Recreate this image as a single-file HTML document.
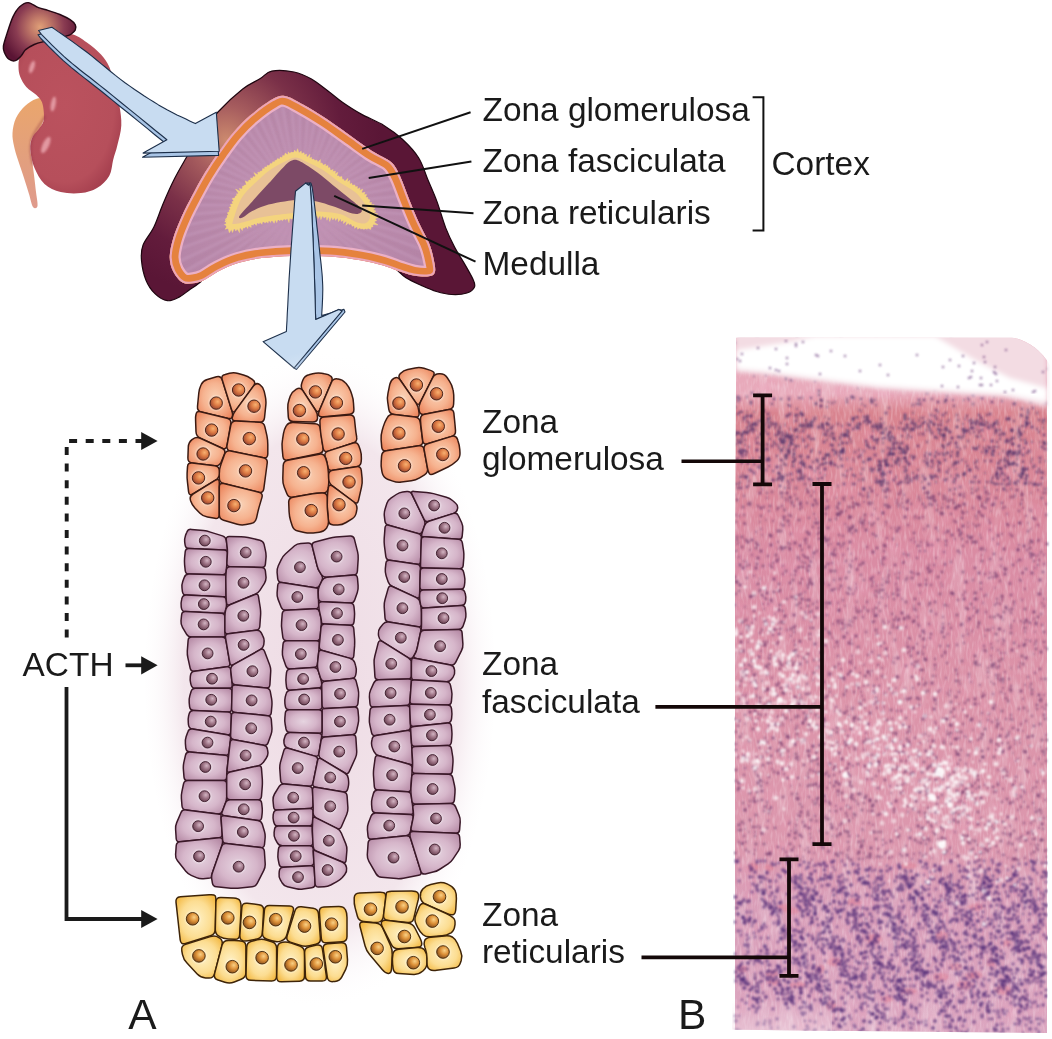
<!DOCTYPE html>
<html><head><meta charset="utf-8"><style>
html,body{margin:0;padding:0;background:#fff;width:1052px;height:1039px;overflow:hidden;}
svg{display:block;}
text{font-family:"Liberation Sans",sans-serif;fill:#1a1a1a;}
</style></head><body>
<svg width="1052" height="1039" viewBox="0 0 1052 1039">
<defs>
<radialGradient id="kid" cx="0.45" cy="0.45" r="0.6"><stop offset="0" stop-color="#bb525e"/><stop offset="0.8" stop-color="#b64f5b"/><stop offset="1" stop-color="#a6404f"/></radialGradient>
<radialGradient id="adr" gradientUnits="userSpaceOnUse" cx="40" cy="27" r="40"><stop offset="0" stop-color="#e0a078"/><stop offset="0.25" stop-color="#c07868"/><stop offset="0.6" stop-color="#8a3c52"/><stop offset="1" stop-color="#5a1434"/></radialGradient>
<linearGradient id="ure" x1="0" y1="0" x2="0" y2="1"><stop offset="0" stop-color="#eaa66c"/><stop offset="0.5" stop-color="#e3a07c"/><stop offset="1" stop-color="#df9a8c"/></linearGradient>
<radialGradient id="cap" gradientUnits="userSpaceOnUse" cx="226" cy="140" r="155"><stop offset="0" stop-color="#cc8a6e"/><stop offset="0.22" stop-color="#a65c5e"/><stop offset="0.5" stop-color="#7a3048"/><stop offset="0.75" stop-color="#631c3c"/><stop offset="1" stop-color="#5a1636"/></radialGradient>
<linearGradient id="arr" x1="0" y1="0" x2="1" y2="1"><stop offset="0" stop-color="#c9dcf1"/><stop offset="1" stop-color="#c3d8ef"/></linearGradient>
<filter id="kb" x="-50%" y="-50%" width="200%" height="200%"><feGaussianBlur stdDeviation="0.9"/></filter><filter id="sblur" x="-10%" y="-10%" width="120%" height="120%"><feGaussianBlur stdDeviation="1.2"/></filter><clipPath id="bandclip"><path d="M285,96 C290.2,96.8 296.2,100.8 303,104.6 C309.8,108.3 318.3,113.5 326,118.5 C333.7,123.5 341.3,129.3 349,134.7 C356.7,140.1 365,146.4 372,151 C379,155.6 386.3,157.8 391,162 C395.7,166.2 397,169.8 400,176 C403,182.2 405.9,191.3 409,199 C412.1,206.7 415.3,214.7 418.6,222 C421.9,229.3 426.4,236.8 428.9,242.8 C431.4,248.8 432.4,253.2 433.4,258 C434.4,262.8 435.8,268.6 435,271.7 C434.2,274.8 432.5,275.7 428.9,276.3 C425.3,276.9 418.7,276.4 413.6,275.5 C408.5,274.6 403.5,272.6 398.4,271 C393.3,269.4 389.5,267.4 383.2,265.6 C376.9,263.8 369.3,261.8 360.4,260.3 C351.5,258.8 341.4,257.2 330,256.5 C318.6,255.8 303.4,255.6 292,255.9 C280.6,256.2 270.6,257 261.7,258.1 C252.8,259.2 246,260.6 238.9,262.7 C231.8,264.8 224.8,268.1 219,271 C213.2,273.9 208.2,278.2 203.9,280.2 C199.6,282.2 196.8,282.8 193.2,283.2 C189.6,283.6 185.9,284.4 182.6,282.5 C179.3,280.6 175.5,275.9 173.3,271.7 C171.2,267.5 169.7,262.9 169.7,257.3 C169.7,251.7 171.3,244.8 173.3,238 C175.3,231.2 178.5,223.6 181.7,216.4 C184.9,209.2 188.8,201.9 192.6,194.7 C196.4,187.5 200.2,180.3 204.6,173.1 C209,165.9 214.2,158.2 219,151.4 C223.8,144.6 228.3,138.2 233.5,132.2 C238.7,126.2 243.9,120.8 250.3,115.3 C256.7,109.8 266.2,102.7 272,99.5 C277.8,96.3 279.8,95.2 285,96 Z"/></clipPath><radialGradient id="fas" gradientUnits="userSpaceOnUse" cx="300" cy="200" r="130"><stop offset="0" stop-color="#c090b0"/><stop offset="1" stop-color="#b686a8"/></radialGradient>
<radialGradient id="go" cx="0.5" cy="0.5" r="0.62"><stop offset="0" stop-color="#fad2b6"/><stop offset="0.55" stop-color="#f6b390"/><stop offset="1" stop-color="#ec875f"/></radialGradient>
<radialGradient id="gp" cx="0.5" cy="0.5" r="0.62"><stop offset="0" stop-color="#e6d4e0"/><stop offset="0.55" stop-color="#d6b6ca"/><stop offset="1" stop-color="#b78ca7"/></radialGradient>
<radialGradient id="gy" cx="0.5" cy="0.5" r="0.62"><stop offset="0" stop-color="#fff2c8"/><stop offset="0.6" stop-color="#fcdd92"/><stop offset="1" stop-color="#f3b944"/></radialGradient>
<radialGradient id="no" cx="0.62" cy="0.38" r="0.72"><stop offset="0" stop-color="#f8b070"/><stop offset="0.45" stop-color="#dc7a44"/><stop offset="1" stop-color="#8a3a2c"/></radialGradient>
<radialGradient id="np" cx="0.62" cy="0.38" r="0.72"><stop offset="0" stop-color="#d2b4c2"/><stop offset="0.45" stop-color="#9e7486"/><stop offset="1" stop-color="#5c3646"/></radialGradient>
<radialGradient id="ny" cx="0.62" cy="0.38" r="0.72"><stop offset="0" stop-color="#fad084"/><stop offset="0.45" stop-color="#dc9038"/><stop offset="1" stop-color="#7a4418"/></radialGradient>
<radialGradient id="glow" gradientUnits="userSpaceOnUse" cx="320" cy="680" r="330" gradientTransform="translate(320 680) scale(0.55 1) translate(-320 -680)"><stop offset="0" stop-color="#eedbe4"/><stop offset="0.75" stop-color="#f3e6ec"/><stop offset="1" stop-color="#ffffff" stop-opacity="0"/></radialGradient>
<clipPath id="hclip"><path d="M736.3,337.2 L1012,337.4 C1025,340 1040,348 1050.5,366 L1047.4,1033 L732.2,1029.6 Z"/></clipPath><linearGradient id="hbase" gradientUnits="userSpaceOnUse" x1="0" y1="338" x2="0" y2="1033">
<stop offset="0.08" stop-color="#e8aabb"/><stop offset="0.107" stop-color="#d9848f"/><stop offset="0.205" stop-color="#da8899"/>
<stop offset="0.32" stop-color="#da8ca4"/><stop offset="0.52" stop-color="#dc94a9"/><stop offset="0.737" stop-color="#dc98ae"/><stop offset="0.81" stop-color="#d99eb8"/><stop offset="1" stop-color="#dca6c0"/></linearGradient><filter id="mott" x="0" y="0" width="100%" height="100%">
<feTurbulence type="fractalNoise" baseFrequency="0.09 0.02" numOctaves="2" seed="4" result="n"/>
<feColorMatrix in="n" type="matrix" values="0 0 0 0 1  0 0 0 0 1  0 0 0 0 1  1.6 0 0 0 -0.8" result="w"/>
<feComposite in="w" in2="SourceGraphic" operator="in"/>
</filter><filter id="mott2" x="0" y="0" width="100%" height="100%">
<feTurbulence type="fractalNoise" baseFrequency="0.05" numOctaves="2" seed="9" result="n"/>
<feColorMatrix in="n" type="matrix" values="0 0 0 0 0.86  0 0 0 0 0.35  0 0 0 0 0.5  0 1.6 0 0 -0.85" result="w"/>
<feComposite in="w" in2="SourceGraphic" operator="in"/>
</filter><filter id="grain" x="0" y="0" width="100%" height="100%">
<feTurbulence type="fractalNoise" baseFrequency="0.45 0.12" numOctaves="1" seed="21" result="n"/>
<feColorMatrix in="n" type="matrix" values="0 0 0 0 1  0 0 0 0 0.9  0 0 0 0 0.95  2.2 0 0 0 -1.0" result="w"/>
<feComposite in="w" in2="SourceGraphic" operator="in"/>
</filter><filter id="soft" x="-2%" y="-2%" width="104%" height="104%"><feGaussianBlur stdDeviation="0.85"/></filter><filter id="soft2" x="-2%" y="-2%" width="104%" height="104%"><feGaussianBlur stdDeviation="1.3"/></filter><filter id="blur2" x="-5%" y="-20%" width="110%" height="140%"><feGaussianBlur stdDeviation="2.5"/></filter><linearGradient id="hbot" x1="0" y1="0" x2="0" y2="1"><stop offset="0" stop-color="#f4dce6" stop-opacity="0"/><stop offset="1" stop-color="#f4dce6" stop-opacity="0.55"/></linearGradient></defs>
<path d="M44,100 C42.5,97.3 39.2,98 36,99 C32.8,100 28.3,102.8 25,106 C21.7,109.2 18.1,113.5 16,118 C13.9,122.5 12.8,128.3 12.5,133 C12.2,137.7 13.1,141.5 14,146 C14.9,150.5 16.3,154.7 18,160 C19.7,165.3 22.2,172.3 24,178 C25.8,183.7 27.5,189.2 29,194 C30.5,198.8 31.6,205 33,207 C34.4,209 37,208.5 37.5,206 C38,203.5 36.6,197.2 36,192 C35.4,186.8 34.7,180.3 34,175 C33.3,169.7 32.7,164.5 32,160 C31.3,155.5 30,151.7 30,148 C30,144.3 30.3,141.3 32,138 C33.7,134.7 37.8,131.8 40,128 C42.2,124.2 44.3,119.7 45,115 C45.7,110.3 45.5,102.7 44,100 Z" fill="url(#ure)"/>
<path d="M50.5,37 C56,36 64.7,33.1 70.8,34 C76.9,34.9 81.9,39.1 86.9,42.5 C91.9,45.9 97.3,50.6 101,54.6 C104.7,58.6 107.2,62.3 109.2,66.7 C111.2,71.1 111.5,74.5 113.2,80.9 C114.9,87.3 118,97.7 119.3,105.1 C120.6,112.5 121.6,118.7 121.3,125.4 C121,132.2 118.6,139.9 117.3,145.6 C116,151.3 114.5,154.6 113.2,159.7 C111.9,164.8 111.9,171.2 109.2,175.9 C106.5,180.6 101.7,185.1 97,188 C92.3,190.9 87,192.4 80.9,193.1 C74.9,193.8 66.8,193.6 60.7,192.1 C54.6,190.6 48.9,188.1 44.5,184 C40.1,179.9 36.8,173.5 34.4,167.8 C32,162.1 30.7,154.7 30.3,149.6 C29.9,144.5 30.9,140.9 32.3,137.5 C33.6,134.1 36.5,132.1 38.4,129.4 C40.3,126.7 42.6,124.7 43.5,121.3 C44.4,117.9 43.9,112.6 43.5,109.2 C43.1,105.8 42.6,103.5 41.4,101.1 C40.2,98.7 38.9,97.4 36.4,95 C33.9,92.6 29,89.9 26.3,86.9 C23.6,83.9 21.5,80.2 20.2,76.8 C18.9,73.4 18.5,70 18.5,66.7 C18.5,63.4 18.4,60.5 20,57 C21.6,53.5 25,48.8 28,46 C31,43.2 34.2,41.5 38,40 C41.8,38.5 45,38 50.5,37 Z" fill="url(#kid)"/>
<path d="M45,116 C41,124 34,131 31.5,140 C30,147 30.5,156 33,165" fill="none" stroke="#8e3040" stroke-width="2" opacity="0.45" filter="url(#kb)"/>
<ellipse cx="32" cy="67" rx="2.4" ry="6.5" transform="rotate(18 32 67)" fill="#eaa6ae" opacity="0.85" filter="url(#kb)"/>
<ellipse cx="53.3" cy="104" rx="2.4" ry="7.5" transform="rotate(10 53.3 104)" fill="#eaa6ae" opacity="0.85" filter="url(#kb)"/>
<ellipse cx="45.8" cy="145" rx="3.2" ry="9" transform="rotate(25 45.8 145)" fill="#eaa6ae" opacity="0.85" filter="url(#kb)"/>
<path d="M28.2,2.6 C31.3,2.8 35.2,6.4 38.5,7.7 C41.8,9 44.3,9.2 47.9,10.3 C51.5,11.4 56.2,12.9 59.9,14.5 C63.6,16.1 67.5,18 70.1,19.7 C72.7,21.4 74.4,23.1 75.3,24.8 C76.2,26.5 76,28.3 75.3,29.9 C74.6,31.5 72.4,33.2 71,34.2 C69.6,35.2 69.4,35 66.7,35.9 C64,36.8 59,38.5 55,39.5 C51,40.5 46.3,41.1 42.8,41.9 C39.3,42.7 37.1,43.2 34.2,44.5 C31.4,45.8 27.8,47.8 25.7,49.6 C23.6,51.5 23.1,53.8 21.4,55.6 C19.7,57.5 17.5,60.1 15.4,60.7 C13.3,61.3 10.4,60.4 8.6,59 C6.7,57.6 5.2,54.3 4.3,52.2 C3.4,50.1 3,49.2 3.4,46.2 C3.8,43.2 5.2,39.1 6.8,34.2 C8.4,29.4 10.7,21.7 12.8,17.1 C15,12.5 17.1,9.2 19.7,6.8 C22.3,4.4 25.1,2.5 28.2,2.6 Z" fill="url(#adr)" stroke="#250814" stroke-width="1.4"/>
<path d="M271.8,71.1 C277.5,70 287.5,70.7 294,72 C300.5,73.3 305.3,75.6 311,78.8 C316.7,82 322.8,87.1 328,91 C333.2,94.9 336.9,98.5 342.4,102.3 C347.9,106.1 353.9,110.1 360.8,113.9 C367.7,117.8 377,121.2 383.9,125.4 C390.8,129.6 396.6,133.9 402.4,139.3 C408.2,144.7 414.3,151 418.6,157.8 C422.9,164.6 424.9,172.7 428,180 C431.1,187.3 434.1,193.7 437,201.6 C439.9,209.5 442.7,220 445.6,227.6 C448.6,235.2 451.7,241.6 454.7,247.4 C457.7,253.2 460.8,257.3 463.8,262.6 C466.9,267.9 471.2,275.2 473,279.3 C474.8,283.4 475.5,284.6 474.5,286.9 C473.5,289.2 470.7,291.7 466.9,293 C463.1,294.3 456.8,294.8 451.7,294.5 C446.6,294.2 441.6,293 436.5,291.5 C431.4,290 426.4,287.7 421.3,285.4 C416.2,283.1 410.3,280.6 406,277.8 C401.7,275 399.2,271.2 395.4,268.7 C391.6,266.2 388.9,264.9 383,263 C377.1,261.1 368.8,258.9 360,257.5 C351.2,256.1 341.3,255.2 330,254.5 C318.7,253.8 303.3,253.4 292,253.5 C280.7,253.6 270.8,254.1 262,255 C253.2,255.9 246.2,257.2 239,259 C231.8,260.8 224.7,263.2 219,266 C213.3,268.8 208,273.4 205,276 C202,278.6 203.3,279.5 200.8,281.7 C198.3,283.9 193.8,286.8 190.2,289.3 C186.6,291.8 183.3,295 179.5,296.9 C175.7,298.8 171.5,301.2 167.4,300.7 C163.3,300.2 158.8,297.3 155.2,293.9 C151.6,290.5 148.3,285.8 146,280.2 C143.7,274.6 142,266.2 141.5,260.4 C141,254.6 140.9,250.8 143,245.2 C145.1,239.6 150.6,233.9 153.9,227 C157.2,220.1 159.6,212.1 163,204 C166.4,195.9 170.7,186.2 174.6,178.5 C178.5,170.8 182,165.1 186.2,157.8 C190.4,150.6 194.7,142.6 200,135 C205.3,127.4 210.9,119.7 218,112 C225.1,104.3 235.7,94.5 242.7,89 C249.7,83.5 255,81.8 259.9,78.8 C264.8,75.8 266.1,72.2 271.8,71.1 Z" fill="url(#cap)" stroke="#1e0610" stroke-width="1.2"/>
<g clip-path="url(#bandclip)"><path d="M285,96 C290.2,96.8 296.2,100.8 303,104.6 C309.8,108.3 318.3,113.5 326,118.5 C333.7,123.5 341.3,129.3 349,134.7 C356.7,140.1 365,146.4 372,151 C379,155.6 386.3,157.8 391,162 C395.7,166.2 397,169.8 400,176 C403,182.2 405.9,191.3 409,199 C412.1,206.7 415.3,214.7 418.6,222 C421.9,229.3 426.4,236.8 428.9,242.8 C431.4,248.8 432.4,253.2 433.4,258 C434.4,262.8 435.8,268.6 435,271.7 C434.2,274.8 432.5,275.7 428.9,276.3 C425.3,276.9 418.7,276.4 413.6,275.5 C408.5,274.6 403.5,272.6 398.4,271 C393.3,269.4 389.5,267.4 383.2,265.6 C376.9,263.8 369.3,261.8 360.4,260.3 C351.5,258.8 341.4,257.2 330,256.5 C318.6,255.8 303.4,255.6 292,255.9 C280.6,256.2 270.6,257 261.7,258.1 C252.8,259.2 246,260.6 238.9,262.7 C231.8,264.8 224.8,268.1 219,271 C213.2,273.9 208.2,278.2 203.9,280.2 C199.6,282.2 196.8,282.8 193.2,283.2 C189.6,283.6 185.9,284.4 182.6,282.5 C179.3,280.6 175.5,275.9 173.3,271.7 C171.2,267.5 169.7,262.9 169.7,257.3 C169.7,251.7 171.3,244.8 173.3,238 C175.3,231.2 178.5,223.6 181.7,216.4 C184.9,209.2 188.8,201.9 192.6,194.7 C196.4,187.5 200.2,180.3 204.6,173.1 C209,165.9 214.2,158.2 219,151.4 C223.8,144.6 228.3,138.2 233.5,132.2 C238.7,126.2 243.9,120.8 250.3,115.3 C256.7,109.8 266.2,102.7 272,99.5 C277.8,96.3 279.8,95.2 285,96 Z" fill="url(#fas)"/><path d="M320.0,205.0L520.0,205.0M319.9,206.7L519.2,224.2M319.7,208.5L516.7,243.2M319.3,210.2L512.5,261.9M318.8,211.8L506.7,280.2M318.1,213.5L499.4,298.0M317.3,215.0L490.5,315.0M316.4,216.5L480.2,331.2M315.3,217.9L468.5,346.4M314.1,219.1L455.6,360.6M312.9,220.3L441.4,373.5M311.5,221.4L426.2,385.2M310.0,222.3L410.0,395.5M308.5,223.1L393.0,404.4M306.8,223.8L375.2,411.7M305.2,224.3L356.9,417.5M303.5,224.7L338.2,421.7M301.7,224.9L319.2,424.2M300.0,225.0L300.0,425.0M298.3,224.9L280.8,424.2M296.5,224.7L261.8,421.7M294.8,224.3L243.1,417.5M293.2,223.8L224.8,411.7M291.5,223.1L207.0,404.4M290.0,222.3L190.0,395.5M288.5,221.4L173.8,385.2M287.1,220.3L158.6,373.5M285.9,219.1L144.4,360.6M284.7,217.9L131.5,346.4M283.6,216.5L119.8,331.2M282.7,215.0L109.5,315.0M281.9,213.5L100.6,298.0M281.2,211.8L93.3,280.2M280.7,210.2L87.5,261.9M280.3,208.5L83.3,243.2M280.1,206.7L80.8,224.2M280.0,205.0L80.0,205.0M280.1,203.3L80.8,185.8M280.3,201.5L83.3,166.8M280.7,199.8L87.5,148.1M281.2,198.2L93.3,129.8M281.9,196.5L100.6,112.0M282.7,195.0L109.5,95.0M283.6,193.5L119.8,78.8M284.7,192.1L131.5,63.6M285.9,190.9L144.4,49.4M287.1,189.7L158.6,36.5M288.5,188.6L173.8,24.8M290.0,187.7L190.0,14.5M291.5,186.9L207.0,5.6M293.2,186.2L224.8,-1.7M294.8,185.7L243.1,-7.5M296.5,185.3L261.8,-11.7M298.3,185.1L280.8,-14.2M300.0,185.0L300.0,-15.0M301.7,185.1L319.2,-14.2M303.5,185.3L338.2,-11.7M305.2,185.7L356.9,-7.5M306.8,186.2L375.2,-1.7M308.5,186.9L393.0,5.6M310.0,187.7L410.0,14.5M311.5,188.6L426.2,24.8M312.9,189.7L441.4,36.5M314.1,190.9L455.6,49.4M315.3,192.1L468.5,63.6M316.4,193.5L480.2,78.8M317.3,195.0L490.5,95.0M318.1,196.5L499.4,112.0M318.8,198.2L506.7,129.8M319.3,199.8L512.5,148.1M319.7,201.5L516.7,166.8M319.9,203.3L519.2,185.8" stroke="#cca4c6" stroke-width="3" opacity="0.3" filter="url(#sblur)"/><path d="M320.0,205.9L519.8,214.6M319.5,209.3L514.8,252.6M318.5,212.7L503.3,289.2M316.9,215.7L485.5,323.2M314.7,218.5L462.2,353.6M312.2,220.9L433.9,379.5M309.2,222.7L401.6,400.1M306.0,224.1L366.2,414.8M302.6,224.8L328.7,423.1M299.1,225.0L290.4,424.8M295.7,224.5L252.4,419.8M292.3,223.5L215.8,408.3M289.3,221.9L181.8,390.5M286.5,219.7L151.4,367.2M284.1,217.2L125.5,338.9M282.3,214.2L104.9,306.6M280.9,211.0L90.2,271.2M280.2,207.6L81.9,233.7M280.0,204.1L80.2,195.4M280.5,200.7L85.2,157.4M281.5,197.3L96.7,120.8M283.1,194.3L114.5,86.8M285.3,191.5L137.8,56.4M287.8,189.1L166.1,30.5M290.8,187.3L198.4,9.9M294.0,185.9L233.8,-4.8M297.4,185.2L271.3,-13.1M300.9,185.0L309.6,-14.8M304.3,185.5L347.6,-9.8M307.7,186.5L384.2,1.7M310.7,188.1L418.2,19.5M313.5,190.3L448.6,42.8M315.9,192.8L474.5,71.1M317.7,195.8L495.1,103.4M319.1,199.0L509.8,138.8M319.8,202.4L518.1,176.3" stroke="#a87898" stroke-width="2" opacity="0.15" filter="url(#sblur)"/><path d="M285,96 C290.2,96.8 296.2,100.8 303,104.6 C309.8,108.3 318.3,113.5 326,118.5 C333.7,123.5 341.3,129.3 349,134.7 C356.7,140.1 365,146.4 372,151 C379,155.6 386.3,157.8 391,162 C395.7,166.2 397,169.8 400,176 C403,182.2 405.9,191.3 409,199 C412.1,206.7 415.3,214.7 418.6,222 C421.9,229.3 426.4,236.8 428.9,242.8 C431.4,248.8 432.4,253.2 433.4,258 C434.4,262.8 435.8,268.6 435,271.7 C434.2,274.8 432.5,275.7 428.9,276.3 C425.3,276.9 418.7,276.4 413.6,275.5 C408.5,274.6 403.5,272.6 398.4,271 C393.3,269.4 389.5,267.4 383.2,265.6 C376.9,263.8 369.3,261.8 360.4,260.3 C351.5,258.8 341.4,257.2 330,256.5 C318.6,255.8 303.4,255.6 292,255.9 C280.6,256.2 270.6,257 261.7,258.1 C252.8,259.2 246,260.6 238.9,262.7 C231.8,264.8 224.8,268.1 219,271 C213.2,273.9 208.2,278.2 203.9,280.2 C199.6,282.2 196.8,282.8 193.2,283.2 C189.6,283.6 185.9,284.4 182.6,282.5 C179.3,280.6 175.5,275.9 173.3,271.7 C171.2,267.5 169.7,262.9 169.7,257.3 C169.7,251.7 171.3,244.8 173.3,238 C175.3,231.2 178.5,223.6 181.7,216.4 C184.9,209.2 188.8,201.9 192.6,194.7 C196.4,187.5 200.2,180.3 204.6,173.1 C209,165.9 214.2,158.2 219,151.4 C223.8,144.6 228.3,138.2 233.5,132.2 C238.7,126.2 243.9,120.8 250.3,115.3 C256.7,109.8 266.2,102.7 272,99.5 C277.8,96.3 279.8,95.2 285,96 Z" fill="none" stroke="#ebb0c6" stroke-width="22"/><path d="M285,96 C290.2,96.8 296.2,100.8 303,104.6 C309.8,108.3 318.3,113.5 326,118.5 C333.7,123.5 341.3,129.3 349,134.7 C356.7,140.1 365,146.4 372,151 C379,155.6 386.3,157.8 391,162 C395.7,166.2 397,169.8 400,176 C403,182.2 405.9,191.3 409,199 C412.1,206.7 415.3,214.7 418.6,222 C421.9,229.3 426.4,236.8 428.9,242.8 C431.4,248.8 432.4,253.2 433.4,258 C434.4,262.8 435.8,268.6 435,271.7 C434.2,274.8 432.5,275.7 428.9,276.3 C425.3,276.9 418.7,276.4 413.6,275.5 C408.5,274.6 403.5,272.6 398.4,271 C393.3,269.4 389.5,267.4 383.2,265.6 C376.9,263.8 369.3,261.8 360.4,260.3 C351.5,258.8 341.4,257.2 330,256.5 C318.6,255.8 303.4,255.6 292,255.9 C280.6,256.2 270.6,257 261.7,258.1 C252.8,259.2 246,260.6 238.9,262.7 C231.8,264.8 224.8,268.1 219,271 C213.2,273.9 208.2,278.2 203.9,280.2 C199.6,282.2 196.8,282.8 193.2,283.2 C189.6,283.6 185.9,284.4 182.6,282.5 C179.3,280.6 175.5,275.9 173.3,271.7 C171.2,267.5 169.7,262.9 169.7,257.3 C169.7,251.7 171.3,244.8 173.3,238 C175.3,231.2 178.5,223.6 181.7,216.4 C184.9,209.2 188.8,201.9 192.6,194.7 C196.4,187.5 200.2,180.3 204.6,173.1 C209,165.9 214.2,158.2 219,151.4 C223.8,144.6 228.3,138.2 233.5,132.2 C238.7,126.2 243.9,120.8 250.3,115.3 C256.7,109.8 266.2,102.7 272,99.5 C277.8,96.3 279.8,95.2 285,96 Z" fill="none" stroke="#e5823e" stroke-width="17.5"/><path d="M285,96 C290.2,96.8 296.2,100.8 303,104.6 C309.8,108.3 318.3,113.5 326,118.5 C333.7,123.5 341.3,129.3 349,134.7 C356.7,140.1 365,146.4 372,151 C379,155.6 386.3,157.8 391,162 C395.7,166.2 397,169.8 400,176 C403,182.2 405.9,191.3 409,199 C412.1,206.7 415.3,214.7 418.6,222 C421.9,229.3 426.4,236.8 428.9,242.8 C431.4,248.8 432.4,253.2 433.4,258 C434.4,262.8 435.8,268.6 435,271.7 C434.2,274.8 432.5,275.7 428.9,276.3 C425.3,276.9 418.7,276.4 413.6,275.5 C408.5,274.6 403.5,272.6 398.4,271 C393.3,269.4 389.5,267.4 383.2,265.6 C376.9,263.8 369.3,261.8 360.4,260.3 C351.5,258.8 341.4,257.2 330,256.5 C318.6,255.8 303.4,255.6 292,255.9 C280.6,256.2 270.6,257 261.7,258.1 C252.8,259.2 246,260.6 238.9,262.7 C231.8,264.8 224.8,268.1 219,271 C213.2,273.9 208.2,278.2 203.9,280.2 C199.6,282.2 196.8,282.8 193.2,283.2 C189.6,283.6 185.9,284.4 182.6,282.5 C179.3,280.6 175.5,275.9 173.3,271.7 C171.2,267.5 169.7,262.9 169.7,257.3 C169.7,251.7 171.3,244.8 173.3,238 C175.3,231.2 178.5,223.6 181.7,216.4 C184.9,209.2 188.8,201.9 192.6,194.7 C196.4,187.5 200.2,180.3 204.6,173.1 C209,165.9 214.2,158.2 219,151.4 C223.8,144.6 228.3,138.2 233.5,132.2 C238.7,126.2 243.9,120.8 250.3,115.3 C256.7,109.8 266.2,102.7 272,99.5 C277.8,96.3 279.8,95.2 285,96 Z" fill="none" stroke="#eba5b8" stroke-width="4"/></g>
<path d="M226.5,222.4 C227.6,217 232.4,203.3 236.2,196.6 C239.9,189.9 243.6,187.1 249,182 C254.4,176.9 262.6,170.2 268.5,165.9 C274.4,161.6 280,158.5 284.6,156.2 C289.2,153.9 291.9,151.8 296,152.1 C300.1,152.4 304.1,155.5 308.9,157.8 C313.7,160.1 319.6,162.4 325,165.9 C330.4,169.4 335.8,175 341.2,178.8 C346.6,182.6 352.8,184.7 357.4,188.5 C362,192.3 365.8,196.6 368.7,201.4 C371.6,206.2 374.8,213.3 375.1,217.6 C375.4,221.9 373.2,225.7 370.3,227.3 C367.4,228.9 362.2,228.7 357.4,227.3 C352.5,226 347.9,221.1 341.2,219.2 C334.5,217.3 323.7,216.3 317,216 C310.3,215.7 306.2,217.1 300.8,217.6 C295.4,218.1 291.3,218.4 284.6,219.2 C277.9,220 267.1,221.1 260.4,222.4 C253.7,223.8 249.3,226.2 244.2,227.3 C239.1,228.4 232.6,229.7 229.7,228.9 C226.8,228.1 225.4,227.8 226.5,222.4 Z" fill="#f4d47e"/>
<path d="M224.8,222 L227.9,221.2 L225.2,219.2 L228.3,217.8 L226.9,215.9 L228.6,215.1 L227.4,213.2 L230,212.3 L229.5,210.9 L230.5,209.3 L229.1,207.2 L231.4,206.7 L230.3,204.3 L233.3,203.7 L232.2,202 L234,201.3 L232.4,198.8 L234.9,197.9 L235,196.5 L236.9,195.6 L236.5,193.7 L238.9,193.9 L235.5,189 L240.6,191.4 L239.3,188.4 L242.8,189.2 L242.2,186.5 L243.8,186.1 L244.5,184.9 L246.4,184.9 L245.2,180.9 L248.1,182.1 L248.9,180.1 L250.9,180.3 L250.6,177.9 L252.8,178.3 L253.1,176.5 L255.9,177.1 L253.9,172.6 L258.2,175.1 L257.7,172.2 L259.9,172.3 L260.2,171.2 L262.2,171 L262.6,168.6 L264.5,168.9 L264.7,166.9 L266.9,166.9 L267.3,165.3 L269.4,165.7 L270.2,163.5 L272.2,163.7 L272.7,161.7 L274.8,162 L274.9,160.4 L277,160 L277.4,158.6 L280,159.2 L280,157.1 L282.2,157.8 L282.7,155.4 L284.3,155.8 L285.2,153 L288.1,155.1 L288,151.8 L290.2,153.8 L291,152 L293.4,153.2 L294.6,150.1 L296.3,152.2 L297.6,148.7 L299,152.9 L301.2,151 L301.6,153.5 L304,152.7 L304.5,155.1 L306.5,154 L306.7,157.8 L310,154.2 L309.4,158.2 L311.6,157.2 L311.7,160 L313.8,159 L314.7,160.7 L316.9,160 L317.7,162.3 L320.4,159.6 L320.4,163.7 L322,162.8 L323.1,165.2 L325.6,164 L325.7,166.2 L328,165.5 L328.1,168 L329.9,167.6 L330.4,170.5 L333.2,169.4 L332.6,171.5 L335.5,171.1 L335,174 L337.8,172.3 L336.8,176.6 L338.8,175.7 L339.5,177.1 L341.9,176.5 L342.3,179.6 L344,179.6 L344.3,181.7 L348,178.3 L347.4,182.1 L349.8,180.3 L349.9,184.2 L351.8,183.1 L352.1,185.2 L354.9,184.9 L355.3,186.7 L357.5,186.4 L357.2,189.4 L359.8,187.7 L359.8,190.4 L362.8,189.1 L361.3,193 L364.9,192.2 L364.2,194.6 L366.7,194.6 L365.5,197.4 L367.7,197.3 L367.9,199.1 L370,199.9 L369.2,202.4 L371.7,202.4 L371.2,204.7 L374.2,204.6 L372.5,207.4 L375.1,208.1 L373.1,210 L376,211.1 L373.8,213 L377.7,213.8 L374.4,215.9 L378.6,217.1 L374.9,218.9 L376.8,220.6 L373.8,221.7 L378,224.9 L372.4,224.3 L373.1,227 L371.4,226.7 L370.7,229.6 L368.1,228.2 L367.1,229.3 L365.3,228.5 L363.9,229.5 L362.7,228.7 L360.8,229.1 L359.7,228 L357.6,229.2 L357,226.4 L354.7,228.5 L354,225.3 L352,226.4 L351.7,223.8 L349.1,224.6 L348.6,222.9 L345.8,225.3 L346.8,220.7 L343.3,223.6 L343.5,220.2 L341.1,221.4 L340.9,218.4 L338.4,221.8 L337.7,217.4 L335.6,220.4 L334.7,217.7 L332.8,220.1 L331.5,217.1 L329.7,221.4 L328.7,216.7 L326.9,220.2 L326.2,216.5 L324.1,218.1 L322.6,215.6 L320.9,219.7 L320.1,215.3 L318.2,218.5 L316.7,215.2 L315,217.8 L313.6,215.6 L312.3,218.6 L310.6,216 L310,218.5 L308.1,216.3 L306.5,218.6 L305,216.8 L303.8,221.1 L301.7,217.1 L300.7,219.4 L299.3,217.1 L297.3,219 L296.1,217.3 L294.8,220.4 L293.2,218.1 L291.9,219.3 L289.7,217.7 L289,222.7 L287.2,218.1 L285.7,220.2 L284.2,218.3 L282.5,220.7 L280.7,219.1 L279.9,221 L278.1,219.1 L276.7,222.7 L275.4,219.4 L274.2,223.3 L271.7,220 L270.5,222.5 L268.7,220.1 L268.1,223.1 L266.4,221.8 L265.2,223.1 L262.8,221.2 L261.9,224.3 L259.8,222.1 L259.1,223.9 L257.3,222.4 L256.3,225.4 L254.2,223.3 L253.2,225.3 L251.2,224.2 L251.2,227.6 L248.4,225.8 L247.7,228.6 L246.2,226.4 L244.3,228.3 L243.4,227.5 L242.3,230.6 L239.8,227.2 L239.6,232.7 L237.2,228.9 L235.8,231.1 L234.3,228.1 L232.5,232.6 L231.4,229.6 L229.3,232.8 L228.1,228.5 L225,229.2 L227.1,226.3 L224.3,224.5 L226.6,223.5 L225.7,221.6 L227,220.9 L226,218.5 L228.2,218.1 L227.2,215.4 L229.5,215.3 L227.6,212.4 L229.6,211.8 L229.1,210.1 L231.4,209 L230.3,207.1 L231.7,206.5 L231.8,205 L233.3,203.7 L231.8,201.8 L234.2,201 L232.5,198.3 L236.4,198.5 Z" fill="#f4d47e" stroke="#f4d47e" stroke-width="0.4"/>
<path d="M233,221 C234.2,216.8 237.7,205 241,199 C244.3,193 248.2,189.8 253,185 C257.8,180.2 264.5,174 270,170 C275.5,166 281.7,163.1 286,161 C290.3,158.9 292.5,157.3 296,157.5 C299.5,157.7 302.5,159.9 307,162 C311.5,164.1 317.7,166.7 323,170 C328.3,173.3 333.7,178.3 339,182 C344.3,185.7 350.7,188.3 355,192 C359.3,195.7 362.5,200 365,204 C367.5,208 369.8,212.8 370,216 C370.2,219.2 368.3,222 366,223 C363.7,224 360.3,223.5 356,222 C351.7,220.5 346.5,215.8 340,214 C333.5,212.2 323.5,211.8 317,211.5 C310.5,211.2 306.2,212.1 300.8,212.5 C295.4,212.9 291.3,213.2 284.6,214 C277.9,214.8 267.1,216.2 260.4,217.5 C253.7,218.8 248.6,220.9 244.2,222 C239.8,223.1 235.9,224.2 234,224 C232.1,223.8 231.8,225.2 233,221 Z" fill="#e8c196"/>
<path d="M239.4,216 C241,213.3 247.5,206.8 252.3,201.4 C257.2,196 263.1,189.5 268.5,183.6 C273.9,177.7 280.6,169.8 284.6,165.9 C288.6,162 290,160.9 292.7,160.2 C295.4,159.5 296.8,159.8 300.8,161.8 C304.9,163.8 311.6,168.4 317,172.3 C322.4,176.2 327.6,180.9 333,185.2 C338.4,189.5 344.7,194.4 349.3,198.2 C353.9,202 358.7,205.5 360.6,207.9 C362.5,210.3 362,211.8 360.6,212.7 C359.2,213.6 357.1,214.6 352.5,213.5 C347.9,212.4 338.9,208.3 333,206.3 C327.1,204.3 322.4,202.5 317,201.4 C311.6,200.3 306.2,199.8 300.8,199.8 C295.4,199.8 290,200.6 284.6,201.4 C279.2,202.2 273.9,203 268.5,204.6 C263.1,206.2 256.6,208.9 252.3,211.1 C248,213.3 244.8,216.8 242.6,217.6 C240.4,218.4 237.8,218.7 239.4,216 Z" fill="#7d4a66"/>
<path d="M38,34.7 L51.3,31.4 L54,33.3 L57.5,35.8 L61.8,38.7 L66.5,42.1 L71.5,45.6 L76.6,49.3 L81.6,52.9 L86.4,56.5 L91,60.1 L95.7,63.9 L100.4,67.8 L105.2,71.7 L110,75.7 L114.8,79.6 L119.6,83.3 L124.4,86.9 L129.2,90.3 L134,93.7 L138.9,97 L143.8,100.2 L148.6,103.3 L153.3,106.2 L157.9,109.1 L162.4,111.7 L166.9,114.2 L171.7,116.7 L176.4,119.1 L181,121.3 L185.3,123.3 L189.1,125.1 L192.3,126.6 L194.8,127.8 L215.7,116.4 L218.6,155.4 L142.5,157.3 L166.3,144 L161.4,140 L154.8,134.7 L146.9,128.2 L138.2,121.1 L129.2,113.8 L120.4,106.7 L112.3,100.1 L105.4,94.5 L99.5,89.8 L94,85.5 L89,81.5 L84.3,77.9 L79.8,74.4 L75.6,71 L71.4,67.6 L67.4,64.2 L63.3,60.6 L59.3,56.8 L55.4,53.1 L51.7,49.5 L48.3,46.1 L45.3,43 L42.8,40.5 L40.8,38.5 Z" fill="#a9c5e6" stroke="#1c2f4a" stroke-width="1.1" stroke-linejoin="round"/>
<path d="M38.6,30.5 L51.9,27.2 L54.6,29.1 L58.1,31.6 L62.4,34.5 L67.1,37.9 L72.1,41.4 L77.2,45.1 L82.2,48.7 L87,52.3 L91.6,55.9 L96.3,59.7 L101,63.6 L105.8,67.5 L110.6,71.5 L115.4,75.4 L120.2,79.1 L125,82.7 L129.8,86.1 L134.6,89.5 L139.5,92.8 L144.3,96 L149.2,99.1 L153.9,102 L158.5,104.9 L163,107.5 L167.5,110 L172.3,112.5 L177,114.9 L181.6,117.1 L185.9,119.1 L189.7,120.9 L192.9,122.4 L195.4,123.6 L216.3,112.2 L219.2,151.2 L143.1,153.1 L166.9,139.8 L162,135.8 L155.4,130.5 L147.5,124 L138.8,116.9 L129.8,109.6 L121,102.5 L112.9,95.9 L106,90.3 L100.1,85.6 L94.6,81.3 L89.6,77.3 L84.9,73.7 L80.4,70.2 L76.2,66.8 L72,63.4 L68,60 L63.9,56.4 L59.9,52.6 L56,48.9 L52.3,45.3 L48.9,41.9 L45.9,38.8 L43.4,36.3 L41.4,34.3 Z" fill="#c8dcf1" stroke="#1c2f4a" stroke-width="1.1" stroke-linejoin="round"/>
<line x1="362.2" y1="148.9" x2="470.6" y2="112.2" stroke="#111" stroke-width="2"/>
<line x1="368.7" y1="178" x2="471.4" y2="161.4" stroke="#111" stroke-width="2"/>
<line x1="362.2" y1="205.6" x2="473.5" y2="213.2" stroke="#111" stroke-width="2"/>
<line x1="334.2" y1="195.8" x2="475.5" y2="261.7" stroke="#111" stroke-width="2"/>
<path d="M305.6,183.1 L309,183 L309.3,183.2 L309.6,183.1 L309.9,182.9 L310.4,182.9 L310.9,183.3 L311.4,184.5 L312,186.7 L312.6,190.2 L313.3,195.3 L314.2,202 L315.1,209.9 L316.1,218.4 L317,227.1 L318,235.6 L318.8,243.4 L319.5,250 L320.1,255.6 L320.7,260.6 L321.2,265.1 L321.6,269.3 L322,273.3 L322.3,277.1 L322.5,281 L322.7,285 L322.8,289.2 L322.7,293.7 L322.6,298.1 L322.4,302.4 L322.2,306.5 L322,310.1 L321.8,313.2 L321.7,315.5 L344,309.4 L345,312 L296.5,369.5 L294,368 L342,311 L338.9,309.4 L315.7,319.5 L315.5,314.1 L315.3,307 L315.1,298.4 L314.8,288.9 L314.5,279 L314.2,269 L313.8,259.5 L313.5,250.8 L313.2,242.5 L312.8,233.8 L312.4,225 L312,216.5 L311.7,208.5 L311.3,201.3 L310.9,195.1 L310.6,190.2 L310.3,186.9 L310,184.9 L309.7,184 L309.4,183.9 L309.2,184.3 L308.9,184.8 L308.7,185.2 L308.6,185.2 Z" fill="#a9c5e6" stroke="#1c2f4a" stroke-width="1.1" stroke-linejoin="round"/>
<path d="M295.5,191.2 L305.6,183.1 L308.6,185.2 L308.7,185.2 L308.9,184.8 L309.2,184.3 L309.4,183.9 L309.7,184 L310,184.9 L310.3,186.9 L310.6,190.2 L310.9,195.1 L311.3,201.3 L311.7,208.5 L312,216.5 L312.4,225 L312.8,233.8 L313.2,242.5 L313.5,250.8 L313.8,259.5 L314.2,269 L314.5,279 L314.8,288.9 L315.1,298.4 L315.3,307 L315.5,314.1 L315.7,319.5 L338.9,309.4 L342,311 L294,368 L263.1,341.7 L286.4,331.6 L286.6,326.9 L287,320.6 L287.3,313.1 L287.8,304.8 L288.2,296.1 L288.7,287.2 L289.1,278.8 L289.6,271 L290.1,263.6 L290.6,255.9 L291.1,248.2 L291.7,240.7 L292.2,233.4 L292.7,226.6 L293.2,220.4 L293.6,215 L294,210.3 L294.3,206.2 L294.5,202.7 L294.8,199.6 L295,197 L295.2,194.7 L295.4,192.8 L295.5,191.2 Z" fill="#c8dcf1" stroke="#1c2f4a" stroke-width="1.1" stroke-linejoin="round"/>
<ellipse cx="320" cy="680" rx="175" ry="330" fill="url(#glow)"/>
<g stroke-linejoin="round"><path d="M201.3,384.3 Q203,380.8 207.3,379.5 L216.5,376.7 Q220.8,375.4 222.2,379.7 L231.6,409.7 Q233,414 232.4,416.4 L232.2,416.9 Q231.6,419.3 227.2,418.2 L201.4,411.9 Q197,410.8 197.5,406.3 L198.8,393 Q199.3,388.5 201,385 Z" fill="url(#go)" stroke="#3b1a12" stroke-width="1.5"/><path d="M222.2,379.7 Q220.8,375.4 225.2,374.4 L229.5,373.3 Q233.9,372.3 238.2,373.5 L243.5,375 Q247.8,376.2 251.5,378.8 L252.6,379.7 Q256.3,382.3 253.6,385.9 L235.7,410.4 Q233,414 231.6,409.7 Z" fill="url(#go)" stroke="#3b1a12" stroke-width="1.5"/><path d="M253.6,385.9 Q256.3,382.3 259.4,384.4 L260.1,384.9 Q263.2,387 264.2,391.4 L265.3,396.4 Q266.3,400.8 265.8,405.3 L264.5,417.9 Q264,422.4 259.5,422.2 L236.1,421 Q231.6,420.8 232.2,417.7 L232.4,417.1 Q233,414 235.7,410.4 Z" fill="url(#go)" stroke="#3b1a12" stroke-width="1.5"/><path d="M196.3,413.3 Q197,410.8 201.4,411.9 L227.2,418.2 Q231.6,419.3 230.8,423.7 L227,445.7 Q226.2,450.1 222.1,448.2 L200.3,438.2 Q196.2,436.3 196,431.8 L195.6,420.7 Q195.4,416.2 196.1,413.7 Z" fill="url(#go)" stroke="#3b1a12" stroke-width="1.5"/><path d="M230.8,425.2 Q231.6,420.8 236.1,421 L259.5,422.2 Q264,422.4 264.9,426.8 L266.9,435.6 Q267.8,440 267.8,444.5 L267.8,454.1 Q267.8,458.6 263.4,457.7 L230.6,451 Q226.2,450.1 227,445.7 Z" fill="url(#go)" stroke="#3b1a12" stroke-width="1.5"/><path d="M192.7,439.1 Q196.2,436.3 200.3,438.2 L222.1,448.2 Q226.2,450.1 224.4,454.2 L221.1,462.2 Q219.3,466.3 214.8,465.7 L192.2,463 Q187.7,462.4 187.9,457.9 L188.3,446.9 Q188.5,442.4 192,439.6 Z" fill="url(#go)" stroke="#3b1a12" stroke-width="1.5"/><path d="M224.6,454.3 Q226.2,450.1 230.6,451 L263.4,457.7 Q267.8,458.6 267.2,463.1 L266.9,465.5 Q266.3,470 265.7,474.5 L263.8,488.8 Q263.2,493.3 258.8,492.2 L223.7,483.6 Q219.3,482.5 219.3,478 L219.3,473.1 Q219.3,468.6 220.9,464.4 Z" fill="url(#go)" stroke="#3b1a12" stroke-width="1.5"/><path d="M187.5,466.9 Q187.7,462.4 192.2,463 L214.8,465.7 Q219.3,466.3 219.3,470.8 L219.3,473.4 Q219.3,477.9 215.5,480.2 L193,494 Q189.2,496.3 188.6,491.8 L187.5,482.4 Q186.9,477.9 187.1,473.4 Z" fill="url(#go)" stroke="#3b1a12" stroke-width="1.5"/><path d="M190.5,500.3 Q189.2,496.3 193,494 L215.5,480.2 Q219.3,477.9 219.3,482.4 L219.3,514.5 Q219.3,519 214.9,518.3 L207.5,517.1 Q203.1,516.4 200,513.2 L195.1,508.2 Q192,505 190.7,501 Z" fill="url(#go)" stroke="#3b1a12" stroke-width="1.5"/><path d="M219.3,487 Q219.3,482.5 223.7,483.6 L258.8,492.2 Q263.2,493.3 261.9,497.6 L259.9,504.4 Q258.6,508.7 257.6,513.1 L256.5,518.1 Q255.5,522.5 251.1,523.5 L246,524.6 Q241.6,525.6 237.3,524.3 L223.6,520.3 Q219.3,519 219.3,514.5 Z" fill="url(#go)" stroke="#3b1a12" stroke-width="1.5"/><path d="M302.8,390.7 Q300.3,386.9 301.9,382.7 L302.9,380.1 Q304.5,375.9 308.9,374.8 L312.7,373.7 Q317.1,372.6 321.6,373.2 L324.4,373.7 Q328.9,374.3 330.8,376.2 L331.2,376.6 Q333.1,378.5 331.3,382.6 L319.7,409.7 Q317.9,413.8 315.4,410 Z" fill="url(#go)" stroke="#3b1a12" stroke-width="1.5"/><path d="M296.4,389.2 Q300.3,386.9 302.8,390.7 L315.4,410 Q317.9,413.8 317.5,417.6 L317.5,418.4 Q317.1,422.2 312.6,422.1 L293,421.5 Q288.5,421.4 288.3,416.9 L287.8,408.2 Q287.6,403.7 289.1,399.5 L290.3,396.1 Q291.8,391.9 295.7,389.6 Z" fill="url(#go)" stroke="#3b1a12" stroke-width="1.5"/><path d="M331.3,382.6 Q333.1,378.5 337.3,378.9 L338.1,378.9 Q342.3,379.3 345.3,382.7 L346.1,383.5 Q349.1,386.9 350.6,391.1 L351.8,394.5 Q353.3,398.7 353.5,403.2 L353.9,409.3 Q354.1,413.8 349.6,414.2 L324.1,416.8 Q319.6,417.2 318.8,415.7 L318.7,415.3 Q317.9,413.8 319.7,409.7 Z" fill="url(#go)" stroke="#3b1a12" stroke-width="1.5"/><path d="M286.6,425.3 Q288.5,422.2 293,422.4 L315.1,423.7 Q319.6,423.9 320.3,428.4 L323.1,448 Q323.8,452.5 319.4,453.4 L287.8,460.1 Q283.4,461 282.9,456.5 L282.2,448.6 Q281.7,444.1 282.5,439.7 L283.5,433.4 Q284.3,429 286.2,425.9 Z" fill="url(#go)" stroke="#3b1a12" stroke-width="1.5"/><path d="M319.9,421.7 Q319.6,417.2 324.1,416.9 L349.6,415 Q354.1,414.7 354.5,419.2 L355.4,427.8 Q355.8,432.3 356.6,436.5 L356.7,437.4 Q357.5,441.6 353.2,443 L328.1,451.1 Q323.8,452.5 323.1,448.1 L321.2,436.7 Q320.5,432.3 320.2,427.8 Z" fill="url(#go)" stroke="#3b1a12" stroke-width="1.5"/><path d="M325.2,456.8 Q323.8,452.5 328.1,451.1 L353.2,443 Q357.5,441.6 358.9,445.9 L360.3,449.9 Q361.7,454.2 361.4,458.7 L361.2,461.5 Q360.9,466 356.5,466.7 L332.7,470.3 Q328.3,471 327.8,467.2 L327.7,466.4 Q327.2,462.6 325.8,458.3 Z" fill="url(#go)" stroke="#3b1a12" stroke-width="1.5"/><path d="M283.2,465.5 Q283.4,461 287.8,460.2 L319.4,454.2 Q323.8,453.4 325.3,457.6 L325.7,458.4 Q327.2,462.6 327.7,466.4 L327.8,467.2 Q328.3,471 328.6,475.5 L328.7,479 Q329,483.5 328.3,487.8 L328.2,488.7 Q327.5,493 323,493 L321.6,492.9 Q317.1,492.9 312.7,493.7 L292.9,497.2 Q288.5,498 286.9,493.8 L284.2,487 Q282.6,482.8 282.8,478.3 Z" fill="url(#go)" stroke="#3b1a12" stroke-width="1.5"/><path d="M328.6,475.5 Q328.3,471 332.7,470.3 L356.5,466.7 Q360.9,466 361.3,470.5 L362.1,478.3 Q362.5,482.8 361.5,487.2 L358.5,500.3 Q357.5,504.7 353.9,502 L332.6,486.2 Q329,483.5 328.7,479 Z" fill="url(#go)" stroke="#3b1a12" stroke-width="1.5"/><path d="M328.3,487.8 Q329,483.5 332.6,486.2 L353.9,502 Q357.5,504.7 356.9,509.2 L356.4,512 Q355.8,516.5 352,518.9 L346.1,522.5 Q342.3,524.9 337.8,524.9 L333.4,524.9 Q328.9,524.9 328.4,520.4 L327.7,512.6 Q327.2,508.1 327.3,503.6 L327.4,497.5 Q327.5,493 328.2,488.7 Z" fill="url(#go)" stroke="#3b1a12" stroke-width="1.5"/><path d="M288.7,502.5 Q288.5,498 292.9,497.2 L312.7,493.7 Q317.1,492.9 321.6,492.9 L322.7,493 Q327.2,493 327.2,497.5 L327.2,503.6 Q327.2,508.1 327.7,512.6 L328.4,520.4 Q328.9,524.9 326.6,528 L326.1,528.6 Q323.8,531.7 319.3,532.2 L313.2,532.9 Q308.7,533.4 304.3,532.4 L297.9,531 Q293.5,530 292.2,525.7 L290.6,520.8 Q289.3,516.5 289.1,512 Z" fill="url(#go)" stroke="#3b1a12" stroke-width="1.5"/><path d="M400.2,380 Q397.7,376.3 400.2,373.7 L400.8,373.2 Q403.3,370.6 407.7,369.6 L415.2,367.9 Q419.6,366.9 423.9,368.3 L429,369.9 Q433.3,371.3 433.9,372.4 L434,372.7 Q434.6,373.8 432.6,377.8 L420.3,402.3 Q418.3,406.3 415.8,402.6 Z" fill="url(#go)" stroke="#3b1a12" stroke-width="1.5"/><path d="M394.6,378 Q397.7,376.3 400.2,380 L415.8,402.6 Q418.3,406.3 418.8,410.8 L419.1,413.1 Q419.6,417.6 415.1,417 L394,414.4 Q389.5,413.8 388.8,409.4 L387.7,401.9 Q387,397.5 388,393.1 L389.8,384.4 Q390.8,380 393.9,378.3 Z" fill="url(#go)" stroke="#3b1a12" stroke-width="1.5"/><path d="M432.6,377.8 Q434.6,373.8 439.1,373.8 L440.1,373.8 Q444.6,373.8 447.1,377.5 L449.6,381.3 Q452.1,385 452.9,389.4 L453.2,390.6 Q454,395 453.8,399.5 L453.6,404.3 Q453.4,408.8 449,409.6 L424.6,414.3 Q420.2,415.1 419.3,411.1 L419.2,410.3 Q418.3,406.3 420.3,402.3 Z" fill="url(#go)" stroke="#3b1a12" stroke-width="1.5"/><path d="M387.3,417.7 Q389.5,413.8 394,414.4 L415.1,417 Q419.6,417.6 420.2,422.1 L422.7,440.6 Q423.3,445.1 418.9,445.8 L386.4,450.7 Q382,451.4 381.7,446.9 L381.1,439.6 Q380.8,435.1 382.1,430.8 L383.2,426.9 Q384.5,422.6 386.7,418.7 Z" fill="url(#go)" stroke="#3b1a12" stroke-width="1.5"/><path d="M420.5,419.6 Q420.2,415.1 424.6,414.3 L449,409.6 Q453.4,408.8 453.9,413.3 L454.1,415.6 Q454.6,420.1 455,424.6 L455.5,430.6 Q455.9,435.1 451.6,436.4 L427.6,443.8 Q423.3,445.1 422.7,440.6 L421.4,429.6 Q420.8,425.1 420.5,420.6 Z" fill="url(#go)" stroke="#3b1a12" stroke-width="1.5"/><path d="M381.6,455.9 Q382,451.4 386.4,450.7 L418.9,445.8 Q423.3,445.1 424.1,449.5 L427.5,468.2 Q428.3,472.6 424.5,474.9 L419.6,477.9 Q415.8,480.2 411.3,480.8 L401.5,482.1 Q397,482.7 392.8,481.1 L387.5,479.2 Q383.3,477.6 382.3,473.2 L381.8,470.8 Q380.8,466.4 381.2,461.9 Z" fill="url(#go)" stroke="#3b1a12" stroke-width="1.5"/><path d="M424.1,449.5 Q423.3,445.1 427.6,443.8 L451.6,436.4 Q455.9,435.1 457.5,439.3 L458,440.9 Q459.6,445.1 459.8,449.6 L460,453.1 Q460.2,457.6 456.9,460.7 L455.4,462 Q452.1,465.1 448,467 L434.9,473.2 Q430.8,475.1 429.7,474 L429.4,473.7 Q428.3,472.6 427.5,468.2 Z" fill="url(#go)" stroke="#3b1a12" stroke-width="1.5"/><path d="M186.8,532.3 Q188,529 191.5,529.4 L203.5,530.6 Q206.9,531 210.3,532.1 L222.5,535.9 Q225.9,537 226.3,540.5 L227.1,546.5 Q227.6,550 227.6,550.1 L227.6,550.1 Q227.6,550.2 224.1,550.1 L189,548.5 Q185.5,548.4 185.1,544.9 L184.7,542.2 Q184.3,538.7 185.5,535.4 Z" fill="url(#gp)" stroke="#3a1828" stroke-width="1.5"/><path d="M185.2,551.9 Q185.5,548.4 189,548.5 L224.1,550.1 Q227.6,550.2 227.4,553.7 L226.9,563.1 Q226.7,566.6 226.3,570.1 L226.2,571.4 Q225.8,574.9 222.3,574.8 L189,574.1 Q185.5,574 185.2,570.5 L184.6,564.7 Q184.3,561.2 184.6,557.7 Z" fill="url(#gp)" stroke="#3a1828" stroke-width="1.5"/><path d="M184.3,577.3 Q185.5,574 189,574.1 L222.3,574.8 Q225.8,574.9 225.8,574.9 L225.8,575 Q225.8,575 225.8,578.5 L226,592.5 Q226,596 226,596.4 L226,596.4 Q226.1,596.8 222.6,596.7 L186.3,595.1 Q182.8,595 182.4,591.5 L182,588 Q181.6,584.5 182.8,581.2 Z" fill="url(#gp)" stroke="#3a1828" stroke-width="1.5"/><path d="M181.9,598.4 Q182.8,595 186.3,595.1 L222.6,596.7 Q226.1,596.8 226.3,600.3 L226.5,602.5 Q226.7,606 225.9,609.2 L225.7,609.8 Q224.9,613 224.9,613.1 L224.9,613.2 Q224.9,613.3 221.4,613.2 L185.4,611.6 Q181.9,611.5 181.4,608 L181.2,606.7 Q180.7,603.2 181.6,599.9 Z" fill="url(#gp)" stroke="#3a1828" stroke-width="1.5"/><path d="M181.6,615 Q181.9,611.5 185.4,611.6 L221.4,613.2 Q224.9,613.3 224.9,616.8 L224.9,630.8 Q224.9,634.3 225.1,635.6 L225.2,635.8 Q225.4,637.1 221.9,637.1 L191.8,637.1 Q188.3,637.1 186.5,634.1 L182.5,627.3 Q180.7,624.3 181,620.8 Z" fill="url(#gp)" stroke="#3a1828" stroke-width="1.5"/><path d="M188.1,640.6 Q188.3,637.1 191.8,637.1 L221.9,637.1 Q225.4,637.1 226,640.5 L229.8,662.9 Q230.4,666.3 226.9,666.8 L194.5,671.3 Q191,671.8 190.2,668.4 L187.9,657.9 Q187.1,654.5 187.3,651 Z" fill="url(#gp)" stroke="#3a1828" stroke-width="1.5"/><path d="M190.5,675.3 Q191,671.8 194.5,671.3 L226.9,666.8 Q230.4,666.3 230.7,669.8 L231.9,681.1 Q232.2,684.6 232.2,686.3 L232.1,686.6 Q232.1,688.3 228.6,688.3 L195.5,688.3 Q192,688.3 191.1,684.9 L190.7,683.4 Q189.8,680 190.3,676.6 Z" fill="url(#gp)" stroke="#3a1828" stroke-width="1.5"/><path d="M191,691.7 Q192,688.3 195.5,688.3 L228.6,688.3 Q232.1,688.3 232,691.8 L231.6,708.7 Q231.5,712.2 228,712 L193.5,710.4 Q190,710.2 189.6,706.7 L189.2,702.7 Q188.8,699.2 189.8,695.9 Z" fill="url(#gp)" stroke="#3a1828" stroke-width="1.5"/><path d="M189.2,713.6 Q190,710.2 193.5,710.4 L228,712 Q231.5,712.2 231.4,715.7 L230.8,731.8 Q230.6,735.3 227.2,734.7 L192.5,729.1 Q189,728.5 188.5,725 L188.3,722.8 Q187.8,719.4 188.6,715.9 Z" fill="url(#gp)" stroke="#3a1828" stroke-width="1.5"/><path d="M187.9,731.8 Q189,728.5 192.5,729.1 L227.2,734.7 Q230.6,735.3 230.6,737 L230.6,737.4 Q230.5,739.1 230.1,742.6 L229,752 Q228.7,755.5 225.2,755.2 L189.7,752 Q186.2,751.7 185.8,748.2 L185.4,743.6 Q185,740.1 186.1,736.8 Z" fill="url(#gp)" stroke="#3a1828" stroke-width="1.5"/><path d="M185.5,755.1 Q186.2,751.7 189.7,752 L225.2,755.2 Q228.7,755.5 228.3,759 L227.1,769.4 Q226.7,772.9 226.7,776.4 L226.7,777.1 Q226.7,780.6 223.2,780.6 L187.8,780.6 Q184.3,780.6 184,777.1 L183.4,769.6 Q183.1,766.2 183.8,762.7 Z" fill="url(#gp)" stroke="#3a1828" stroke-width="1.5"/><path d="M183.5,784 Q184.3,780.6 187.8,780.6 L223.2,780.6 Q226.7,780.6 226.7,784.1 L226.7,796.3 Q226.7,799.8 225.5,803.1 L222.5,811 Q221.2,814.3 217.8,813.9 L185.8,809.9 Q182.3,809.5 182,806 L181.4,798.5 Q181.1,795 181.9,791.6 Z" fill="url(#gp)" stroke="#3a1828" stroke-width="1.5"/><path d="M180.9,812.7 Q182.3,809.5 185.8,809.9 L217.8,813.9 Q221.2,814.3 221.1,814.7 L221.1,814.8 Q220.9,815.2 221.1,818.7 L222.2,833.9 Q222.4,837.4 218.9,837.8 L180,841.8 Q176.5,842.2 176.2,838.7 L175.6,829.3 Q175.3,825.9 176.7,822.6 Z" fill="url(#gp)" stroke="#3a1828" stroke-width="1.5"/><path d="M176.2,845.7 Q176.5,842.2 180,841.8 L218.9,837.8 Q222.4,837.4 222.6,840 L222.6,840.6 Q222.8,843.2 221.6,846.5 L212.4,872.7 Q211.2,876 211.4,876.9 L211.4,877.1 Q211.5,878 208.1,878.3 L203.3,878.7 Q199.8,879 196.5,877.6 L191.2,875.4 Q188,874 185.8,871.3 L177.5,860.8 Q175.3,858.1 175.6,854.6 Z" fill="url(#gp)" stroke="#3a1828" stroke-width="1.5"/><path d="M259.9,540.2 Q263.3,541 264.1,544.4 L265.5,550.9 Q266.3,554.3 266,557.8 L265.4,564.1 Q265.1,567.6 261.6,567.5 L230.2,566.7 Q226.7,566.6 226.9,563.1 L227.4,553.5 Q227.6,550 227.1,546.5 L226.3,540 Q225.8,536.5 229.3,536.5 L241.1,536.7 Q244.6,536.8 248,537.5 Z" fill="url(#gp)" stroke="#3a1828" stroke-width="1.5"/><path d="M261.6,567.5 Q265.1,567.6 265.4,571.1 L266,576.9 Q266.3,580.4 264.4,583.3 L259.9,590.3 Q258,593.2 254.8,594.5 L229.9,604.7 Q226.7,606 226.5,602.5 L226.2,599.5 Q226,596 226,592.5 L225.8,578.5 Q225.8,575 226.2,571.5 L226.3,570.1 Q226.7,566.6 230.2,566.7 Z" fill="url(#gp)" stroke="#3a1828" stroke-width="1.5"/><path d="M254.8,594.5 Q258,593.2 258.5,596.7 L260.3,608 Q260.8,611.5 260.6,614.9 L259.8,626.2 Q259.6,629.7 256.1,630.2 L228.4,633.8 Q224.9,634.3 224.9,630.8 L224.9,616.5 Q224.9,613 225.7,609.8 L225.9,609.2 Q226.7,606 229.9,604.7 Z" fill="url(#gp)" stroke="#3a1828" stroke-width="1.5"/><path d="M256.1,630.2 Q259.6,629.7 261.3,632.8 L262.8,635.8 Q264.5,638.9 264,642.3 L263.8,644.5 Q263.3,648 260.2,649.7 L233.5,664.6 Q230.4,666.3 229.8,662.9 L225.5,637.7 Q224.9,634.3 228.4,633.8 Z" fill="url(#gp)" stroke="#3a1828" stroke-width="1.5"/><path d="M260.2,649.7 Q263.3,648 264.5,651.3 L269.7,664.9 Q270.9,668.1 270.7,671.6 L269.9,684.8 Q269.7,688.3 266.2,688 L235.7,684.9 Q232.2,684.6 231.9,681.1 L230.7,669.8 Q230.4,666.3 233.5,664.6 Z" fill="url(#gp)" stroke="#3a1828" stroke-width="1.5"/><path d="M266.2,688 Q269.7,688.3 270.3,691.7 L271.6,698.7 Q272.2,702.1 271.9,705.6 L271.3,712.5 Q271,716 267.5,715.7 L235,712.5 Q231.5,712.2 231.6,708.7 L232.1,688.1 Q232.2,684.6 235.7,684.9 Z" fill="url(#gp)" stroke="#3a1828" stroke-width="1.5"/><path d="M267.5,715.7 Q271,716 271.3,719.5 L271.9,727.5 Q272.2,731 271.1,734.3 L268.2,742.6 Q267.1,745.9 263.7,745.3 L233.9,739.7 Q230.5,739.1 230.6,735.6 L231.4,715.7 Q231.5,712.2 235,712.5 Z" fill="url(#gp)" stroke="#3a1828" stroke-width="1.5"/><path d="M263.7,745.3 Q267.1,745.9 267.5,749.4 L267.9,752 Q268.3,755.5 266.2,758.3 L263.4,762.3 Q261.3,765.1 257.9,765.9 L230.1,772.1 Q226.7,772.9 227.1,769.4 L230.1,742.6 Q230.5,739.1 233.9,739.7 Z" fill="url(#gp)" stroke="#3a1828" stroke-width="1.5"/><path d="M257.9,765.9 Q261.3,765.1 261.5,768.6 L262.3,779 Q262.5,782.5 262.3,785.9 L261.5,796.3 Q261.3,799.8 257.8,799.8 L230.2,799.8 Q226.7,799.8 226.7,796.3 L226.7,776.4 Q226.7,772.9 230.1,772.1 Z" fill="url(#gp)" stroke="#3a1828" stroke-width="1.5"/><path d="M257.8,799.8 Q261.3,799.8 261.7,803.3 L262.1,806.9 Q262.5,810.4 262.1,813.9 L261.7,817.5 Q261.3,821 257.8,820.5 L224.4,815.7 Q220.9,815.2 222.1,811.9 L225.5,803.1 Q226.7,799.8 230.2,799.8 Z" fill="url(#gp)" stroke="#3a1828" stroke-width="1.5"/><path d="M257.8,820.5 Q261.3,821 262.3,824.3 L264.4,831.2 Q265.4,834.5 265.1,838 L264.5,844.5 Q264.2,848 260.7,847.6 L226.3,843.6 Q222.8,843.2 222.6,839.7 L221.1,818.7 Q220.9,815.2 224.4,815.7 Z" fill="url(#gp)" stroke="#3a1828" stroke-width="1.5"/><path d="M260.7,847.6 Q264.2,848 264.4,851.5 L265.2,863.8 Q265.4,867.2 263.8,870.4 L257.2,883.4 Q255.6,886.5 252.1,886.8 L237.8,888.2 Q234.3,888.5 230.8,888.2 L216.5,886.8 Q213,886.5 212.4,883.1 L211.8,879.4 Q211.2,876 212.4,872.7 L221.6,846.5 Q222.8,843.2 226.3,843.6 Z" fill="url(#gp)" stroke="#3a1828" stroke-width="1.5"/><path d="M281.5,559.2 Q283,556 285.6,553.7 L294.6,545.8 Q297.2,543.5 300.7,543.4 L308,543.1 Q311.5,543 312.3,546.4 L317.2,566.1 Q318,569.5 320,572.4 L321.4,574.6 Q323.4,577.5 321.9,580.7 L319.9,585 Q318.4,588.2 314.9,587.7 L281.5,582.5 Q278,582 277.7,578.5 L277.1,572.5 Q276.8,569 278.3,565.8 Z" fill="url(#gp)" stroke="#3a1828" stroke-width="1.5"/><path d="M277.7,585.5 Q278,582 281.5,582.5 L314.9,587.7 Q318.4,588.2 318.2,588.6 L318.2,588.6 Q318,589 318.2,592.5 L318.7,605.1 Q318.9,608.6 315.4,608.8 L286,610.2 Q282.5,610.4 281.2,607.2 L278.1,599.4 Q276.8,596.2 277.1,592.7 Z" fill="url(#gp)" stroke="#3a1828" stroke-width="1.5"/><path d="M282.2,613.9 Q282.5,610.4 286,610.2 L315.4,608.8 Q318.9,608.6 319.6,612 L320.9,617.7 Q321.6,621.1 321.3,624.6 L320.1,637.2 Q319.8,640.7 316.3,640.7 L286.8,640.7 Q283.3,640.7 282.8,637.2 L281.8,629 Q281.3,625.5 281.6,622.1 Z" fill="url(#gp)" stroke="#3a1828" stroke-width="1.5"/><path d="M283,644.2 Q283.3,640.7 286.8,640.7 L316.3,640.7 Q319.8,640.7 319.4,644.2 L319.3,646.1 Q318.9,649.6 318.6,653.1 L317.5,663.8 Q317.2,667.3 313.7,667.5 L290.4,668.9 Q286.9,669.1 285.8,665.8 L283.2,658.2 Q282.1,654.9 282.4,651.4 Z" fill="url(#gp)" stroke="#3a1828" stroke-width="1.5"/><path d="M286.5,672.6 Q286.9,669.1 290.4,668.9 L313.7,667.5 Q317.2,667.3 318.2,670.6 L320.6,678.3 Q321.6,681.6 321.7,684.4 L321.7,685 Q321.7,687.8 318.2,688.1 L290.4,690.2 Q286.9,690.5 286.5,687 L286.1,683.3 Q285.7,679.8 286.1,676.3 Z" fill="url(#gp)" stroke="#3a1828" stroke-width="1.5"/><path d="M286.1,693.9 Q286.9,690.5 290.4,690.2 L318.2,688.1 Q321.7,687.8 321.8,691.3 L322.1,706.2 Q322.2,709.7 318.7,709.7 L289.2,709.7 Q285.7,709.7 285.3,706.2 L284.9,703.6 Q284.5,700.1 285.3,696.7 Z" fill="url(#gp)" stroke="#3a1828" stroke-width="1.5"/><path d="M285.3,713.2 Q285.7,709.7 289.2,709.7 L318.7,709.7 Q322.2,709.7 322.2,713.2 L322.2,729.9 Q322.2,733.4 318.7,733.3 L290.2,732.5 Q286.7,732.4 286,729 L285.2,724.5 Q284.5,721 284.9,717.6 Z" fill="url(#gp)" stroke="#3a1828" stroke-width="1.5"/><path d="M285.3,735.6 Q286.7,732.4 290.2,732.5 L318.7,733.3 Q322.2,733.4 321.6,736.9 L318.9,753.6 Q318.3,757.1 314.9,756.1 L288.1,748.2 Q284.7,747.2 284.2,743.8 L284,743.2 Q283.5,739.8 284.9,736.6 Z" fill="url(#gp)" stroke="#3a1828" stroke-width="1.5"/><path d="M283.8,750.6 Q284.7,747.2 288.1,748.2 L314.9,756.1 Q318.3,757.1 317.6,760.5 L313,783.2 Q312.3,786.6 308.8,786.3 L284.3,784 Q280.8,783.7 280.6,780.2 L279.8,768.9 Q279.6,765.5 280.5,762.1 Z" fill="url(#gp)" stroke="#3a1828" stroke-width="1.5"/><path d="M279,786.7 Q280.8,783.7 284.3,784 L308.8,786.3 Q312.3,786.6 312.5,790.1 L313.1,804.8 Q313.3,808.3 309.8,808.5 L277.4,810.1 Q273.9,810.3 273.6,806.8 L273,800.5 Q272.7,797 274.5,794 Z" fill="url(#gp)" stroke="#3a1828" stroke-width="1.5"/><path d="M273.4,813.8 Q273.9,810.3 277.4,810.1 L309.8,808.5 Q313.3,808.3 313.1,811.8 L312.6,822.6 Q312.4,826.1 308.9,826.1 L278.4,826.1 Q274.9,826.1 274,822.7 L273.6,821.6 Q272.7,818.2 273.2,814.7 Z" fill="url(#gp)" stroke="#3a1828" stroke-width="1.5"/><path d="M274.5,829.6 Q274.9,826.1 278.4,826.1 L308.9,826.1 Q312.4,826.1 312.4,827 L312.3,827.2 Q312.3,828.1 312.4,831.6 L312.9,842.3 Q313.1,845.8 309.6,845.8 L282.3,845.8 Q278.8,845.8 277.2,842.7 L275.3,839.1 Q273.7,836 274.1,832.5 Z" fill="url(#gp)" stroke="#3a1828" stroke-width="1.5"/><path d="M278.4,849.3 Q278.8,845.8 282.3,845.8 L309.6,845.8 Q313.1,845.8 313.2,848.5 L313.2,849 Q313.3,851.7 313.5,855.2 L313.9,862 Q314.1,865.5 310.6,865.7 L283.3,867.3 Q279.8,867.5 279.1,864.1 L278.3,860.1 Q277.6,856.6 278,853.2 Z" fill="url(#gp)" stroke="#3a1828" stroke-width="1.5"/><path d="M279.3,871 Q279.8,867.5 283.3,867.3 L310.6,865.7 Q314.1,865.5 314.3,869 L315.1,883.7 Q315.3,887.2 311.8,887.7 L303.1,889.1 Q299.6,889.6 296.2,888.8 L287.4,886.8 Q284,886 282.2,883 L280.4,879.8 Q278.6,876.8 279.1,873.3 Z" fill="url(#gp)" stroke="#3a1828" stroke-width="1.5"/><path d="M350.1,536 Q353.6,535.7 354.4,539.1 L357.6,551.9 Q358.4,555.2 358.2,558.7 L357.4,571.3 Q357.2,574.8 353.7,575.1 L326.9,577.2 Q323.4,577.5 321.4,574.6 L320,572.4 Q318,569.5 317.2,566.1 L312.3,546.4 Q311.5,543 314.9,542.1 L329.2,538.3 Q332.6,537.4 336,537.1 Z" fill="url(#gp)" stroke="#3a1828" stroke-width="1.5"/><path d="M353.7,575.1 Q357.2,574.8 357.5,578.3 L358.1,585.6 Q358.4,589 357.3,592.4 L354.7,600 Q353.6,603.3 350.1,603.1 L322.1,601.7 Q318.6,601.5 318.4,598 L318.2,592.5 Q318,589 319.5,585.8 L321.9,580.7 Q323.4,577.5 326.9,577.2 Z" fill="url(#gp)" stroke="#3a1828" stroke-width="1.5"/><path d="M350.1,603.1 Q353.6,603.3 354,606.8 L354.4,610.9 Q354.8,614.4 354.4,617.9 L354,622 Q353.6,625.5 350.1,625.3 L324.8,624 Q321.4,623.8 321.5,622.6 L321.5,622.3 Q321.6,621.1 320.9,617.7 L319.6,612 Q318.9,608.6 318.8,605.4 L318.7,604.7 Q318.6,601.5 322.1,601.7 Z" fill="url(#gp)" stroke="#3a1828" stroke-width="1.5"/><path d="M350.1,625.3 Q353.6,625.5 353.8,629 L354.6,638.9 Q354.8,642.4 354.6,645.9 L353.8,655.8 Q353.6,659.3 350.2,658.4 L322.3,650.5 Q318.9,649.6 319.3,646.1 L319.4,644.2 Q319.8,640.7 320.1,637.2 L321,627.3 Q321.4,623.8 324.8,624 Z" fill="url(#gp)" stroke="#3a1828" stroke-width="1.5"/><path d="M350.2,658.4 Q353.6,659.3 354.7,662.6 L355.5,665.3 Q356.6,668.6 356.2,672.1 L355.8,674.5 Q355.4,678 351.9,678.4 L325.1,681.2 Q321.6,681.6 320.6,678.3 L318.2,670.6 Q317.2,667.3 317.5,663.8 L318.6,653.1 Q318.9,649.6 322.3,650.5 Z" fill="url(#gp)" stroke="#3a1828" stroke-width="1.5"/><path d="M351.9,678.4 Q355.4,678 356.2,681.4 L358.1,689 Q358.9,692.4 358.6,695.9 L358,703.3 Q357.7,706.8 354.2,707 L325.7,708.5 Q322.2,708.7 322.1,705.2 L321.7,685.1 Q321.6,681.6 325.1,681.2 Z" fill="url(#gp)" stroke="#3a1828" stroke-width="1.5"/><path d="M354.2,707 Q357.7,706.8 358,710.3 L358.6,717.1 Q358.9,720.6 358.1,724 L356.5,731 Q355.7,734.4 352.2,734.7 L325,737 Q321.6,737.3 321.8,735.5 L321.9,735.2 Q322.2,733.4 322.2,729.9 L322.2,713.2 Q322.2,709.7 322.2,709.2 L322.2,709.2 Q322.2,708.7 325.7,708.5 Z" fill="url(#gp)" stroke="#3a1828" stroke-width="1.5"/><path d="M352.2,734.7 Q355.7,734.4 355.9,737.9 L356.7,751.1 Q356.9,754.6 355.5,757.8 L349.2,771.6 Q347.8,774.8 344.8,773 L321.3,758.9 Q318.3,757.1 318.9,753.6 L321,740.8 Q321.6,737.3 325,737 Z" fill="url(#gp)" stroke="#3a1828" stroke-width="1.5"/><path d="M344.8,773 Q347.8,774.8 348.3,778.3 L348.5,780.2 Q349,783.7 348.2,787.1 L347.7,789.2 Q346.9,792.6 343.5,792 L315.7,787.2 Q312.3,786.6 313,783.2 L317.6,760.5 Q318.3,757.1 321.3,758.9 Z" fill="url(#gp)" stroke="#3a1828" stroke-width="1.5"/><path d="M343.5,792 Q346.9,792.6 347.1,796.1 L347.9,807.8 Q348.1,811.3 346.7,814.5 L341.4,826.8 Q340,830 336.9,828.4 L316,817.8 Q312.9,816.2 313.1,812.7 L313.1,811.8 Q313.3,808.3 313.1,804.8 L312.5,790.1 Q312.3,786.6 315.7,787.2 Z" fill="url(#gp)" stroke="#3a1828" stroke-width="1.5"/><path d="M336.9,828.4 Q340,830 341.4,833.2 L345.7,843.6 Q347.1,846.8 346.9,850.3 L346.1,860.1 Q345.9,863.6 342.7,862.2 L316.4,851.2 Q313.2,849.8 313.1,846.3 L312.4,831.6 Q312.3,828.1 312.5,824.6 L312.7,819.7 Q312.9,816.2 316,817.8 Z" fill="url(#gp)" stroke="#3a1828" stroke-width="1.5"/><path d="M342.7,862.2 Q345.9,863.6 346.4,867.1 L346.6,868.3 Q347.1,871.8 344.8,874.4 L342.3,877.4 Q340,880 336.9,881.6 L330.7,885 Q327.6,886.6 324.2,886.8 L318.8,887 Q315.3,887.2 315.1,883.7 L313.5,855.2 Q313.3,851.7 313.3,850.8 L313.3,850.7 Q313.2,849.8 316.4,851.2 Z" fill="url(#gp)" stroke="#3a1828" stroke-width="1.5"/><path d="M386.9,503.3 Q388,500 390.9,498.1 L396.3,494.5 Q399.2,492.6 402.7,492.1 L406.9,491.5 Q410.4,491.1 411.9,494.2 L424.1,519.3 Q425.6,522.4 424.5,525.7 L422.6,531.2 Q421.5,534.5 418.1,533.6 L388.6,525.3 Q385.2,524.4 384.9,520.9 L384.3,515.7 Q384,512.2 385.1,508.9 Z" fill="url(#gp)" stroke="#3a1828" stroke-width="1.5"/><path d="M385,527.9 Q385.2,524.4 388.6,525.3 L418.1,533.6 Q421.5,534.5 421.4,538 L420.6,561.3 Q420.5,564.8 417,564.3 L389.7,560.3 Q386.2,559.8 385.8,556.3 L384.4,545.6 Q384,542.1 384.2,538.6 Z" fill="url(#gp)" stroke="#3a1828" stroke-width="1.5"/><path d="M385.9,563.3 Q386.2,559.8 389.7,560.3 L417,564.3 Q420.5,564.8 420.4,568.3 L419.6,595.6 Q419.5,599.1 416.3,597.6 L392.4,586.5 Q389.2,585 388.1,581.7 L386.1,575.7 Q385,572.4 385.3,568.9 Z" fill="url(#gp)" stroke="#3a1828" stroke-width="1.5"/><path d="M388.2,588.4 Q389.2,585 392.4,586.5 L416.3,597.6 Q419.5,599.1 420.2,602.5 L420.8,605.8 Q421.5,609.2 421.5,612.7 L421.5,623.9 Q421.5,627.4 418,626.8 L388.7,622 Q385.2,621.4 385,617.9 L384.2,606.7 Q384,603.2 385,599.8 Z" fill="url(#gp)" stroke="#3a1828" stroke-width="1.5"/><path d="M383,624.1 Q385.2,621.4 388.7,622 L418,626.8 Q421.5,627.4 420.8,630.8 L417.2,648.2 Q416.5,651.6 414.6,654.6 L413.3,656.7 Q411.4,659.7 408.4,657.8 L382.1,641.4 Q379.1,639.5 378.6,636 L378.4,633.9 Q377.9,630.5 380.1,627.7 Z" fill="url(#gp)" stroke="#3a1828" stroke-width="1.5"/><path d="M378.2,642.9 Q379.1,639.5 382.1,641.4 L408.4,657.8 Q411.4,659.7 411.4,663.2 L411.4,675.4 Q411.4,678.9 407.9,679 L378.6,679.8 Q375.1,679.9 374.9,676.4 L374.1,663.2 Q373.9,659.7 374.8,656.3 Z" fill="url(#gp)" stroke="#3a1828" stroke-width="1.5"/><path d="M373.7,683.1 Q375.1,679.9 378.6,679.8 L407.9,679 Q411.4,678.9 411.4,680.3 L411.4,680.5 Q411.4,681.9 411.1,685.4 L409.9,701.7 Q409.6,705.2 406.1,705.4 L373.8,707 Q370.3,707.2 370,703.7 L369.4,697 Q369.1,693.5 370.5,690.3 Z" fill="url(#gp)" stroke="#3a1828" stroke-width="1.5"/><path d="M370,710.7 Q370.3,707.2 373.8,707 L406.1,705.4 Q409.6,705.2 409.8,708.7 L410.5,726.5 Q410.7,730 407.2,730.6 L375.9,735.6 Q372.4,736.2 371.6,732.8 L369.9,725.1 Q369.1,721.7 369.4,718.2 Z" fill="url(#gp)" stroke="#3a1828" stroke-width="1.5"/><path d="M372,739.7 Q372.4,736.2 375.9,735.6 L407.2,730.6 Q410.7,730 410.9,733.5 L412.5,759.6 Q412.7,763.1 412.6,764 L412.6,764.2 Q412.6,765.1 409.2,764.2 L378.9,755.7 Q375.5,754.8 374,751.6 L372.7,748.7 Q371.2,745.5 371.6,742 Z" fill="url(#gp)" stroke="#3a1828" stroke-width="1.5"/><path d="M375.1,758.3 Q375.5,754.8 378.9,755.7 L409.2,764.2 Q412.6,765.1 412.3,768.6 L410.9,788.5 Q410.7,792 407.2,791.8 L378,790.1 Q374.5,789.9 374.3,786.4 L373.5,775.8 Q373.3,772.3 373.7,768.9 Z" fill="url(#gp)" stroke="#3a1828" stroke-width="1.5"/><path d="M373.5,793.3 Q374.5,789.9 378,790.1 L407.2,791.8 Q410.7,792 411.2,795.5 L413.3,811.2 Q413.8,814.7 410.3,814.5 L375.9,812.9 Q372.4,812.7 372,809.2 L371.6,804.8 Q371.2,801.3 372.2,797.9 Z" fill="url(#gp)" stroke="#3a1828" stroke-width="1.5"/><path d="M371.1,816 Q372.4,812.7 375.9,812.9 L410.3,814.5 Q413.8,814.7 413.1,818.1 L410.3,832 Q409.6,835.4 406.1,835.8 L371.8,839.2 Q368.3,839.6 368,836.1 L367.4,829.6 Q367.1,826.2 368.4,822.9 Z" fill="url(#gp)" stroke="#3a1828" stroke-width="1.5"/><path d="M368.1,843.1 Q368.3,839.6 371.8,839.2 L406.1,835.8 Q409.6,835.4 410.7,838.7 L420.9,871.4 Q422,874.7 418.6,875.3 L403.4,878.2 Q400,878.9 396.5,878.6 L381.5,877.3 Q378,877 376.2,874 L368.9,861.3 Q367.1,858.3 367.3,854.8 Z" fill="url(#gp)" stroke="#3a1828" stroke-width="1.5"/><path d="M446.4,497.3 Q449.8,498.2 452.5,500.5 L455.4,503 Q458.1,505.2 457.6,508.5 L457.4,509.1 Q456.9,512.3 453.6,513.4 L428.9,521.3 Q425.6,522.4 424.1,519.3 L411.9,494.2 Q410.4,491.1 413.9,491.4 L426.6,492.4 Q430.1,492.6 433.5,493.6 Z" fill="url(#gp)" stroke="#3a1828" stroke-width="1.5"/><path d="M453.6,513.4 Q456.9,512.3 458.3,515.5 L461.7,522.8 Q463.1,526 462.8,529.4 L462.2,536.1 Q461.9,539.6 458.4,539.3 L424.9,536.8 Q421.4,536.5 421.5,535.6 L421.5,535.4 Q421.5,534.5 422.6,531.2 L424.5,525.7 Q425.6,522.4 428.9,521.3 Z" fill="url(#gp)" stroke="#3a1828" stroke-width="1.5"/><path d="M458.4,539.3 Q461.9,539.6 462.4,543.1 L463.6,550.8 Q464.1,554.2 463.8,557.7 L463.2,565.4 Q462.9,568.9 459.4,568.8 L423.9,567.9 Q420.4,567.8 420.5,566.4 L420.5,566.2 Q420.5,564.8 420.6,561.3 L421.3,540 Q421.4,536.5 424.9,536.8 Z" fill="url(#gp)" stroke="#3a1828" stroke-width="1.5"/><path d="M459.4,568.8 Q462.9,568.9 463.7,572.3 L464.4,575.6 Q465.2,579 464.8,582.5 L464.4,585.6 Q464,589.1 460.5,589.2 L423.3,590 Q419.8,590.1 419.9,586.6 L420.3,571.3 Q420.4,567.8 423.9,567.9 Z" fill="url(#gp)" stroke="#3a1828" stroke-width="1.5"/><path d="M460.5,589.2 Q464,589.1 464.9,592.5 L465.3,593.8 Q466.2,597.2 465.7,600.6 L465.5,601.7 Q465,605.2 461.5,605.4 L424.8,608 Q421.3,608.2 420.6,604.8 L420.2,602.5 Q419.5,599.1 419.6,595.6 L419.7,593.6 Q419.8,590.1 423.3,590 Z" fill="url(#gp)" stroke="#3a1828" stroke-width="1.5"/><path d="M461.5,605.4 Q465,605.2 465.3,608.7 L465.9,613.8 Q466.2,617.3 465,620.6 L463.1,626.1 Q461.9,629.4 458.4,629.5 L424.4,630.3 Q420.9,630.4 421.2,629 L421.2,628.8 Q421.5,627.4 421.5,623.9 L421.5,612.7 Q421.5,609.2 421.4,608.7 L421.4,608.7 Q421.3,608.2 424.8,608 Z" fill="url(#gp)" stroke="#3a1828" stroke-width="1.5"/><path d="M458.4,629.5 Q461.9,629.4 462.1,632.9 L462.9,644.1 Q463.1,647.6 461.5,650.7 L455.5,662.7 Q453.9,665.8 450.5,665.1 L416.1,658.4 Q412.7,657.7 414.4,654.9 L414.8,654.4 Q416.5,651.6 417.2,648.2 L420.2,633.8 Q420.9,630.4 424.4,630.3 Z" fill="url(#gp)" stroke="#3a1828" stroke-width="1.5"/><path d="M450.5,665.1 Q453.9,665.8 454.4,669.3 L454.6,670.4 Q455.1,673.8 453.2,676.8 L451.7,679 Q449.8,681.9 446.3,681.7 L414.9,680.1 Q411.4,679.9 411.4,676.4 L411.4,663.2 Q411.4,659.7 412,658.8 L412.1,658.6 Q412.7,657.7 416.1,658.4 Z" fill="url(#gp)" stroke="#3a1828" stroke-width="1.5"/><path d="M446.3,681.7 Q449.8,681.9 450.5,685.3 L451.5,690.1 Q452.2,693.5 451.8,697 L451.4,701.7 Q451,705.2 447.5,705.1 L413.2,704.2 Q409.7,704.1 410,700.6 L411.1,685.4 Q411.4,681.9 411.4,681 L411.4,680.8 Q411.4,679.9 414.9,680.1 Z" fill="url(#gp)" stroke="#3a1828" stroke-width="1.5"/><path d="M447.5,705.1 Q451,705.2 451.5,708.7 L451.7,710.5 Q452.2,714 451.7,717.4 L451.5,719.2 Q451,722.7 447.5,723.1 L414,726.5 Q410.6,726.9 410.4,723.4 L409.8,708.7 Q409.6,705.2 409.6,704.7 L409.6,704.6 Q409.7,704.1 413.2,704.2 Z" fill="url(#gp)" stroke="#3a1828" stroke-width="1.5"/><path d="M447.5,723.1 Q451,722.7 451.4,726.2 L451.8,730.6 Q452.2,734.1 451.8,737.6 L451.4,742 Q451,745.5 447.5,745.6 L415.2,746.4 Q411.7,746.5 411.5,743 L410.9,733.5 Q410.7,730 410.6,728.6 L410.6,728.3 Q410.6,726.9 414,726.5 Z" fill="url(#gp)" stroke="#3a1828" stroke-width="1.5"/><path d="M447.5,745.6 Q451,745.5 451.5,749 L452.7,756.5 Q453.2,760 452.9,763.4 L452.3,770.9 Q452,774.4 448.5,774.3 L415.5,773.5 Q412,773.4 412.2,769.9 L412.5,766.6 Q412.7,763.1 412.5,759.6 L411.9,750 Q411.7,746.5 415.2,746.4 Z" fill="url(#gp)" stroke="#3a1828" stroke-width="1.5"/><path d="M448.5,774.3 Q452,774.4 452.8,777.8 L454.5,785.5 Q455.3,788.9 455,792.4 L454.4,799.9 Q454.1,803.4 450.6,803.5 L415.9,804.3 Q412.4,804.4 411.9,800.9 L411.2,795.5 Q410.7,792 410.9,788.5 L411.7,776.9 Q412,773.4 415.5,773.5 Z" fill="url(#gp)" stroke="#3a1828" stroke-width="1.5"/><path d="M450.6,803.5 Q454.1,803.4 455.5,806.6 L459.1,815.2 Q460.5,818.4 460.2,821.9 L459.6,829.9 Q459.3,833.4 455.8,833.2 L413.9,831.5 Q410.4,831.3 411.1,827.9 L413.1,818.1 Q413.8,814.7 413.3,811.2 L412.9,807.9 Q412.4,804.4 415.9,804.3 Z" fill="url(#gp)" stroke="#3a1828" stroke-width="1.5"/><path d="M455.8,833.2 Q459.3,833.4 459.6,836.9 L460.2,844.2 Q460.5,847.7 458.6,850.6 L452.9,859.1 Q451,862 448.1,863.9 L439.4,869.5 Q436.5,871.4 433.1,872.1 L425.4,873.9 Q422,874.7 420.9,871.4 L410.7,838.7 Q409.6,835.4 410,833.5 L410.1,833.2 Q410.4,831.3 413.9,831.5 Z" fill="url(#gp)" stroke="#3a1828" stroke-width="1.5"/><path d="M176,902.2 Q175.4,897.2 180.4,896.8 L209.2,894.8 Q214.2,894.4 215,895.7 L215.2,895.9 Q216,897.2 215.9,902.2 L215.3,929.2 Q215.2,934.2 210.4,935.7 L185.6,943.5 Q180.8,945 180.2,940 Z" fill="url(#gy)" stroke="#3e2408" stroke-width="1.5"/><path d="M215.9,902.2 Q216,897.2 221,897.4 L233.6,897.9 Q238.6,898.1 239.8,900.6 L240.1,901 Q241.3,903.5 241.1,908.5 L239.7,934.6 Q239.5,939.6 234.5,939.3 L228.3,939 Q223.3,938.7 219.6,936.7 L218.9,936.2 Q215.2,934.2 215.3,929.2 Z" fill="url(#gy)" stroke="#3e2408" stroke-width="1.5"/><path d="M241.8,907.6 Q242.2,902.6 247.2,903.2 L258.9,904.7 Q263.9,905.3 263.6,910.3 L262.4,932.8 Q262.1,937.8 257.2,938.9 L250.8,940.3 Q245.9,941.4 243,940.6 L242.4,940.4 Q239.5,939.6 239.9,934.6 Z" fill="url(#gy)" stroke="#3e2408" stroke-width="1.5"/><path d="M264.4,910.3 Q264.8,905.3 269.8,905.5 L289.6,906 Q294.6,906.2 293.3,911 L286.9,934.8 Q285.6,939.6 281.5,940.8 L280.7,941.1 Q276.6,942.3 271.8,940.8 L266.9,939.3 Q262.1,937.8 262.5,932.8 Z" fill="url(#gy)" stroke="#3e2408" stroke-width="1.5"/><path d="M294.9,911 Q296.4,906.2 301.4,906.8 L313.1,908.3 Q318.1,908.9 318.5,913.9 L320.4,938.2 Q320.8,943.2 315.9,944.3 L309.4,945.7 Q304.5,946.8 299.8,945.2 L290.3,942.1 Q285.6,940.5 287.1,935.7 Z" fill="url(#gy)" stroke="#3e2408" stroke-width="1.5"/><path d="M319.4,912.1 Q319,907.1 324,906.9 L338.4,906.4 Q343.4,906.2 345,909.1 L345.4,909.6 Q347,912.5 347,917.5 L347,936.4 Q347,941.4 342,941.8 L326.7,942.8 Q321.7,943.2 321.3,938.2 Z" fill="url(#gy)" stroke="#3e2408" stroke-width="1.5"/><path d="M181.8,950.8 Q180.8,945.9 185.6,944.4 L210.4,936.6 Q215.2,935.1 218.9,937.6 L219.6,938 Q223.3,940.5 222,945.3 L214.6,973.6 Q213.3,978.4 208.3,978 L205.7,977.9 Q200.7,977.5 197.2,973.9 L187,963.1 Q183.5,959.5 182.5,954.6 Z" fill="url(#gy)" stroke="#3e2408" stroke-width="1.5"/><path d="M222,945.3 Q223.3,940.5 228.3,940.5 L234.5,940.5 Q239.5,940.5 242.4,941.3 L243,941.5 Q245.9,942.3 245.9,947.3 L245.9,972.5 Q245.9,977.5 241.2,979.3 L234.3,982 Q229.6,983.8 224.9,982.2 L218,980 Q213.3,978.4 214.6,973.6 Z" fill="url(#gy)" stroke="#3e2408" stroke-width="1.5"/><path d="M246.7,947.3 Q246.8,942.3 251.7,941.2 L257.2,939.8 Q262.1,938.7 266.9,940.2 L271.8,941.7 Q276.6,943.2 276.6,948.2 L276.6,976.1 Q276.6,981.1 271.6,981 L250.9,980.3 Q245.9,980.2 246,975.2 Z" fill="url(#gy)" stroke="#3e2408" stroke-width="1.5"/><path d="M277.4,948.2 Q277.5,943.2 281.6,942.4 L282.4,942.2 Q286.5,941.4 291.2,943.1 L299.8,946 Q304.5,947.7 304.5,952.7 L304.5,976.1 Q304.5,981.1 299.5,981.3 L281.6,981.8 Q276.6,982 276.7,977 Z" fill="url(#gy)" stroke="#3e2408" stroke-width="1.5"/><path d="M304.6,952.7 Q304.5,947.7 309.4,946.7 L316.8,945.1 Q321.7,944.1 322.4,949 L326.4,976.2 Q327.1,981.1 322.1,981.1 L310.5,981.1 Q305.5,981.1 305.4,976.1 Z" fill="url(#gy)" stroke="#3e2408" stroke-width="1.5"/><path d="M323.3,949.1 Q322.6,944.1 327.6,943.7 L341.1,942.7 Q346.1,942.3 346.5,947.3 L347.5,959.9 Q347.9,964.9 345.7,969.4 L342,976.6 Q339.8,981.1 334.8,981.5 L333,981.6 Q328,982 327.3,977 Z" fill="url(#gy)" stroke="#3e2408" stroke-width="1.5"/><path d="M354.2,897.8 Q354.5,893.2 359.5,893 L379.2,892.2 Q384.2,892 385,893.6 L385.2,893.9 Q386,895.5 385.4,900.5 L383.6,914.9 Q383,919.9 380.9,921.3 L380.4,921.5 Q378.3,922.9 373.3,922.4 L363.7,921.6 Q358.7,921.1 357.4,916.3 L355.2,908.1 Q353.9,903.3 354.2,898.7 Z" fill="url(#gy)" stroke="#3e2408" stroke-width="1.5"/><path d="M386.3,893.3 Q386.6,891.4 391.6,891.3 L411.3,890.9 Q416.3,890.8 417.7,892.7 L417.9,893.1 Q419.3,895 418.2,899.9 L416.2,907.9 Q415.1,912.8 414,917.4 L413.8,918.3 Q412.7,922.9 407.7,922.4 L388,920.4 Q383,919.9 383.6,914.9 L385.4,900.5 Q386,895.5 386.3,893.6 Z" fill="url(#gy)" stroke="#3e2408" stroke-width="1.5"/><path d="M420.4,896.9 Q419.9,892.6 422.6,889.3 L423.1,888.7 Q425.8,885.4 430.7,884.4 L437.5,882.9 Q442.4,881.9 447,883.9 L448.5,884.6 Q453.1,886.6 454.7,889.9 L455.1,890.5 Q456.7,893.8 456.4,898.8 L455.8,909 Q455.5,914 453.4,914.5 L452.9,914.7 Q450.8,915.2 446.2,913.2 L425.7,904.1 Q421.1,902.1 420.6,897.8 Z" fill="url(#gy)" stroke="#3e2408" stroke-width="1.5"/><path d="M360,926.5 Q358.7,921.7 363.7,922.1 L375.6,923.1 Q380.6,923.5 382.7,928 L390.4,945.1 Q392.5,949.6 392.2,954.6 L391.6,968.4 Q391.3,973.4 388.6,973.4 L388.1,973.4 Q385.4,973.4 382.2,969.6 L369.6,954.6 Q366.4,950.8 365.1,946 Z" fill="url(#gy)" stroke="#3e2408" stroke-width="1.5"/><path d="M381.9,921.5 Q383,919.9 388,920.5 L407.7,922.9 Q412.7,923.5 414.9,928 L420,938 Q422.2,942.5 421.7,944.6 L421.5,945.1 Q421,947.2 416,947.5 L398.7,948.7 Q393.7,949 391.4,944.6 L382.9,927.9 Q380.6,923.5 381.7,921.9 Z" fill="url(#gy)" stroke="#3e2408" stroke-width="1.5"/><path d="M419.2,906.7 Q421.1,902.1 425.6,904.2 L446.3,913.6 Q450.8,915.7 452.9,917.6 L453.4,918 Q455.5,919.9 455,924.8 L454.8,925.7 Q454.3,930.6 451.1,932.8 L450.4,933.2 Q447.2,935.4 442.2,935.8 L430.8,936.7 Q425.8,937.1 423.1,934.7 L422.6,934.2 Q419.9,931.8 417.6,927.3 L416.2,924.4 Q413.9,919.9 415.8,915.3 Z" fill="url(#gy)" stroke="#3e2408" stroke-width="1.5"/><path d="M392.9,953.9 Q393.7,949.6 398.7,949.2 L417.2,947.6 Q422.2,947.2 424.4,949.9 L424.8,950.5 Q427,953.2 427,958.2 L427,962.4 Q427,967.4 423.2,970.7 L422.5,971.3 Q418.7,974.6 413.7,974.4 L398.7,973.6 Q393.7,973.4 393.1,968.4 L392.6,964.1 Q392,959.1 392.8,954.8 Z" fill="url(#gy)" stroke="#3e2408" stroke-width="1.5"/><path d="M424.7,940.4 Q425.8,937.7 430.8,937.2 L444.6,935.9 Q449.6,935.4 452.3,937 L452.8,937.3 Q455.5,938.9 457.5,943.5 L460.6,951 Q462.6,955.6 461.2,960.4 L460.5,962.6 Q459.1,967.4 454.1,968.1 L436.7,970.3 Q431.7,971 429.6,969.4 L429.1,969 Q427,967.4 427,962.4 L427,958.2 Q427,953.2 425.4,948.9 L425,948 Q423.4,943.7 424.5,941 Z" fill="url(#gy)" stroke="#3e2408" stroke-width="1.5"/><circle cx="216.2" cy="403.1" r="8.4" fill="#fff" opacity="0.18"/><circle cx="216.2" cy="403.1" r="6.2" fill="url(#no)" stroke="#3b1a12" stroke-width="0.9"/><circle cx="238.6" cy="390" r="8.4" fill="#fff" opacity="0.18"/><circle cx="238.6" cy="390" r="6.2" fill="url(#no)" stroke="#3b1a12" stroke-width="0.9"/><circle cx="254" cy="406.2" r="8.4" fill="#fff" opacity="0.18"/><circle cx="254" cy="406.2" r="6.2" fill="url(#no)" stroke="#3b1a12" stroke-width="0.9"/><circle cx="211.6" cy="430.1" r="8.4" fill="#fff" opacity="0.18"/><circle cx="211.6" cy="430.1" r="6.2" fill="url(#no)" stroke="#3b1a12" stroke-width="0.9"/><circle cx="249.3" cy="438.6" r="8.4" fill="#fff" opacity="0.18"/><circle cx="249.3" cy="438.6" r="6.2" fill="url(#no)" stroke="#3b1a12" stroke-width="0.9"/><circle cx="203.1" cy="454" r="8.4" fill="#fff" opacity="0.18"/><circle cx="203.1" cy="454" r="6.2" fill="url(#no)" stroke="#3b1a12" stroke-width="0.9"/><circle cx="245.5" cy="470.9" r="8.4" fill="#fff" opacity="0.18"/><circle cx="245.5" cy="470.9" r="6.2" fill="url(#no)" stroke="#3b1a12" stroke-width="0.9"/><circle cx="198.5" cy="477.9" r="8.4" fill="#fff" opacity="0.18"/><circle cx="198.5" cy="477.9" r="6.2" fill="url(#no)" stroke="#3b1a12" stroke-width="0.9"/><circle cx="207.7" cy="497.9" r="8.4" fill="#fff" opacity="0.18"/><circle cx="207.7" cy="497.9" r="6.2" fill="url(#no)" stroke="#3b1a12" stroke-width="0.9"/><circle cx="233.9" cy="505.6" r="8.4" fill="#fff" opacity="0.18"/><circle cx="233.9" cy="505.6" r="6.2" fill="url(#no)" stroke="#3b1a12" stroke-width="0.9"/><circle cx="315.4" cy="391.9" r="8.4" fill="#fff" opacity="0.18"/><circle cx="315.4" cy="391.9" r="6.2" fill="url(#no)" stroke="#3b1a12" stroke-width="0.9"/><circle cx="299.4" cy="410.5" r="8.4" fill="#fff" opacity="0.18"/><circle cx="299.4" cy="410.5" r="6.2" fill="url(#no)" stroke="#3b1a12" stroke-width="0.9"/><circle cx="336.4" cy="402.9" r="8.4" fill="#fff" opacity="0.18"/><circle cx="336.4" cy="402.9" r="6.2" fill="url(#no)" stroke="#3b1a12" stroke-width="0.9"/><circle cx="302.8" cy="439.1" r="8.4" fill="#fff" opacity="0.18"/><circle cx="302.8" cy="439.1" r="6.2" fill="url(#no)" stroke="#3b1a12" stroke-width="0.9"/><circle cx="338.1" cy="434" r="8.4" fill="#fff" opacity="0.18"/><circle cx="338.1" cy="434" r="6.2" fill="url(#no)" stroke="#3b1a12" stroke-width="0.9"/><circle cx="345.7" cy="458.4" r="8.4" fill="#fff" opacity="0.18"/><circle cx="345.7" cy="458.4" r="6.2" fill="url(#no)" stroke="#3b1a12" stroke-width="0.9"/><circle cx="303.6" cy="472.7" r="8.4" fill="#fff" opacity="0.18"/><circle cx="303.6" cy="472.7" r="6.2" fill="url(#no)" stroke="#3b1a12" stroke-width="0.9"/><circle cx="349" cy="482" r="8.4" fill="#fff" opacity="0.18"/><circle cx="349" cy="482" r="6.2" fill="url(#no)" stroke="#3b1a12" stroke-width="0.9"/><circle cx="339" cy="504.7" r="8.4" fill="#fff" opacity="0.18"/><circle cx="339" cy="504.7" r="6.2" fill="url(#no)" stroke="#3b1a12" stroke-width="0.9"/><circle cx="311.2" cy="510.6" r="8.4" fill="#fff" opacity="0.18"/><circle cx="311.2" cy="510.6" r="6.2" fill="url(#no)" stroke="#3b1a12" stroke-width="0.9"/><circle cx="416.4" cy="385" r="8.4" fill="#fff" opacity="0.18"/><circle cx="416.4" cy="385" r="6.2" fill="url(#no)" stroke="#3b1a12" stroke-width="0.9"/><circle cx="398.9" cy="403.2" r="8.4" fill="#fff" opacity="0.18"/><circle cx="398.9" cy="403.2" r="6.2" fill="url(#no)" stroke="#3b1a12" stroke-width="0.9"/><circle cx="436.5" cy="393.8" r="8.4" fill="#fff" opacity="0.18"/><circle cx="436.5" cy="393.8" r="6.2" fill="url(#no)" stroke="#3b1a12" stroke-width="0.9"/><circle cx="398.9" cy="433.2" r="8.4" fill="#fff" opacity="0.18"/><circle cx="398.9" cy="433.2" r="6.2" fill="url(#no)" stroke="#3b1a12" stroke-width="0.9"/><circle cx="438.3" cy="426.3" r="8.4" fill="#fff" opacity="0.18"/><circle cx="438.3" cy="426.3" r="6.2" fill="url(#no)" stroke="#3b1a12" stroke-width="0.9"/><circle cx="404.5" cy="465.8" r="8.4" fill="#fff" opacity="0.18"/><circle cx="404.5" cy="465.8" r="6.2" fill="url(#no)" stroke="#3b1a12" stroke-width="0.9"/><circle cx="442.7" cy="454.5" r="8.4" fill="#fff" opacity="0.18"/><circle cx="442.7" cy="454.5" r="6.2" fill="url(#no)" stroke="#3b1a12" stroke-width="0.9"/><circle cx="204.8" cy="540.6" r="7.6000000000000005" fill="#fff" opacity="0.18"/><circle cx="204.8" cy="540.6" r="5.4" fill="url(#np)" stroke="#3a1828" stroke-width="0.9"/><circle cx="205.8" cy="561.8" r="7.6000000000000005" fill="#fff" opacity="0.18"/><circle cx="205.8" cy="561.8" r="5.4" fill="url(#np)" stroke="#3a1828" stroke-width="0.9"/><circle cx="204.5" cy="585.3" r="7.6000000000000005" fill="#fff" opacity="0.18"/><circle cx="204.5" cy="585.3" r="5.4" fill="url(#np)" stroke="#3a1828" stroke-width="0.9"/><circle cx="203.8" cy="604.1" r="7.6000000000000005" fill="#fff" opacity="0.18"/><circle cx="203.8" cy="604.1" r="5.4" fill="url(#np)" stroke="#3a1828" stroke-width="0.9"/><circle cx="203.6" cy="624.4" r="7.6000000000000005" fill="#fff" opacity="0.18"/><circle cx="203.6" cy="624.4" r="5.4" fill="url(#np)" stroke="#3a1828" stroke-width="0.9"/><circle cx="207.6" cy="653.4" r="7.6000000000000005" fill="#fff" opacity="0.18"/><circle cx="207.6" cy="653.4" r="5.4" fill="url(#np)" stroke="#3a1828" stroke-width="0.9"/><circle cx="212" cy="678.7" r="7.6000000000000005" fill="#fff" opacity="0.18"/><circle cx="212" cy="678.7" r="5.4" fill="url(#np)" stroke="#3a1828" stroke-width="0.9"/><circle cx="211.2" cy="699.8" r="7.6000000000000005" fill="#fff" opacity="0.18"/><circle cx="211.2" cy="699.8" r="5.4" fill="url(#np)" stroke="#3a1828" stroke-width="0.9"/><circle cx="210.7" cy="721.6" r="7.6000000000000005" fill="#fff" opacity="0.18"/><circle cx="210.7" cy="721.6" r="5.4" fill="url(#np)" stroke="#3a1828" stroke-width="0.9"/><circle cx="207.5" cy="742.6" r="7.6000000000000005" fill="#fff" opacity="0.18"/><circle cx="207.5" cy="742.6" r="5.4" fill="url(#np)" stroke="#3a1828" stroke-width="0.9"/><circle cx="205.3" cy="767" r="7.6000000000000005" fill="#fff" opacity="0.18"/><circle cx="205.3" cy="767" r="5.4" fill="url(#np)" stroke="#3a1828" stroke-width="0.9"/><circle cx="204.5" cy="796.2" r="7.6000000000000005" fill="#fff" opacity="0.18"/><circle cx="204.5" cy="796.2" r="5.4" fill="url(#np)" stroke="#3a1828" stroke-width="0.9"/><circle cx="198.1" cy="826.2" r="7.6000000000000005" fill="#fff" opacity="0.18"/><circle cx="198.1" cy="826.2" r="5.4" fill="url(#np)" stroke="#3a1828" stroke-width="0.9"/><circle cx="199" cy="856.4" r="7.6000000000000005" fill="#fff" opacity="0.18"/><circle cx="199" cy="856.4" r="5.4" fill="url(#np)" stroke="#3a1828" stroke-width="0.9"/><circle cx="245.7" cy="552.5" r="7.6000000000000005" fill="#fff" opacity="0.18"/><circle cx="245.7" cy="552.5" r="5.4" fill="url(#np)" stroke="#3a1828" stroke-width="0.9"/><circle cx="243.5" cy="582.8" r="7.6000000000000005" fill="#fff" opacity="0.18"/><circle cx="243.5" cy="582.8" r="5.4" fill="url(#np)" stroke="#3a1828" stroke-width="0.9"/><circle cx="243.3" cy="615.8" r="7.6000000000000005" fill="#fff" opacity="0.18"/><circle cx="243.3" cy="615.8" r="5.4" fill="url(#np)" stroke="#3a1828" stroke-width="0.9"/><circle cx="243.6" cy="644.9" r="7.6000000000000005" fill="#fff" opacity="0.18"/><circle cx="243.6" cy="644.9" r="5.4" fill="url(#np)" stroke="#3a1828" stroke-width="0.9"/><circle cx="252.4" cy="671.2" r="7.6000000000000005" fill="#fff" opacity="0.18"/><circle cx="252.4" cy="671.2" r="5.4" fill="url(#np)" stroke="#3a1828" stroke-width="0.9"/><circle cx="251.6" cy="700.4" r="7.6000000000000005" fill="#fff" opacity="0.18"/><circle cx="251.6" cy="700.4" r="5.4" fill="url(#np)" stroke="#3a1828" stroke-width="0.9"/><circle cx="251.2" cy="728.3" r="7.6000000000000005" fill="#fff" opacity="0.18"/><circle cx="251.2" cy="728.3" r="5.4" fill="url(#np)" stroke="#3a1828" stroke-width="0.9"/><circle cx="245.6" cy="755.5" r="7.6000000000000005" fill="#fff" opacity="0.18"/><circle cx="245.6" cy="755.5" r="5.4" fill="url(#np)" stroke="#3a1828" stroke-width="0.9"/><circle cx="245.1" cy="784.3" r="7.6000000000000005" fill="#fff" opacity="0.18"/><circle cx="245.1" cy="784.3" r="5.4" fill="url(#np)" stroke="#3a1828" stroke-width="0.9"/><circle cx="243.7" cy="809.3" r="7.6000000000000005" fill="#fff" opacity="0.18"/><circle cx="243.7" cy="809.3" r="5.4" fill="url(#np)" stroke="#3a1828" stroke-width="0.9"/><circle cx="242.8" cy="832" r="7.6000000000000005" fill="#fff" opacity="0.18"/><circle cx="242.8" cy="832" r="5.4" fill="url(#np)" stroke="#3a1828" stroke-width="0.9"/><circle cx="238.6" cy="866.7" r="7.6000000000000005" fill="#fff" opacity="0.18"/><circle cx="238.6" cy="866.7" r="5.4" fill="url(#np)" stroke="#3a1828" stroke-width="0.9"/><circle cx="299.9" cy="567.2" r="7.6000000000000005" fill="#fff" opacity="0.18"/><circle cx="299.9" cy="567.2" r="5.4" fill="url(#np)" stroke="#3a1828" stroke-width="0.9"/><circle cx="297.3" cy="597" r="7.6000000000000005" fill="#fff" opacity="0.18"/><circle cx="297.3" cy="597" r="5.4" fill="url(#np)" stroke="#3a1828" stroke-width="0.9"/><circle cx="301.5" cy="625.1" r="7.6000000000000005" fill="#fff" opacity="0.18"/><circle cx="301.5" cy="625.1" r="5.4" fill="url(#np)" stroke="#3a1828" stroke-width="0.9"/><circle cx="300.8" cy="654.1" r="7.6000000000000005" fill="#fff" opacity="0.18"/><circle cx="300.8" cy="654.1" r="5.4" fill="url(#np)" stroke="#3a1828" stroke-width="0.9"/><circle cx="303.1" cy="678.9" r="7.6000000000000005" fill="#fff" opacity="0.18"/><circle cx="303.1" cy="678.9" r="5.4" fill="url(#np)" stroke="#3a1828" stroke-width="0.9"/><circle cx="304.1" cy="699.5" r="7.6000000000000005" fill="#fff" opacity="0.18"/><circle cx="304.1" cy="699.5" r="5.4" fill="url(#np)" stroke="#3a1828" stroke-width="0.9"/><circle cx="303.9" cy="742.6" r="7.6000000000000005" fill="#fff" opacity="0.18"/><circle cx="303.9" cy="742.6" r="5.4" fill="url(#np)" stroke="#3a1828" stroke-width="0.9"/><circle cx="297.7" cy="768.1" r="7.6000000000000005" fill="#fff" opacity="0.18"/><circle cx="297.7" cy="768.1" r="5.4" fill="url(#np)" stroke="#3a1828" stroke-width="0.9"/><circle cx="293.2" cy="797.6" r="7.6000000000000005" fill="#fff" opacity="0.18"/><circle cx="293.2" cy="797.6" r="5.4" fill="url(#np)" stroke="#3a1828" stroke-width="0.9"/><circle cx="293.6" cy="817.6" r="7.6000000000000005" fill="#fff" opacity="0.18"/><circle cx="293.6" cy="817.6" r="5.4" fill="url(#np)" stroke="#3a1828" stroke-width="0.9"/><circle cx="293.9" cy="835.8" r="7.6000000000000005" fill="#fff" opacity="0.18"/><circle cx="293.9" cy="835.8" r="5.4" fill="url(#np)" stroke="#3a1828" stroke-width="0.9"/><circle cx="295.7" cy="856.2" r="7.6000000000000005" fill="#fff" opacity="0.18"/><circle cx="295.7" cy="856.2" r="5.4" fill="url(#np)" stroke="#3a1828" stroke-width="0.9"/><circle cx="298" cy="877.1" r="7.6000000000000005" fill="#fff" opacity="0.18"/><circle cx="298" cy="877.1" r="5.4" fill="url(#np)" stroke="#3a1828" stroke-width="0.9"/><circle cx="336.6" cy="556.6" r="7.6000000000000005" fill="#fff" opacity="0.18"/><circle cx="336.6" cy="556.6" r="5.4" fill="url(#np)" stroke="#3a1828" stroke-width="0.9"/><circle cx="338.7" cy="589.4" r="7.6000000000000005" fill="#fff" opacity="0.18"/><circle cx="338.7" cy="589.4" r="5.4" fill="url(#np)" stroke="#3a1828" stroke-width="0.9"/><circle cx="337" cy="613.3" r="7.6000000000000005" fill="#fff" opacity="0.18"/><circle cx="337" cy="613.3" r="5.4" fill="url(#np)" stroke="#3a1828" stroke-width="0.9"/><circle cx="337.9" cy="639.9" r="7.6000000000000005" fill="#fff" opacity="0.18"/><circle cx="337.9" cy="639.9" r="5.4" fill="url(#np)" stroke="#3a1828" stroke-width="0.9"/><circle cx="335.4" cy="667" r="7.6000000000000005" fill="#fff" opacity="0.18"/><circle cx="335.4" cy="667" r="5.4" fill="url(#np)" stroke="#3a1828" stroke-width="0.9"/><circle cx="340" cy="693.8" r="7.6000000000000005" fill="#fff" opacity="0.18"/><circle cx="340" cy="693.8" r="5.4" fill="url(#np)" stroke="#3a1828" stroke-width="0.9"/><circle cx="339.9" cy="721.6" r="7.6000000000000005" fill="#fff" opacity="0.18"/><circle cx="339.9" cy="721.6" r="5.4" fill="url(#np)" stroke="#3a1828" stroke-width="0.9"/><circle cx="339.2" cy="751.6" r="7.6000000000000005" fill="#fff" opacity="0.18"/><circle cx="339.2" cy="751.6" r="5.4" fill="url(#np)" stroke="#3a1828" stroke-width="0.9"/><circle cx="330.2" cy="777.5" r="7.6000000000000005" fill="#fff" opacity="0.18"/><circle cx="330.2" cy="777.5" r="5.4" fill="url(#np)" stroke="#3a1828" stroke-width="0.9"/><circle cx="330.2" cy="806.4" r="7.6000000000000005" fill="#fff" opacity="0.18"/><circle cx="330.2" cy="806.4" r="5.4" fill="url(#np)" stroke="#3a1828" stroke-width="0.9"/><circle cx="328.8" cy="840.7" r="7.6000000000000005" fill="#fff" opacity="0.18"/><circle cx="328.8" cy="840.7" r="5.4" fill="url(#np)" stroke="#3a1828" stroke-width="0.9"/><circle cx="327.6" cy="870" r="7.6000000000000005" fill="#fff" opacity="0.18"/><circle cx="327.6" cy="870" r="5.4" fill="url(#np)" stroke="#3a1828" stroke-width="0.9"/><circle cx="404.3" cy="513.4" r="7.6000000000000005" fill="#fff" opacity="0.18"/><circle cx="404.3" cy="513.4" r="5.4" fill="url(#np)" stroke="#3a1828" stroke-width="0.9"/><circle cx="402.5" cy="545.5" r="7.6000000000000005" fill="#fff" opacity="0.18"/><circle cx="402.5" cy="545.5" r="5.4" fill="url(#np)" stroke="#3a1828" stroke-width="0.9"/><circle cx="404.2" cy="577" r="7.6000000000000005" fill="#fff" opacity="0.18"/><circle cx="404.2" cy="577" r="5.4" fill="url(#np)" stroke="#3a1828" stroke-width="0.9"/><circle cx="402.4" cy="608.2" r="7.6000000000000005" fill="#fff" opacity="0.18"/><circle cx="402.4" cy="608.2" r="5.4" fill="url(#np)" stroke="#3a1828" stroke-width="0.9"/><circle cx="400.8" cy="637.7" r="7.6000000000000005" fill="#fff" opacity="0.18"/><circle cx="400.8" cy="637.7" r="5.4" fill="url(#np)" stroke="#3a1828" stroke-width="0.9"/><circle cx="391.2" cy="663.8" r="7.6000000000000005" fill="#fff" opacity="0.18"/><circle cx="391.2" cy="663.8" r="5.4" fill="url(#np)" stroke="#3a1828" stroke-width="0.9"/><circle cx="390.6" cy="693" r="7.6000000000000005" fill="#fff" opacity="0.18"/><circle cx="390.6" cy="693" r="5.4" fill="url(#np)" stroke="#3a1828" stroke-width="0.9"/><circle cx="389.6" cy="719.7" r="7.6000000000000005" fill="#fff" opacity="0.18"/><circle cx="389.6" cy="719.7" r="5.4" fill="url(#np)" stroke="#3a1828" stroke-width="0.9"/><circle cx="394.3" cy="746.5" r="7.6000000000000005" fill="#fff" opacity="0.18"/><circle cx="394.3" cy="746.5" r="5.4" fill="url(#np)" stroke="#3a1828" stroke-width="0.9"/><circle cx="392.1" cy="775.2" r="7.6000000000000005" fill="#fff" opacity="0.18"/><circle cx="392.1" cy="775.2" r="5.4" fill="url(#np)" stroke="#3a1828" stroke-width="0.9"/><circle cx="392.2" cy="802.5" r="7.6000000000000005" fill="#fff" opacity="0.18"/><circle cx="392.2" cy="802.5" r="5.4" fill="url(#np)" stroke="#3a1828" stroke-width="0.9"/><circle cx="389.2" cy="825.6" r="7.6000000000000005" fill="#fff" opacity="0.18"/><circle cx="389.2" cy="825.6" r="5.4" fill="url(#np)" stroke="#3a1828" stroke-width="0.9"/><circle cx="393.5" cy="857.6" r="7.6000000000000005" fill="#fff" opacity="0.18"/><circle cx="393.5" cy="857.6" r="5.4" fill="url(#np)" stroke="#3a1828" stroke-width="0.9"/><circle cx="434.1" cy="505.5" r="7.6000000000000005" fill="#fff" opacity="0.18"/><circle cx="434.1" cy="505.5" r="5.4" fill="url(#np)" stroke="#3a1828" stroke-width="0.9"/><circle cx="444.5" cy="527.8" r="7.6000000000000005" fill="#fff" opacity="0.18"/><circle cx="444.5" cy="527.8" r="5.4" fill="url(#np)" stroke="#3a1828" stroke-width="0.9"/><circle cx="441.8" cy="553.3" r="7.6000000000000005" fill="#fff" opacity="0.18"/><circle cx="441.8" cy="553.3" r="5.4" fill="url(#np)" stroke="#3a1828" stroke-width="0.9"/><circle cx="441.8" cy="579" r="7.6000000000000005" fill="#fff" opacity="0.18"/><circle cx="441.8" cy="579" r="5.4" fill="url(#np)" stroke="#3a1828" stroke-width="0.9"/><circle cx="442.2" cy="598.2" r="7.6000000000000005" fill="#fff" opacity="0.18"/><circle cx="442.2" cy="598.2" r="5.4" fill="url(#np)" stroke="#3a1828" stroke-width="0.9"/><circle cx="443.5" cy="618.1" r="7.6000000000000005" fill="#fff" opacity="0.18"/><circle cx="443.5" cy="618.1" r="5.4" fill="url(#np)" stroke="#3a1828" stroke-width="0.9"/><circle cx="440.1" cy="646.2" r="7.6000000000000005" fill="#fff" opacity="0.18"/><circle cx="440.1" cy="646.2" r="5.4" fill="url(#np)" stroke="#3a1828" stroke-width="0.9"/><circle cx="431.4" cy="671.1" r="7.6000000000000005" fill="#fff" opacity="0.18"/><circle cx="431.4" cy="671.1" r="5.4" fill="url(#np)" stroke="#3a1828" stroke-width="0.9"/><circle cx="430.8" cy="692.9" r="7.6000000000000005" fill="#fff" opacity="0.18"/><circle cx="430.8" cy="692.9" r="5.4" fill="url(#np)" stroke="#3a1828" stroke-width="0.9"/><circle cx="429.9" cy="714.7" r="7.6000000000000005" fill="#fff" opacity="0.18"/><circle cx="429.9" cy="714.7" r="5.4" fill="url(#np)" stroke="#3a1828" stroke-width="0.9"/><circle cx="431.9" cy="735.3" r="7.6000000000000005" fill="#fff" opacity="0.18"/><circle cx="431.9" cy="735.3" r="5.4" fill="url(#np)" stroke="#3a1828" stroke-width="0.9"/><circle cx="432.5" cy="760" r="7.6000000000000005" fill="#fff" opacity="0.18"/><circle cx="432.5" cy="760" r="5.4" fill="url(#np)" stroke="#3a1828" stroke-width="0.9"/><circle cx="432.6" cy="789" r="7.6000000000000005" fill="#fff" opacity="0.18"/><circle cx="432.6" cy="789" r="5.4" fill="url(#np)" stroke="#3a1828" stroke-width="0.9"/><circle cx="436" cy="818.5" r="7.6000000000000005" fill="#fff" opacity="0.18"/><circle cx="436" cy="818.5" r="5.4" fill="url(#np)" stroke="#3a1828" stroke-width="0.9"/><circle cx="434.7" cy="849.5" r="7.6000000000000005" fill="#fff" opacity="0.18"/><circle cx="434.7" cy="849.5" r="5.4" fill="url(#np)" stroke="#3a1828" stroke-width="0.9"/><circle cx="192.6" cy="918.8" r="8.5" fill="#fff" opacity="0.18"/><circle cx="192.6" cy="918.8" r="6.3" fill="url(#ny)" stroke="#3e2408" stroke-width="0.9"/><circle cx="227.8" cy="917.9" r="8.5" fill="#fff" opacity="0.18"/><circle cx="227.8" cy="917.9" r="6.3" fill="url(#ny)" stroke="#3e2408" stroke-width="0.9"/><circle cx="249.5" cy="922.4" r="8.5" fill="#fff" opacity="0.18"/><circle cx="249.5" cy="922.4" r="6.3" fill="url(#ny)" stroke="#3e2408" stroke-width="0.9"/><circle cx="275.7" cy="919.7" r="8.5" fill="#fff" opacity="0.18"/><circle cx="275.7" cy="919.7" r="6.3" fill="url(#ny)" stroke="#3e2408" stroke-width="0.9"/><circle cx="304.5" cy="926.1" r="8.5" fill="#fff" opacity="0.18"/><circle cx="304.5" cy="926.1" r="6.3" fill="url(#ny)" stroke="#3e2408" stroke-width="0.9"/><circle cx="331.6" cy="924.2" r="8.5" fill="#fff" opacity="0.18"/><circle cx="331.6" cy="924.2" r="6.3" fill="url(#ny)" stroke="#3e2408" stroke-width="0.9"/><circle cx="198.9" cy="955.9" r="8.5" fill="#fff" opacity="0.18"/><circle cx="198.9" cy="955.9" r="6.3" fill="url(#ny)" stroke="#3e2408" stroke-width="0.9"/><circle cx="232.3" cy="966.7" r="8.5" fill="#fff" opacity="0.18"/><circle cx="232.3" cy="966.7" r="6.3" fill="url(#ny)" stroke="#3e2408" stroke-width="0.9"/><circle cx="262.1" cy="957.7" r="8.5" fill="#fff" opacity="0.18"/><circle cx="262.1" cy="957.7" r="6.3" fill="url(#ny)" stroke="#3e2408" stroke-width="0.9"/><circle cx="291" cy="964.9" r="8.5" fill="#fff" opacity="0.18"/><circle cx="291" cy="964.9" r="6.3" fill="url(#ny)" stroke="#3e2408" stroke-width="0.9"/><circle cx="316.3" cy="964" r="8.5" fill="#fff" opacity="0.18"/><circle cx="316.3" cy="964" r="6.3" fill="url(#ny)" stroke="#3e2408" stroke-width="0.9"/><circle cx="335.3" cy="956.8" r="8.5" fill="#fff" opacity="0.18"/><circle cx="335.3" cy="956.8" r="6.3" fill="url(#ny)" stroke="#3e2408" stroke-width="0.9"/><circle cx="370.5" cy="909.2" r="8.5" fill="#fff" opacity="0.18"/><circle cx="370.5" cy="909.2" r="6.3" fill="url(#ny)" stroke="#3e2408" stroke-width="0.9"/><circle cx="402" cy="906.8" r="8.5" fill="#fff" opacity="0.18"/><circle cx="402" cy="906.8" r="6.3" fill="url(#ny)" stroke="#3e2408" stroke-width="0.9"/><circle cx="439.5" cy="896.7" r="8.5" fill="#fff" opacity="0.18"/><circle cx="439.5" cy="896.7" r="6.3" fill="url(#ny)" stroke="#3e2408" stroke-width="0.9"/><circle cx="377.1" cy="948.4" r="8.5" fill="#fff" opacity="0.18"/><circle cx="377.1" cy="948.4" r="6.3" fill="url(#ny)" stroke="#3e2408" stroke-width="0.9"/><circle cx="404.4" cy="936.5" r="8.5" fill="#fff" opacity="0.18"/><circle cx="404.4" cy="936.5" r="6.3" fill="url(#ny)" stroke="#3e2408" stroke-width="0.9"/><circle cx="432.3" cy="921.1" r="8.5" fill="#fff" opacity="0.18"/><circle cx="432.3" cy="921.1" r="6.3" fill="url(#ny)" stroke="#3e2408" stroke-width="0.9"/><circle cx="413.3" cy="962.7" r="8.5" fill="#fff" opacity="0.18"/><circle cx="413.3" cy="962.7" r="6.3" fill="url(#ny)" stroke="#3e2408" stroke-width="0.9"/><circle cx="443" cy="952" r="8.5" fill="#fff" opacity="0.18"/><circle cx="443" cy="952" r="6.3" fill="url(#ny)" stroke="#3e2408" stroke-width="0.9"/></g>
<path d="M66.7,447.0V455.0M66.7,463.6V471.6M66.7,480.2V488.2M66.7,496.8V504.8M66.7,513.4V521.4M66.7,530.0V538.0M66.7,546.6V554.6M66.7,563.2V571.2M66.7,579.8V587.8M66.7,596.4V604.4M66.7,613.0V621.0M66.7,629.6V637.6M69.1,441H77.1M85.7,441H93.7M102.3,441H110.3M118.9,441H126.9M135.5,441H143.5" stroke="#1a1a1a" stroke-width="3.9" fill="none"/>
<path d="M141.2,431.9 L157.6,441 L141.2,449.9 Z" fill="#1a1a1a"/>
<path d="M125.5,665.3 H144" stroke="#1a1a1a" stroke-width="3.8"/>
<path d="M141.2,656.2 L157.6,665.3 L141.2,674.4 Z" fill="#1a1a1a"/>
<path d="M66.5,687 V919 H144" fill="none" stroke="#1a1a1a" stroke-width="3.8"/>
<path d="M141.2,909.9 L157.6,919 L141.2,928.1 Z" fill="#1a1a1a"/>
<g clip-path="url(#hclip)"><rect x="735" y="338" width="312" height="695" fill="url(#hbase)"/><rect x="735" y="338" width="312" height="695" fill="#fff" filter="url(#mott)" opacity="0.45"/><rect x="735" y="338" width="312" height="695" fill="#fff" filter="url(#mott2)" opacity="0.5"/><rect x="735" y="338" width="312" height="695" fill="#fff" filter="url(#grain)" opacity="0.35"/><g filter="url(#soft2)"><ellipse cx="753" cy="867" rx="6.2" ry="4.2" fill="#e06c80" opacity="0.35"/><ellipse cx="970" cy="976" rx="4.7" ry="3.5" fill="#e06c80" opacity="0.35"/><ellipse cx="798" cy="985" rx="8.6" ry="3.1" fill="#e06c80" opacity="0.35"/><ellipse cx="976" cy="975" rx="6.0" ry="3.6" fill="#e06c80" opacity="0.35"/><ellipse cx="909" cy="991" rx="7.8" ry="3.1" fill="#e06c80" opacity="0.35"/><ellipse cx="908" cy="866" rx="8.4" ry="3.5" fill="#e06c80" opacity="0.35"/><ellipse cx="821" cy="969" rx="4.4" ry="3.9" fill="#e06c80" opacity="0.35"/><ellipse cx="769" cy="868" rx="5.6" ry="3.7" fill="#e06c80" opacity="0.35"/><ellipse cx="854" cy="902" rx="7.7" ry="3.7" fill="#e06c80" opacity="0.35"/><ellipse cx="991" cy="963" rx="4.2" ry="4.1" fill="#e06c80" opacity="0.35"/><ellipse cx="784" cy="907" rx="7.4" ry="3.1" fill="#e06c80" opacity="0.35"/><ellipse cx="965" cy="985" rx="8.5" ry="4.1" fill="#e06c80" opacity="0.35"/><ellipse cx="742" cy="969" rx="5.6" ry="3.4" fill="#e06c80" opacity="0.35"/><ellipse cx="941" cy="977" rx="7.7" ry="4.1" fill="#e06c80" opacity="0.35"/><ellipse cx="956" cy="967" rx="6.6" ry="3.9" fill="#e06c80" opacity="0.35"/><ellipse cx="772" cy="974" rx="6.6" ry="3.7" fill="#e06c80" opacity="0.35"/><ellipse cx="1003" cy="990" rx="8.6" ry="4.7" fill="#e06c80" opacity="0.35"/><ellipse cx="834" cy="962" rx="8.0" ry="3.9" fill="#e06c80" opacity="0.35"/><ellipse cx="976" cy="907" rx="7.8" ry="3.5" fill="#e06c80" opacity="0.35"/><ellipse cx="792" cy="911" rx="7.8" ry="3.3" fill="#e06c80" opacity="0.35"/><ellipse cx="887" cy="999" rx="6.3" ry="3.2" fill="#e06c80" opacity="0.35"/><ellipse cx="774" cy="982" rx="6.3" ry="3.0" fill="#e06c80" opacity="0.35"/><ellipse cx="1007" cy="943" rx="4.0" ry="3.4" fill="#e06c80" opacity="0.35"/><ellipse cx="831" cy="1006" rx="5.4" ry="4.2" fill="#e06c80" opacity="0.35"/><ellipse cx="874" cy="939" rx="8.3" ry="4.8" fill="#e06c80" opacity="0.35"/><ellipse cx="942" cy="936" rx="6.5" ry="4.8" fill="#e06c80" opacity="0.35"/></g><g filter="url(#soft)"><path d="M936 419h0M1005 465h0M981 436h0M793 480h0M877 480h0M882 482h0M1040 442h0M910 432h0M795 432h0M742 450h0M1042 421h0M795 416h0M834 455h0M854 461h0M798 472h0M894 461h0M825 417h0M863 462h0M836 441h0M984 440h0M985 473h0M783 461h0M905 429h0M743 421h0M1015 403h0M742 442h0M799 456h0M743 456h0M811 485h0M778 435h0M888 482h0M825 475h0M1005 458h0M957 454h0M754 412h0M1024 432h0M828 402h0M750 430h0M976 372h0M858 418h0M1022 478h0M904 472h0M871 468h0M801 458h0M883 438h0M820 452h0M736 436h0M798 429h0M832 429h0M995 434h0M862 404h0M829 455h0M910 430h0M796 429h0M886 474h0M740 477h0M736 459h0M847 424h0M790 436h0M1017 434h0M999 484h0M739 447h0M874 428h0M951 476h0M799 426h0M900 483h0M964 400h0M848 430h0M846 430h0M805 426h0M806 422h0M952 357h0M768 458h0M789 435h0M842 444h0M747 412h0M884 423h0M791 438h0M785 456h0M971 427h0M1045 461h0M776 358h0M789 415h0M768 484h0M995 389h0M922 482h0M795 461h0M796 367h0M1033 468h0M925 456h0M920 428h0M738 434h0M1009 418h0M961 439h0M853 459h0M740 482h0M1017 485h0M964 341h0M872 399h0M841 451h0M885 483h0M775 428h0M802 438h0M780 425h0M994 397h0M835 402h0M816 403h0M782 433h0M957 452h0M1023 461h0M920 418h0M977 429h0M754 376h0M999 454h0M785 437h0M749 485h0M743 340h0M768 445h0M1035 390h0M1038 349h0M906 450h0M1019 454h0M956 469h0M768 421h0M841 441h0M774 374h0M901 462h0M1009 458h0M892 459h0M997 478h0M859 410h0M855 418h0M783 478h0M803 462h0M858 388h0M1009 451h0M822 427h0M774 367h0M838 486h0M827 455h0M756 430h0" stroke="#402864" stroke-opacity="0.38" stroke-width="2.3" stroke-linecap="round"/><path d="M914 429h0M861 474h0M881 428h0M831 465h0M986 422h0M879 481h0M895 440h0M1008 463h0M1032 442h0M762 419h0M771 422h0M995 447h0M746 451h0M990 354h0M1022 367h0M963 424h0M883 461h0M810 467h0M792 480h0M951 442h0M780 486h0M841 435h0M781 469h0M876 426h0M913 473h0M742 438h0M797 409h0M736 484h0M745 445h0M968 466h0M812 469h0M870 448h0M969 400h0M739 451h0M847 471h0M1037 368h0M903 453h0M992 479h0M845 434h0M990 425h0M960 449h0M836 451h0M990 372h0M855 484h0M889 408h0M974 422h0M875 400h0M918 470h0M967 466h0M827 407h0M960 449h0M865 406h0M847 399h0M766 375h0M1008 360h0M943 435h0M963 430h0M1025 426h0M949 420h0M997 471h0M833 446h0M781 466h0M765 483h0M781 442h0M744 451h0M913 459h0M797 421h0M919 421h0M833 426h0M785 488h0M947 422h0M741 440h0M896 477h0M930 455h0M763 417h0M752 471h0M801 474h0M758 467h0M762 482h0M1021 434h0M864 422h0M953 400h0M807 489h0M818 462h0M1027 475h0M1030 423h0M760 444h0M743 433h0M996 391h0M1013 454h0M957 427h0M769 458h0M1012 393h0M842 426h0M788 405h0M886 464h0M993 425h0M1000 461h0M952 371h0M786 377h0M977 350h0M993 447h0M982 452h0M924 461h0M938 429h0M789 451h0M829 454h0M793 462h0M797 338h0M906 458h0M891 441h0M912 481h0M838 467h0M926 453h0M812 480h0M815 381h0M1032 459h0M765 482h0M884 460h0M933 464h0M1011 430h0M844 436h0M749 447h0M993 450h0M793 341h0M899 465h0M1009 465h0M886 428h0M830 457h0M887 466h0M1026 427h0M737 440h0M928 424h0M801 475h0M807 424h0M903 451h0M751 404h0M968 398h0M958 456h0M853 421h0M878 483h0M813 422h0M868 419h0M1002 401h0M781 450h0M796 363h0M797 418h0M970 420h0M799 446h0M922 425h0M858 427h0M843 475h0M753 459h0M892 436h0M929 427h0M979 446h0M958 452h0M1020 453h0M979 433h0M789 400h0M969 421h0M833 445h0M776 372h0M878 439h0M1027 425h0M876 405h0M938 466h0M906 479h0" stroke="#402864" stroke-opacity="0.52" stroke-width="2.3" stroke-linecap="round"/><path d="M1031 398h0M806 447h0M955 462h0M925 422h0M744 450h0M881 481h0M839 456h0M1022 426h0M740 412h0M909 419h0M886 461h0M1022 470h0M952 452h0M881 433h0M820 465h0M799 398h0M760 458h0M779 474h0M1014 421h0M829 419h0M938 425h0M976 467h0M814 439h0M998 479h0M974 432h0M850 425h0M786 379h0M899 448h0M824 459h0M946 413h0M841 451h0M811 467h0M869 422h0M803 465h0M818 479h0M763 446h0M742 412h0M977 448h0M747 428h0M1010 481h0M753 432h0M1040 462h0M997 484h0M829 425h0M791 442h0M773 471h0M795 460h0M965 473h0M850 439h0M811 452h0M848 436h0M853 418h0M948 453h0M857 417h0M796 430h0M902 436h0M793 444h0M998 375h0M900 448h0M741 461h0M946 400h0M811 398h0M746 455h0M886 465h0M904 458h0M747 452h0M888 434h0M1000 439h0M939 469h0M738 488h0M779 434h0M962 460h0M908 483h0M853 475h0M741 443h0M1024 448h0M965 372h0M856 368h0M911 437h0M777 456h0M1037 429h0M867 446h0M788 481h0M739 443h0M762 434h0M792 444h0M920 426h0M908 435h0M899 428h0M885 438h0M936 452h0M929 427h0M997 473h0M749 423h0M754 464h0M881 474h0M861 399h0M851 469h0M802 427h0M987 482h0M932 467h0M736 444h0M780 486h0M808 427h0M840 452h0M1021 415h0M874 469h0M867 424h0M1034 485h0M800 463h0M1021 440h0M934 425h0M882 477h0M971 428h0M781 399h0M973 448h0M879 469h0M1039 469h0M738 433h0M985 461h0M755 423h0M794 454h0M823 427h0M1025 484h0M1039 420h0M823 425h0" stroke="#402864" stroke-opacity="0.66" stroke-width="2.3" stroke-linecap="round"/><path d="M972 420h0M947 479h0M949 469h0M879 424h0M757 424h0M872 427h0M854 398h0M935 455h0M886 430h0M795 421h0M957 456h0M1001 460h0M883 490h0M901 453h0M999 464h0M747 397h0M827 440h0M1046 369h0M1005 459h0M1001 469h0M741 477h0M767 423h0M1015 471h0M822 401h0M909 482h0M747 359h0M938 477h0M782 432h0M767 444h0M824 430h0M926 430h0M814 418h0M743 453h0M953 466h0M890 427h0M929 420h0M939 463h0M1015 483h0M938 412h0M914 427h0M833 438h0M978 469h0M1012 444h0M884 475h0M985 488h0M970 433h0M1005 466h0M798 415h0M796 447h0M888 489h0M988 423h0M820 473h0M859 480h0M859 450h0M942 445h0M809 467h0M993 477h0M740 399h0M847 459h0M756 439h0M964 435h0M820 453h0M911 429h0M928 425h0M758 437h0M735 434h0M797 470h0M878 470h0M894 447h0M1043 428h0M769 423h0M1017 459h0M883 443h0M899 453h0M789 449h0M794 430h0M947 396h0M976 436h0M904 467h0M907 438h0M1031 462h0M772 360h0M762 489h0M744 477h0M776 427h0M760 465h0M1013 464h0M900 444h0M901 459h0M977 449h0M905 458h0M966 462h0M803 465h0M919 434h0M815 471h0M876 478h0M1006 485h0M790 429h0M965 429h0M937 419h0M979 431h0M883 430h0M936 482h0M1011 489h0M873 431h0M803 441h0M742 457h0M861 411h0M997 477h0M1002 433h0M978 489h0M1014 452h0M906 428h0M900 449h0M953 464h0M820 426h0M743 475h0M909 481h0M962 346h0M799 432h0M925 456h0M965 447h0M851 442h0M972 489h0M831 461h0M947 445h0M816 418h0M938 429h0M785 425h0M906 467h0M1003 451h0M868 416h0M739 452h0M913 413h0M771 425h0M808 445h0M882 439h0M763 421h0M787 456h0M965 419h0M802 398h0M781 452h0" stroke="#402864" stroke-opacity="0.38" stroke-width="2.8" stroke-linecap="round"/><path d="M809 436h0M900 449h0M923 418h0M769 466h0M805 467h0M784 447h0M993 483h0M899 447h0M791 444h0M906 452h0M1034 355h0M813 462h0M917 404h0M841 339h0M772 404h0M944 448h0M778 431h0M799 480h0M945 402h0M844 436h0M905 458h0M955 489h0M869 447h0M1011 451h0M1020 450h0M1027 453h0M897 461h0M967 431h0M864 417h0M790 406h0M934 354h0M801 463h0M777 480h0M994 369h0M775 444h0M1019 475h0M1043 473h0M997 421h0M879 471h0M839 445h0M880 465h0M987 415h0M770 439h0M870 488h0M937 438h0M749 426h0M888 448h0M955 464h0M1028 410h0M1025 440h0M789 488h0M991 482h0M878 466h0M963 437h0M1039 432h0M1014 438h0M751 426h0M907 475h0M877 443h0M808 437h0M783 435h0M881 485h0M928 466h0M1022 409h0M833 347h0M912 429h0M779 448h0M1033 408h0M992 452h0M944 440h0M988 447h0M752 393h0M1002 484h0M941 435h0M960 437h0M788 435h0M819 395h0M863 480h0M863 479h0M784 464h0M736 343h0M935 457h0M1031 402h0M939 433h0M742 435h0M782 436h0M808 425h0M917 380h0M786 465h0M812 426h0M818 427h0M908 428h0M760 468h0M983 421h0M998 463h0M927 442h0M938 461h0M967 416h0M782 440h0M992 454h0M886 465h0M978 437h0M971 424h0M982 370h0M887 459h0M764 425h0M1019 437h0M917 479h0M863 489h0M969 430h0M997 442h0M995 484h0M971 482h0M1010 484h0M983 425h0M893 445h0M951 340h0M855 476h0M802 461h0M738 459h0M883 482h0M803 415h0M819 428h0M977 461h0M1000 430h0M871 459h0M871 400h0M910 479h0M812 450h0M738 397h0M774 442h0M847 402h0M954 406h0M1009 442h0M964 475h0M1008 389h0M812 425h0M944 435h0M819 391h0M901 423h0M736 432h0M947 453h0M905 417h0M975 463h0M950 490h0M958 453h0M761 421h0M853 484h0M892 466h0M1021 374h0M828 455h0M828 430h0M881 419h0M760 361h0M806 420h0M1012 438h0M793 457h0" stroke="#402864" stroke-opacity="0.52" stroke-width="2.8" stroke-linecap="round"/><path d="M914 478h0M1012 431h0M923 423h0M982 424h0M985 425h0M781 460h0M892 449h0M880 465h0M949 444h0M840 438h0M992 402h0M1038 485h0M752 429h0M908 449h0M898 458h0M741 453h0M936 410h0M793 462h0M935 437h0M747 487h0M913 430h0M979 415h0M741 450h0M1022 473h0M800 471h0M894 438h0M761 434h0M939 454h0M1021 435h0M831 428h0M901 482h0M738 414h0M774 399h0M890 432h0M945 460h0M811 422h0M1021 477h0M897 443h0M883 472h0M876 482h0M994 451h0M786 436h0M880 462h0M966 431h0M1025 483h0M735 434h0M764 411h0M980 425h0M980 423h0M906 471h0M896 353h0M847 443h0M993 455h0M780 428h0M994 424h0M782 450h0M835 465h0M843 450h0M783 443h0M826 435h0M1035 390h0M895 449h0M739 433h0M975 449h0M826 463h0M1017 455h0M998 468h0M844 484h0M793 440h0M1011 440h0M796 446h0M989 428h0M940 463h0M753 425h0M955 479h0M796 415h0M751 416h0M991 461h0M1017 465h0M794 454h0M824 442h0M1042 478h0M789 451h0M906 461h0M979 482h0M884 480h0M843 452h0M891 449h0M881 466h0M957 427h0M1044 420h0M1044 443h0M918 446h0M822 478h0M757 443h0M878 430h0M924 400h0M1044 435h0M853 429h0M830 463h0M990 414h0M1024 471h0M1027 419h0M888 436h0M811 425h0M990 448h0M751 402h0M1008 461h0M906 470h0M938 402h0M741 488h0M831 445h0M1006 442h0M958 437h0M744 432h0M1027 423h0M907 446h0M988 427h0M842 466h0M804 425h0M748 463h0M1027 476h0M843 443h0M834 439h0M822 424h0M951 456h0M801 478h0M943 446h0M874 440h0M784 439h0M784 443h0M816 404h0M743 363h0M894 454h0M941 425h0M866 441h0M768 419h0" stroke="#402864" stroke-opacity="0.66" stroke-width="2.8" stroke-linecap="round"/><path d="M758 421h0M956 463h0M891 437h0M996 475h0M958 420h0M803 476h0M790 442h0M890 454h0M739 441h0M1000 476h0M1027 483h0M858 424h0M805 476h0M814 420h0M801 472h0M1008 484h0M805 428h0M804 440h0M1043 423h0M1041 484h0M868 460h0M855 452h0M1007 453h0M913 405h0M844 452h0M998 424h0M927 459h0M747 421h0M832 403h0M861 455h0M931 415h0M911 456h0M741 454h0M905 431h0M968 441h0M1005 475h0M1037 413h0M941 421h0M778 445h0M913 420h0M960 487h0M927 463h0M827 423h0M742 453h0M908 477h0M757 484h0M786 433h0M1016 452h0M823 428h0M747 477h0M1013 454h0M1023 462h0M800 469h0M863 469h0M825 458h0M849 425h0M1012 455h0M796 488h0M888 484h0M789 484h0M834 438h0M907 448h0M1031 483h0M1022 474h0M903 451h0M864 451h0M805 484h0M1015 352h0M1044 442h0M749 481h0M944 430h0M798 472h0M1001 468h0M923 476h0M808 426h0M1006 467h0M796 430h0M809 424h0M838 424h0M759 395h0M943 453h0M984 448h0M745 440h0M824 434h0M1013 454h0M986 454h0M843 434h0M974 482h0M878 427h0M755 342h0M932 399h0M876 424h0M1019 428h0M791 440h0M1021 477h0M795 458h0M865 421h0M905 482h0M798 472h0M765 431h0M906 478h0M811 427h0M893 428h0M827 432h0M822 367h0M927 393h0M969 470h0M830 436h0M1045 489h0M871 469h0M787 475h0M738 401h0M946 400h0M883 451h0M770 418h0M864 462h0M766 470h0M797 360h0M856 426h0M846 476h0M890 433h0M848 436h0M787 450h0M881 426h0M798 478h0M907 462h0M789 398h0M1022 416h0M739 484h0M973 404h0M738 398h0M735 407h0M823 362h0M957 415h0M998 447h0" stroke="#402864" stroke-opacity="0.38" stroke-width="3.4" stroke-linecap="round"/><path d="M958 462h0M902 443h0M957 475h0M1004 480h0M957 447h0M768 434h0M818 468h0M947 472h0M935 416h0M898 460h0M996 432h0M803 479h0M920 404h0M882 485h0M919 400h0M1015 483h0M1008 452h0M934 424h0M875 455h0M757 340h0M767 449h0M958 476h0M768 414h0M930 430h0M927 463h0M975 477h0M1042 447h0M944 437h0M886 413h0M993 427h0M1034 466h0M1001 469h0M859 428h0M954 482h0M982 398h0M793 466h0M972 423h0M751 416h0M779 432h0M1018 481h0M773 424h0M811 439h0M867 444h0M841 453h0M857 428h0M1000 435h0M748 368h0M793 348h0M790 414h0M945 480h0M1045 444h0M898 484h0M1005 461h0M982 430h0M889 439h0M1028 413h0M832 433h0M890 440h0M887 489h0M1035 395h0M809 479h0M797 437h0M890 472h0M841 459h0M894 480h0M776 435h0M939 471h0M833 434h0M1040 399h0M932 433h0M881 469h0M742 435h0M772 446h0M957 352h0M1029 451h0M879 461h0M791 474h0M1019 452h0M781 476h0M801 456h0M756 425h0M746 432h0M1015 483h0M872 471h0M923 434h0M832 463h0M791 380h0M823 459h0M754 473h0M762 458h0M1026 422h0M1041 472h0M963 429h0M890 439h0M859 457h0M1014 404h0M987 451h0M981 357h0M881 424h0M943 415h0M1045 403h0M944 455h0M789 446h0M1035 344h0M753 424h0M1040 458h0M1023 455h0M930 454h0M785 441h0M890 452h0M917 427h0M903 449h0M880 482h0M1037 472h0M995 423h0M794 450h0M929 484h0M750 470h0M802 415h0M888 455h0M803 431h0M755 345h0M973 395h0M749 431h0M1045 449h0M873 426h0M903 429h0" stroke="#402864" stroke-opacity="0.52" stroke-width="3.4" stroke-linecap="round"/><path d="M970 470h0M931 476h0M786 458h0M779 478h0M992 441h0M747 416h0M753 429h0M782 442h0M853 419h0M1027 424h0M1043 349h0M860 424h0M788 437h0M1012 430h0M1020 433h0M825 469h0M1012 464h0M769 427h0M915 424h0M826 455h0M976 424h0M867 420h0M786 455h0M872 402h0M817 460h0M946 428h0M780 439h0M1014 463h0M883 433h0M977 421h0M1026 479h0M779 473h0M914 457h0M801 425h0M1023 468h0M836 453h0M852 397h0M1008 455h0M1007 440h0M925 479h0M870 422h0M1014 453h0M934 358h0M986 451h0M981 418h0M747 433h0M1026 443h0M944 435h0M932 478h0M1023 474h0M1035 484h0M748 348h0M869 459h0M997 474h0M894 443h0M1004 434h0M833 450h0M823 464h0M763 450h0M888 465h0M744 418h0M867 417h0M790 438h0M964 432h0M917 476h0M964 474h0M789 453h0M864 489h0M843 449h0M1013 444h0M932 461h0M1027 417h0M802 367h0M935 389h0M886 462h0M742 462h0M1004 489h0M956 443h0M935 476h0M905 415h0M909 464h0M872 437h0M877 427h0M950 432h0M821 406h0M905 453h0M1024 469h0M1019 446h0M808 366h0M874 448h0M1008 478h0M1007 419h0M947 430h0M1027 469h0M905 419h0M952 438h0M893 454h0M931 422h0M821 400h0M804 464h0M907 425h0M757 450h0M1010 452h0M940 430h0M883 474h0M782 480h0M801 413h0M877 440h0M896 463h0M924 488h0M767 460h0M1009 464h0M769 460h0M996 430h0M763 428h0M776 424h0M746 477h0M881 427h0M973 428h0M912 423h0M846 435h0M848 432h0M891 454h0M808 457h0M1009 419h0M1014 363h0M1002 473h0M1032 427h0M792 436h0M827 424h0M777 467h0M783 477h0M773 480h0M787 416h0M1019 431h0" stroke="#402864" stroke-opacity="0.66" stroke-width="3.4" stroke-linecap="round"/><path d="M860 926h0M822 976h0M816 971h0M749 984h0M930 872h0M1044 894h0M777 966h0M912 967h0M1023 961h0M1036 911h0M1026 1025h0M908 885h0M862 1010h0M753 869h0M1042 975h0M1003 988h0M1039 917h0M755 974h0M949 993h0M1024 972h0M920 974h0M814 866h0M740 870h0M996 920h0M905 992h0M927 974h0M881 893h0M956 905h0M820 999h0M955 913h0M987 1004h0M762 956h0M983 943h0M823 922h0M772 973h0M1032 880h0M1027 983h0M841 890h0M800 932h0M903 996h0M923 928h0M739 975h0M984 922h0M852 905h0M938 915h0M785 872h0M864 953h0M799 894h0M911 1008h0M1000 931h0M861 945h0M802 916h0M1001 922h0M889 1028h0M976 982h0M744 922h0M922 893h0M926 1021h0M932 914h0M749 938h0M793 931h0M847 903h0M910 986h0M751 960h0M957 952h0M922 1022h0M844 879h0M1002 984h0M806 869h0M1024 909h0M959 1000h0M1034 953h0M1011 981h0M924 948h0M852 896h0M868 938h0M982 947h0M870 944h0M951 862h0M974 1003h0M903 991h0M1032 939h0M936 985h0M1043 975h0M834 1002h0M1032 961h0M977 931h0M825 999h0M932 922h0M860 998h0M996 911h0M884 901h0M875 887h0M1023 914h0M941 993h0M962 918h0M962 911h0M1001 901h0M956 901h0M915 881h0M773 908h0M752 926h0M887 866h0M854 1025h0M863 995h0M910 882h0M936 993h0M877 1017h0M1012 879h0M797 931h0M997 962h0M994 952h0M915 971h0M1026 901h0M856 974h0M829 911h0M950 1004h0M1024 879h0M1038 972h0M940 938h0M918 894h0M903 996h0M987 1031h0M1040 1019h0M982 957h0M896 975h0M839 889h0M835 870h0M797 904h0M919 896h0M915 903h0M1022 941h0M889 973h0M790 867h0M924 890h0M912 908h0M851 1019h0M786 994h0M964 915h0M801 882h0M997 954h0M1039 957h0M1027 1008h0M970 888h0M840 1010h0M753 877h0M978 861h0M985 891h0M797 906h0M928 922h0M795 880h0M941 907h0M872 871h0M1008 870h0M817 976h0M778 1028h0M942 1010h0M1014 954h0M916 908h0M983 925h0M867 997h0M977 893h0M901 979h0M905 930h0M748 948h0M1023 948h0M977 1001h0M942 884h0M893 969h0M839 1024h0M812 969h0M913 952h0M771 977h0M853 979h0M1031 964h0M911 886h0M796 951h0M1031 1007h0M951 902h0M1003 887h0M992 962h0M984 986h0M991 967h0M772 865h0M747 981h0M863 963h0M992 923h0M838 937h0M910 953h0M946 885h0M741 905h0M949 958h0M895 996h0M912 879h0M888 923h0M980 1005h0M909 900h0M941 1003h0M1043 899h0M806 982h0M1021 1011h0M866 884h0M1014 1001h0M1025 885h0M877 895h0M938 970h0M1016 946h0M858 969h0M738 1007h0M891 1019h0M793 898h0M1000 1033h0M896 943h0M977 921h0M741 931h0M977 921h0M1013 934h0M862 914h0M971 910h0M899 907h0M903 990h0M1007 1011h0M913 1024h0M841 954h0M944 926h0M1008 981h0M947 946h0M922 990h0M845 983h0M957 921h0M838 952h0M1032 869h0M807 968h0M851 951h0M783 994h0M833 867h0M896 927h0M856 921h0M1011 991h0M896 925h0M982 943h0M851 957h0M815 887h0M831 948h0M890 960h0M1045 905h0M784 995h0M813 890h0M909 972h0M920 893h0M968 1030h0M1008 927h0M909 991h0M781 913h0M919 969h0M1046 877h0M802 913h0M796 897h0M840 1027h0M800 887h0M776 864h0M924 875h0M987 947h0M845 900h0M758 885h0M759 989h0M964 868h0M754 964h0M850 980h0M940 991h0M1041 981h0M993 950h0M1003 1013h0M1023 1033h0M969 974h0M1039 964h0M808 965h0M866 919h0M972 925h0M891 893h0M1010 939h0M836 955h0M1029 877h0M996 955h0M970 986h0M940 921h0M984 883h0M951 987h0M1031 884h0M876 1018h0M868 933h0M825 939h0" stroke="#56307a" stroke-opacity="0.5" stroke-width="2.8" stroke-linecap="round"/><path d="M890 920h0M999 964h0M1044 982h0M838 913h0M825 961h0M914 915h0M893 926h0M897 999h0M994 1011h0M873 1001h0M988 895h0M802 951h0M1043 919h0M1029 920h0M779 863h0M869 1012h0M919 971h0M769 980h0M863 923h0M832 1004h0M857 913h0M1029 975h0M891 895h0M1046 906h0M995 995h0M1018 917h0M808 878h0M832 877h0M1035 901h0M934 933h0M757 863h0M984 882h0M980 930h0M803 1007h0M910 960h0M979 993h0M788 929h0M840 982h0M881 922h0M867 924h0M856 1011h0M905 870h0M749 920h0M831 879h0M770 965h0M922 916h0M1038 978h0M1035 905h0M1018 889h0M740 966h0M736 897h0M792 995h0M891 868h0M849 949h0M770 896h0M920 1005h0M858 873h0M963 1026h0M993 863h0M1008 939h0M845 976h0M1012 974h0M841 1027h0M1031 963h0M812 936h0M953 947h0M818 901h0M980 931h0M935 865h0M1030 983h0M963 1001h0M810 924h0M1035 913h0M1025 1000h0M833 891h0M801 993h0M821 897h0M778 875h0M743 918h0M1018 922h0M939 918h0M812 922h0M1044 896h0M875 870h0M820 972h0M899 995h0M832 914h0M1020 1001h0M888 1021h0M1033 975h0M822 951h0M921 989h0M986 992h0M944 925h0M1017 911h0M1010 881h0M957 1011h0M856 987h0M960 966h0M946 911h0M825 998h0M818 881h0M979 1010h0M990 944h0M978 869h0M788 983h0M818 970h0M916 954h0M811 992h0M942 1011h0M1009 978h0M750 990h0M926 907h0M1041 993h0M919 957h0M884 894h0M1028 888h0M838 891h0M811 949h0M968 970h0M978 990h0M983 882h0M837 927h0M762 981h0M840 946h0M1012 932h0M948 877h0M827 912h0M815 1000h0M878 897h0M814 900h0M1040 929h0M897 999h0M1008 933h0M757 1025h0M992 1005h0M948 950h0M827 922h0M856 970h0M834 1009h0M942 960h0M920 955h0M964 978h0M739 1016h0M877 891h0M808 915h0M842 875h0M872 917h0M741 981h0M772 863h0M927 972h0M953 996h0M905 917h0M882 879h0M956 959h0M853 973h0M923 867h0M878 896h0M909 955h0M977 914h0M824 870h0M776 970h0M931 930h0M778 942h0M993 880h0M897 889h0M870 983h0M889 916h0M984 861h0M799 901h0M812 883h0M1024 879h0M1001 968h0M769 907h0M1008 1029h0M927 985h0M740 970h0M916 978h0M867 968h0M889 963h0M792 936h0M745 983h0M831 919h0M914 1019h0M839 964h0M940 880h0M984 994h0M895 1019h0M1025 907h0M914 964h0M883 976h0M1031 884h0M781 993h0M841 1010h0M919 1023h0M883 906h0M753 923h0M935 915h0M971 882h0M968 878h0M975 929h0M821 977h0M735 954h0M962 896h0M777 952h0M742 963h0M878 885h0M892 928h0M966 947h0M960 910h0M908 1017h0M982 983h0M796 941h0M912 959h0M780 967h0M903 1014h0M797 921h0M743 969h0M862 973h0M904 931h0M971 916h0M901 884h0M1041 966h0M765 1021h0M787 862h0M892 960h0M744 977h0M903 930h0M774 865h0M923 900h0M910 933h0M774 981h0M932 972h0M989 1002h0M1026 940h0M978 996h0M823 1027h0M942 966h0M975 934h0M899 994h0M802 948h0M924 889h0M901 999h0M962 988h0M963 979h0M989 881h0M817 980h0M977 882h0M1009 945h0M893 928h0M1039 946h0M894 928h0M928 932h0M999 972h0M747 902h0M941 896h0M953 1021h0M862 953h0M750 1033h0M857 928h0M899 968h0M1005 1014h0M1028 888h0M1030 969h0M775 971h0M1017 949h0M925 906h0M1033 933h0M772 907h0M847 880h0M900 931h0M790 988h0M1021 941h0M928 988h0M777 915h0M742 1000h0M819 984h0M796 876h0M779 917h0M822 886h0M868 1006h0M962 902h0M958 952h0M883 994h0M929 889h0M878 954h0M931 983h0M991 938h0M887 891h0M994 900h0M985 900h0M792 1003h0M845 1024h0M787 982h0M967 912h0M954 965h0M975 935h0M951 1032h0M974 981h0M1019 928h0" stroke="#56307a" stroke-opacity="0.62" stroke-width="2.8" stroke-linecap="round"/><path d="M1020 950h0M974 909h0M1015 1024h0M1005 918h0M1001 951h0M949 892h0M842 888h0M999 894h0M852 997h0M948 900h0M966 931h0M872 954h0M787 956h0M856 978h0M949 904h0M902 901h0M827 866h0M903 939h0M801 936h0M749 1009h0M887 871h0M921 962h0M881 880h0M807 975h0M800 907h0M1030 935h0M809 975h0M949 939h0M939 929h0M923 959h0M950 1024h0M938 982h0M941 942h0M1028 900h0M762 1001h0M770 909h0M1033 958h0M841 961h0M969 896h0M843 939h0M882 1018h0M773 979h0M742 902h0M943 955h0M941 900h0M803 1015h0M813 956h0M916 893h0M811 982h0M1039 1024h0M748 996h0M999 988h0M934 879h0M966 931h0M810 1021h0M941 927h0M843 964h0M883 993h0M1021 891h0M867 1033h0M987 1011h0M834 861h0M834 962h0M1025 950h0M859 897h0M822 933h0M830 904h0M803 929h0M848 974h0M799 932h0M999 926h0M1035 927h0M897 982h0M817 919h0M1011 933h0M909 888h0M755 979h0M1031 901h0M935 959h0M805 1031h0M752 987h0M752 989h0M793 997h0M1018 923h0M852 989h0M884 981h0M859 925h0M809 902h0M943 947h0M967 923h0M737 977h0M1038 932h0M916 962h0M983 949h0M977 899h0M1014 910h0M1016 919h0M1014 948h0M938 1033h0M829 928h0M757 983h0M758 1003h0M1017 947h0M865 994h0M935 871h0M755 961h0M943 952h0M945 928h0M989 996h0M794 1004h0M966 968h0M962 984h0M927 941h0M806 888h0M835 946h0M741 965h0M833 1002h0M816 987h0M1011 879h0M1030 892h0M977 888h0M972 921h0M964 952h0M964 933h0M874 1014h0M1018 882h0M831 1007h0M794 946h0M887 967h0M803 1002h0M886 905h0M979 992h0M865 970h0M894 977h0M1020 879h0M838 881h0M862 980h0M751 868h0M827 885h0M936 943h0M744 923h0M869 884h0M1012 950h0M805 1021h0M1008 992h0M777 993h0M982 938h0M795 960h0M904 945h0M845 902h0M820 970h0M791 939h0M787 953h0M807 983h0M788 955h0M827 918h0M796 883h0M795 987h0M801 945h0M762 890h0M1046 990h0M787 989h0M946 887h0M827 940h0M795 943h0M992 920h0M1007 999h0M963 897h0M893 980h0M966 1012h0M884 895h0M965 1020h0M950 968h0M912 1007h0M850 984h0M848 872h0M778 925h0M992 1019h0M742 979h0M983 940h0M906 959h0M1038 925h0M841 1020h0M740 1031h0M880 957h0M979 998h0M926 882h0M878 889h0M1015 987h0M866 933h0M984 906h0M903 961h0M761 882h0M793 958h0M943 986h0M890 904h0M916 875h0M927 993h0M970 928h0M810 911h0M774 901h0M1014 887h0M775 904h0M910 1023h0M962 920h0M902 921h0M857 939h0M834 902h0M962 1032h0M874 889h0M896 989h0M844 887h0M903 986h0M893 981h0M898 991h0M795 877h0M987 893h0M861 1008h0M951 940h0M892 922h0M765 890h0M917 951h0M917 895h0M764 893h0M819 986h0M1040 965h0M868 939h0M839 902h0M863 915h0M759 931h0M738 931h0M836 949h0M1022 891h0M800 901h0M1030 958h0M741 984h0M989 887h0M819 864h0M963 887h0M990 881h0M837 912h0M1003 1029h0M821 1014h0M787 894h0M1007 881h0M784 930h0M869 998h0M988 878h0M792 992h0M959 989h0M1040 977h0M983 912h0M951 1001h0M1037 1019h0M809 863h0M1036 954h0M928 1000h0" stroke="#56307a" stroke-opacity="0.74" stroke-width="2.8" stroke-linecap="round"/><path d="M982 968h0M928 981h0M754 999h0M912 966h0M938 990h0M1030 961h0M827 878h0M891 966h0M750 919h0M885 1020h0M884 883h0M799 948h0M1030 1018h0M981 958h0M956 969h0M776 881h0M1002 1024h0M921 908h0M825 866h0M807 907h0M995 936h0M790 928h0M768 965h0M1008 928h0M846 893h0M871 993h0M912 945h0M863 973h0M747 912h0M811 879h0M1025 903h0M804 896h0M811 979h0M1019 944h0M929 908h0M1036 994h0M795 935h0M906 925h0M969 922h0M1039 915h0M982 985h0M791 996h0M826 927h0M905 944h0M816 865h0M763 894h0M918 1022h0M945 1022h0M899 1020h0M1024 1018h0M802 988h0M856 980h0M1018 1019h0M782 952h0M921 862h0M1025 942h0M750 990h0M899 911h0M842 954h0M1001 905h0M1009 879h0M755 937h0M761 938h0M936 967h0M1037 873h0M1042 863h0M896 916h0M1019 1013h0M829 1008h0M766 927h0M1043 1021h0M856 961h0M755 977h0M754 1007h0M853 922h0M962 993h0M850 967h0M854 968h0M805 967h0M1031 976h0M1016 934h0M872 943h0M800 892h0M824 994h0M1037 982h0M834 948h0M1030 879h0M946 943h0M996 870h0M927 905h0M970 976h0M741 935h0M745 988h0M950 956h0M772 981h0M846 888h0M945 1027h0M916 934h0M930 879h0M946 952h0M913 960h0M890 996h0M777 912h0M948 949h0M819 985h0M886 906h0M735 1016h0M906 941h0M781 994h0M743 918h0M964 871h0M893 897h0M1038 956h0M917 893h0M997 1030h0M790 962h0M912 947h0M947 1004h0M874 883h0M936 937h0M1011 1003h0M948 903h0M782 990h0M1014 904h0M900 875h0M984 979h0M806 910h0M841 973h0M944 945h0M937 912h0M964 960h0M900 913h0M1032 904h0M911 1005h0M918 894h0M867 987h0M968 985h0M827 940h0M951 944h0M1046 996h0M903 876h0M738 861h0M1024 948h0M884 973h0M888 1009h0M831 874h0M1019 864h0M1025 891h0M775 897h0M838 964h0M951 878h0M763 993h0M989 1019h0M774 923h0M949 935h0M757 1002h0M959 912h0M950 892h0M750 958h0M967 967h0M982 949h0M766 879h0M944 937h0M979 876h0M776 979h0M858 939h0M846 976h0M830 999h0M1004 954h0M894 986h0M987 952h0M754 933h0M992 954h0M966 988h0M1041 893h0M1013 903h0M944 879h0M943 922h0M930 941h0M885 1017h0M747 940h0M823 944h0M916 970h0M945 899h0M877 972h0M1040 973h0M806 897h0M983 996h0M743 980h0M747 935h0M946 883h0M851 931h0M827 989h0M820 902h0M926 918h0M968 935h0M796 879h0M862 939h0M963 910h0M1032 1003h0M919 928h0M859 997h0M767 872h0M902 990h0M917 1012h0M1042 970h0M1007 933h0M751 912h0M778 888h0M985 870h0M807 961h0M1017 984h0M925 986h0M957 885h0M829 948h0M844 888h0M1044 967h0M994 894h0M937 925h0M1004 927h0M821 1000h0M1042 922h0M781 902h0M917 906h0M1001 912h0M1006 892h0M770 1024h0M870 999h0M1031 891h0M876 899h0M759 877h0M936 889h0M824 932h0M860 878h0M842 861h0M985 877h0M767 977h0M818 937h0M1036 1029h0M985 949h0M940 921h0M825 870h0M968 918h0M795 888h0M841 892h0M1037 959h0M1039 899h0M904 906h0M1011 994h0M875 1007h0M902 989h0M978 877h0M796 943h0M1046 882h0M994 1028h0M1026 955h0M948 1006h0M926 890h0M985 948h0M969 863h0M855 946h0M999 900h0M958 1031h0M878 912h0M962 984h0M1016 973h0M913 943h0M876 881h0" stroke="#56307a" stroke-opacity="0.5" stroke-width="3.3" stroke-linecap="round"/><path d="M1019 1011h0M1041 974h0M872 896h0M956 974h0M957 896h0M1031 895h0M940 882h0M783 989h0M902 940h0M1015 998h0M770 887h0M1012 996h0M910 979h0M814 965h0M840 949h0M904 991h0M846 1033h0M882 964h0M934 958h0M1010 980h0M931 932h0M737 862h0M1015 948h0M982 1017h0M911 993h0M849 914h0M976 936h0M1040 914h0M1016 932h0M988 885h0M882 1017h0M815 1022h0M1008 910h0M785 935h0M747 969h0M947 885h0M986 996h0M844 990h0M1019 895h0M856 871h0M971 959h0M874 892h0M819 968h0M840 882h0M877 878h0M975 862h0M890 914h0M865 997h0M985 873h0M833 1023h0M823 909h0M826 972h0M1046 905h0M1002 968h0M1013 867h0M865 1003h0M778 999h0M802 894h0M735 922h0M870 887h0M857 930h0M770 904h0M975 986h0M1041 975h0M840 947h0M961 972h0M973 1002h0M886 987h0M1030 914h0M1002 985h0M972 971h0M882 899h0M914 951h0M805 1013h0M823 925h0M768 938h0M989 945h0M1046 876h0M798 887h0M757 960h0M810 977h0M1030 971h0M804 894h0M954 885h0M794 963h0M863 930h0M861 1007h0M879 991h0M834 951h0M860 879h0M966 962h0M1008 919h0M981 947h0M825 986h0M811 896h0M821 865h0M1001 937h0M949 988h0M807 900h0M739 881h0M971 992h0M799 885h0M778 967h0M840 969h0M807 894h0M952 931h0M949 1027h0M871 986h0M791 881h0M1004 989h0M844 941h0M766 954h0M796 920h0M899 867h0M895 881h0M1003 935h0M980 963h0M924 973h0M789 880h0M842 961h0M757 861h0M1046 863h0M748 952h0M985 872h0M898 987h0M944 955h0M845 1003h0M945 948h0M875 937h0M916 1009h0M779 981h0M901 927h0M949 888h0M765 861h0M807 909h0M764 924h0M900 928h0M926 924h0M874 909h0M869 992h0M902 1018h0M762 899h0M858 865h0M834 889h0M908 886h0M989 980h0M779 920h0M814 968h0M849 954h0M932 938h0M1001 980h0M913 955h0M894 924h0M916 976h0M776 977h0M784 926h0M840 904h0M971 919h0M903 921h0M900 981h0M920 861h0M796 884h0M960 901h0M973 987h0M791 878h0M1046 996h0M758 891h0M927 868h0M855 977h0M993 952h0M950 897h0M953 951h0M1046 915h0M1041 986h0M862 1004h0M812 989h0M961 898h0M948 886h0M940 928h0M879 906h0M893 931h0M793 1001h0M996 938h0M1014 875h0M860 1031h0M971 990h0M1014 985h0M840 917h0M759 1007h0M987 879h0M962 915h0M818 925h0M952 885h0M1034 971h0M863 878h0M960 975h0M1013 983h0M1027 995h0M825 909h0M1005 976h0M941 922h0M782 988h0M1016 951h0M954 919h0M867 964h0M759 956h0M823 925h0M874 956h0M896 985h0M849 944h0M914 951h0M824 946h0M898 939h0M941 914h0M908 972h0M833 1011h0M902 890h0M1022 898h0M813 1032h0M901 983h0M1043 904h0M818 947h0M911 871h0M866 952h0M779 984h0M839 964h0M984 897h0M997 905h0M852 986h0M992 860h0M993 876h0M1034 909h0M804 962h0M872 1014h0M1025 980h0M856 915h0M1020 945h0M1015 890h0M861 953h0M814 907h0M924 916h0M1039 1032h0M1020 980h0M962 947h0M805 1003h0M915 941h0M962 902h0M981 1006h0M1030 901h0M811 1005h0M868 876h0M1038 1006h0M914 903h0M815 907h0M863 908h0M820 980h0M756 999h0M885 949h0M1025 1009h0M834 895h0M804 862h0M895 930h0M768 954h0M968 872h0M910 886h0M978 946h0M1036 906h0M855 917h0" stroke="#56307a" stroke-opacity="0.62" stroke-width="3.3" stroke-linecap="round"/><path d="M1034 927h0M872 921h0M898 989h0M813 896h0M817 893h0M761 951h0M755 958h0M903 1000h0M946 997h0M1033 955h0M795 942h0M945 1011h0M991 934h0M1034 903h0M884 999h0M970 919h0M1026 864h0M881 1013h0M1005 985h0M981 890h0M892 969h0M1035 863h0M843 975h0M791 1001h0M995 914h0M1004 981h0M996 918h0M975 938h0M751 870h0M961 954h0M936 906h0M843 1020h0M880 928h0M927 909h0M1017 969h0M880 1023h0M910 934h0M859 880h0M1044 914h0M877 942h0M928 983h0M997 991h0M885 985h0M941 964h0M944 989h0M906 1000h0M882 994h0M891 908h0M864 932h0M806 901h0M785 962h0M1019 991h0M835 1011h0M744 980h0M795 930h0M941 997h0M1016 996h0M955 961h0M798 906h0M1003 971h0M910 895h0M891 917h0M841 890h0M801 991h0M870 914h0M821 901h0M1019 905h0M868 870h0M774 955h0M941 995h0M818 940h0M875 940h0M756 991h0M1003 986h0M900 868h0M828 1005h0M770 985h0M789 982h0M815 913h0M764 901h0M818 984h0M1007 976h0M791 977h0M940 882h0M835 955h0M912 930h0M1028 958h0M966 925h0M786 948h0M736 972h0M998 880h0M756 1012h0M848 916h0M737 908h0M1006 967h0M1010 909h0M1000 918h0M750 877h0M745 923h0M811 1008h0M918 946h0M1015 885h0M970 958h0M996 948h0M739 976h0M870 868h0M954 957h0M975 944h0M842 956h0M901 991h0M996 976h0M950 922h0M807 1026h0M844 968h0M748 984h0M971 946h0M973 895h0M952 986h0M990 974h0M985 888h0M759 998h0M942 946h0M813 959h0M882 922h0M781 971h0M942 981h0M947 1003h0M888 915h0M999 899h0M1003 958h0M988 919h0M896 951h0M965 896h0M997 961h0M980 866h0M815 975h0M846 896h0M988 1006h0M824 981h0M906 933h0M972 915h0M999 931h0M840 941h0M773 1009h0M1016 871h0M756 886h0M920 966h0M845 962h0M1027 948h0M924 911h0M981 930h0M824 879h0M815 871h0M874 975h0M877 895h0M811 905h0M825 875h0M944 947h0M871 951h0M736 861h0M755 872h0M762 963h0M960 893h0M860 916h0M764 1024h0M1031 861h0M857 977h0M885 1009h0M836 1019h0M909 946h0M968 924h0M788 988h0M1005 985h0M1040 920h0M767 873h0M905 979h0M757 1009h0M859 869h0M958 958h0M929 884h0M777 993h0M779 923h0M879 947h0M912 960h0M781 938h0M837 982h0M873 999h0M1036 957h0M946 885h0M914 878h0M830 990h0M773 912h0M1027 886h0M969 983h0M954 891h0M887 926h0M929 895h0M972 968h0M916 1008h0M808 891h0M871 943h0M1022 963h0M868 946h0M829 985h0M997 931h0M959 1020h0M848 913h0M800 978h0M801 938h0M951 861h0M822 991h0M999 931h0M874 963h0M1012 934h0M887 899h0M972 997h0M772 893h0M800 865h0M842 965h0M1045 973h0M835 953h0M878 964h0M1019 947h0M977 956h0M939 1014h0M950 1016h0M1043 1005h0M966 870h0M802 932h0M973 936h0M1022 901h0M858 936h0M957 919h0M912 969h0M1015 997h0M903 1017h0M897 877h0M1031 1022h0M999 932h0M1046 891h0M1042 877h0M951 875h0M736 1032h0M1042 967h0M1003 1010h0M997 887h0M824 906h0M777 1019h0M959 881h0M892 955h0M801 875h0M806 905h0M1022 891h0M924 920h0" stroke="#56307a" stroke-opacity="0.74" stroke-width="3.3" stroke-linecap="round"/><path d="M800 971h0M931 879h0M1016 943h0M982 938h0M884 1014h0M843 958h0M994 949h0M824 932h0M899 997h0M883 1005h0M845 865h0M993 974h0M832 937h0M966 940h0M934 938h0M879 962h0M906 872h0M828 997h0M750 866h0M879 886h0M1000 864h0M785 969h0M746 956h0M876 906h0M994 927h0M818 973h0M872 945h0M829 877h0M821 1001h0M890 965h0M760 982h0M867 957h0M849 873h0M936 907h0M997 949h0M995 915h0M805 883h0M985 883h0M798 924h0M807 1007h0M746 1003h0M985 876h0M983 879h0M1008 982h0M922 961h0M1029 1001h0M859 995h0M934 900h0M909 941h0M784 930h0M853 957h0M988 887h0M977 994h0M1029 948h0M765 947h0M898 1000h0M855 1027h0M880 948h0M771 1028h0M755 987h0M761 861h0M1013 964h0M1016 891h0M984 889h0M889 935h0M905 986h0M1041 982h0M964 1021h0M869 989h0M924 946h0M1033 953h0M973 980h0M1015 935h0M911 936h0M1018 970h0M984 883h0M829 885h0M957 921h0M804 955h0M785 938h0M890 869h0M873 931h0M788 1008h0M801 937h0M862 977h0M800 998h0M810 1007h0M1034 932h0M903 889h0M819 934h0M998 960h0M998 1011h0M929 987h0M897 955h0M811 975h0M876 934h0M1022 1007h0M889 907h0M736 981h0M939 992h0M904 986h0M762 929h0M743 980h0M982 1015h0M953 956h0M896 937h0M797 897h0M857 992h0M849 952h0M836 937h0M861 941h0M805 958h0M887 913h0M793 998h0M1027 1019h0M998 964h0M789 993h0M806 954h0M999 1017h0M1033 866h0M1035 1002h0M836 960h0M819 969h0M855 872h0M805 904h0M898 929h0M758 1023h0M1000 997h0M1017 989h0M1025 956h0M904 1011h0M953 904h0M922 971h0M809 889h0M903 908h0M841 911h0M800 966h0M950 889h0M955 945h0M923 914h0M923 975h0M858 873h0M918 875h0M999 981h0M1006 926h0M849 976h0M1019 1024h0M911 1028h0M1044 955h0M767 972h0M937 907h0M1003 1032h0M1019 959h0M888 968h0M914 986h0M857 908h0M999 915h0M814 978h0M916 968h0M844 904h0M824 1003h0M809 904h0M788 991h0M798 963h0M859 937h0M916 891h0M882 885h0M903 886h0M998 1013h0M844 909h0M845 893h0M803 901h0M1009 925h0M876 1009h0M910 887h0M843 971h0M982 898h0M783 991h0M770 1021h0M880 952h0M1041 981h0M983 947h0M965 998h0M795 945h0M956 914h0M735 897h0M917 962h0M970 949h0M806 986h0M914 943h0M936 914h0M1033 899h0M752 892h0M888 908h0M866 952h0M803 916h0M929 919h0M957 897h0M966 922h0M892 910h0M922 899h0M986 926h0M848 993h0M894 918h0M840 885h0M989 962h0M962 985h0M858 937h0M928 909h0M963 1002h0M1009 920h0M935 866h0M882 876h0M992 885h0M884 967h0M815 914h0M1025 896h0M1033 981h0M877 1005h0M860 985h0M849 1016h0M990 944h0M753 884h0M996 955h0M983 952h0M959 888h0M979 907h0M834 901h0M906 960h0M1042 975h0M967 913h0M870 989h0M827 981h0M885 892h0M1037 946h0M998 870h0M878 1030h0M1043 925h0M982 917h0M780 877h0M981 1004h0M770 977h0M926 1025h0M1023 884h0M1038 889h0M1044 935h0M888 979h0M855 976h0M1038 928h0M796 981h0M1021 984h0M812 974h0M778 922h0M833 939h0M810 899h0M947 931h0M915 891h0M747 984h0M779 969h0M790 947h0M844 1010h0M843 882h0M1045 957h0M835 909h0M763 976h0M944 1007h0M825 930h0M781 933h0M916 979h0M957 973h0" stroke="#56307a" stroke-opacity="0.5" stroke-width="3.8" stroke-linecap="round"/><path d="M745 945h0M744 900h0M813 967h0M765 946h0M789 864h0M865 975h0M980 888h0M802 1013h0M843 954h0M813 899h0M928 965h0M963 877h0M917 963h0M820 991h0M854 910h0M915 957h0M961 888h0M899 981h0M812 880h0M899 865h0M763 878h0M767 979h0M936 1001h0M938 970h0M905 1014h0M1019 932h0M886 914h0M1005 981h0M901 878h0M738 968h0M773 972h0M997 956h0M758 992h0M861 954h0M762 927h0M815 914h0M879 920h0M959 866h0M958 885h0M966 979h0M913 884h0M924 976h0M895 997h0M1020 1021h0M907 943h0M937 977h0M838 911h0M1043 909h0M902 945h0M1008 896h0M1011 891h0M873 944h0M841 975h0M1002 943h0M995 961h0M952 920h0M899 981h0M1006 969h0M901 998h0M874 908h0M898 971h0M750 918h0M985 894h0M879 963h0M914 965h0M841 1009h0M1017 875h0M891 981h0M975 974h0M808 935h0M800 1008h0M952 1020h0M987 1008h0M894 930h0M907 994h0M873 948h0M997 971h0M951 941h0M878 900h0M998 899h0M757 889h0M792 941h0M846 966h0M939 902h0M965 903h0M814 891h0M899 890h0M1019 1004h0M1013 991h0M804 964h0M910 885h0M991 949h0M979 940h0M974 925h0M1035 911h0M1030 907h0M991 906h0M940 867h0M939 869h0M1009 912h0M788 999h0M1003 973h0M1035 907h0M899 934h0M933 937h0M943 993h0M941 942h0M998 865h0M882 957h0M801 879h0M767 961h0M811 1010h0M975 875h0M982 885h0M882 957h0M922 982h0M884 914h0M943 960h0M936 961h0M1019 921h0M879 878h0M853 864h0M1013 907h0M842 998h0M1001 957h0M861 931h0M745 983h0M882 966h0M906 876h0M993 950h0M799 878h0M994 947h0M875 899h0M875 957h0M987 895h0M815 910h0M873 942h0M991 959h0M997 1025h0M1039 960h0M832 918h0M1020 951h0M1033 972h0M933 911h0M1015 1005h0M763 877h0M988 895h0M804 898h0M794 1027h0M1002 984h0M784 999h0M938 932h0M828 944h0M991 943h0M823 1004h0M896 933h0M890 990h0M919 978h0M866 870h0M867 909h0M960 871h0M1011 970h0M852 915h0M850 979h0M970 1011h0M820 987h0M1041 967h0M860 942h0M959 960h0M956 1028h0M1025 991h0M753 1006h0M736 1021h0M877 959h0M826 1002h0M822 949h0M758 986h0M982 1003h0M839 877h0M808 867h0M781 939h0M934 941h0M805 1031h0M778 966h0M878 908h0M922 996h0M1007 978h0M914 898h0M761 973h0M748 945h0M853 978h0M800 887h0M1038 965h0M796 950h0M1037 962h0M738 903h0M947 946h0M842 950h0M859 987h0M936 913h0M865 979h0M944 959h0M905 880h0M925 973h0M950 882h0M942 879h0M766 905h0M829 877h0M876 962h0M941 1011h0M848 894h0M875 939h0M829 1031h0M1040 922h0M788 933h0M764 907h0M945 884h0M800 909h0M989 887h0M744 988h0M865 883h0M1008 994h0M856 923h0M811 981h0M974 870h0M853 928h0M1030 1029h0M802 958h0M1022 984h0M972 995h0M903 1026h0M851 986h0M896 947h0M816 943h0M951 1027h0M916 911h0M1002 907h0M950 1001h0M925 920h0M865 931h0M817 978h0M810 878h0M906 948h0M984 883h0M1014 876h0M1013 988h0M946 942h0M786 1003h0M742 973h0M739 967h0M922 887h0M744 979h0M989 1010h0M999 872h0M974 1022h0M780 973h0M936 928h0M900 947h0M1008 913h0M967 878h0M1014 978h0M992 969h0M943 989h0M914 900h0M987 878h0M839 1026h0M1008 970h0M876 1018h0M847 983h0M880 969h0M1035 978h0M753 998h0M808 1029h0M1016 940h0" stroke="#56307a" stroke-opacity="0.62" stroke-width="3.8" stroke-linecap="round"/><path d="M1018 906h0M954 1007h0M834 1033h0M984 994h0M917 970h0M943 940h0M824 863h0M1012 933h0M991 886h0M846 971h0M808 914h0M832 944h0M880 964h0M946 1016h0M1023 997h0M867 895h0M766 997h0M883 891h0M868 883h0M997 973h0M927 915h0M791 1000h0M828 911h0M922 970h0M954 943h0M801 993h0M955 949h0M861 976h0M1028 942h0M842 1011h0M795 882h0M916 892h0M990 924h0M1024 895h0M812 922h0M889 891h0M740 903h0M962 904h0M857 900h0M948 892h0M880 973h0M989 1012h0M803 957h0M894 938h0M790 998h0M1024 932h0M822 939h0M877 1017h0M865 882h0M1040 955h0M841 910h0M1026 999h0M847 920h0M759 961h0M928 972h0M821 879h0M760 877h0M1018 941h0M1046 873h0M741 979h0M1044 872h0M770 881h0M869 927h0M934 912h0M965 900h0M947 895h0M1026 889h0M1029 948h0M854 911h0M1014 915h0M811 874h0M899 918h0M946 993h0M1027 1005h0M848 923h0M786 872h0M895 1023h0M1014 937h0M933 986h0M965 895h0M755 921h0M763 893h0M861 925h0M801 894h0M1021 1006h0M996 985h0M774 911h0M1020 999h0M879 923h0M906 964h0M1003 981h0M989 892h0M856 895h0M802 889h0M941 997h0M937 941h0M817 989h0M1007 977h0M924 905h0M914 938h0M898 980h0M828 926h0M932 932h0M899 988h0M925 972h0M827 989h0M956 934h0M904 1004h0M899 915h0M970 912h0M748 963h0M1017 988h0M1013 939h0M978 921h0M757 1000h0M970 946h0M960 1018h0M823 923h0M769 971h0M766 903h0M1014 874h0M901 980h0M960 1002h0M984 947h0M904 1001h0M859 963h0M907 883h0M780 985h0M913 930h0M913 898h0M904 877h0M855 926h0M926 864h0M935 987h0M933 1028h0M939 996h0M1044 973h0M1004 908h0M1026 902h0M995 1030h0M947 889h0M1047 938h0M824 953h0M854 914h0M830 932h0M856 919h0M922 898h0M813 939h0M826 907h0M900 887h0M907 879h0M878 936h0M1022 943h0M838 948h0M799 945h0M947 1016h0M771 907h0M916 908h0M864 1021h0M882 978h0M737 1030h0M776 908h0M1018 936h0M772 914h0M777 891h0M951 889h0M839 948h0M1028 980h0M1038 909h0M816 894h0M894 967h0M834 941h0M875 968h0M956 908h0M910 898h0M940 870h0M799 963h0M831 947h0M940 948h0M994 960h0M935 1021h0M1022 960h0M805 945h0M912 878h0M784 980h0M870 1022h0M1012 919h0M780 903h0M738 914h0M881 871h0M1004 885h0M914 949h0M832 862h0M863 883h0M867 937h0M1004 981h0M745 920h0M1034 870h0M809 996h0M966 1033h0M966 934h0M767 950h0M981 954h0M864 958h0M899 995h0M848 960h0M872 1014h0M863 1029h0M989 869h0M966 916h0M813 899h0M867 924h0M759 959h0M1019 951h0M784 931h0M749 921h0M996 892h0M812 918h0M749 901h0M889 963h0M806 973h0M894 924h0M902 922h0M815 1030h0M803 939h0M782 929h0M919 924h0M990 881h0M743 917h0M783 870h0M929 926h0M930 985h0M797 959h0M1031 975h0M775 989h0M1024 950h0M830 921h0M977 977h0M803 911h0M780 910h0M1034 951h0M915 947h0M786 1004h0M874 992h0M878 1011h0M1011 887h0M873 978h0M808 977h0M905 947h0M1004 969h0M959 942h0M923 985h0M851 885h0M1025 894h0M837 1009h0M1033 862h0M757 957h0M994 900h0M1022 927h0M993 992h0M844 1018h0M800 988h0M764 893h0M965 968h0M790 936h0M838 892h0" stroke="#56307a" stroke-opacity="0.74" stroke-width="3.8" stroke-linecap="round"/><path d="M1017 562h0M977 519h0M767 731h0M877 597h0M749 832h0M800 785h0M813 557h0M982 757h0M959 704h0M744 824h0M1041 747h0M778 549h0M775 691h0M791 689h0M894 658h0M973 524h0M1042 764h0M950 737h0M759 592h0M914 538h0M998 641h0M865 708h0M845 497h0M772 602h0M834 696h0M763 782h0M767 805h0M754 682h0M739 543h0M850 797h0M797 831h0M751 653h0M932 858h0M851 590h0M1028 711h0M922 651h0M791 575h0M929 736h0M864 853h0M820 730h0M968 523h0M896 693h0M845 606h0M897 545h0M945 651h0M968 527h0M1032 791h0M1002 855h0M986 495h0M959 505h0M895 574h0M759 826h0M737 544h0M985 695h0M883 598h0M1035 632h0M842 730h0M778 751h0M854 718h0M862 829h0M865 519h0M841 834h0M972 493h0M745 607h0M742 734h0M1041 793h0M784 623h0M794 656h0M985 636h0M809 730h0M1013 720h0M922 838h0M1011 692h0M814 703h0M756 774h0M852 660h0M877 679h0M880 645h0M960 536h0M797 820h0M764 609h0M1020 663h0M923 679h0M841 620h0M760 579h0M982 555h0M938 531h0M782 722h0M1035 808h0M1003 620h0M907 643h0M973 730h0M881 597h0M762 681h0M778 716h0M967 630h0M984 596h0M852 664h0M1028 532h0M804 567h0M883 677h0M852 626h0M764 705h0M965 505h0M814 853h0M903 791h0M896 688h0M805 850h0M891 793h0M800 545h0M832 836h0M791 786h0M795 707h0M891 528h0M947 693h0M784 510h0M743 561h0M844 620h0M821 651h0M884 565h0M851 663h0M749 718h0M1041 810h0M775 614h0M834 647h0M836 498h0M1039 700h0M950 774h0M983 693h0M769 759h0M986 499h0M995 588h0M857 602h0M895 528h0M735 495h0M1021 581h0M941 583h0M752 671h0M786 498h0M1039 555h0M1034 654h0M923 835h0M822 782h0M760 522h0M892 728h0M762 535h0M856 584h0M963 781h0M802 742h0M1037 556h0M896 770h0M821 538h0M789 757h0M921 546h0M778 716h0M978 775h0M1031 529h0M745 724h0M874 785h0M922 735h0M1028 523h0M776 751h0M979 704h0M853 644h0M877 495h0M914 606h0M936 676h0M886 525h0M946 804h0M845 731h0M851 644h0M988 677h0M850 590h0M855 591h0M865 609h0M769 669h0M766 520h0M938 839h0M739 858h0M789 547h0M898 507h0M745 829h0M1041 590h0M1013 753h0M1031 493h0M983 548h0M864 665h0M917 820h0M988 826h0M948 606h0M936 724h0M793 627h0M1023 731h0M853 818h0M964 736h0M1035 845h0M884 753h0M748 642h0M883 579h0M884 812h0M847 707h0M987 850h0M1011 668h0M851 554h0M762 834h0M991 511h0M901 490h0M831 544h0M849 736h0M803 857h0M863 823h0M749 638h0M876 857h0M835 711h0M876 608h0M902 499h0M1031 844h0M828 541h0M920 593h0M791 597h0M943 504h0M875 621h0M781 590h0M917 662h0M789 501h0M808 755h0M791 786h0M991 682h0M792 589h0M980 535h0M928 741h0M1038 797h0M875 509h0M985 853h0M1008 858h0M813 680h0M763 766h0M991 660h0M947 731h0M756 674h0M849 748h0M781 629h0M889 571h0M870 505h0M1035 821h0M777 510h0M898 787h0M806 568h0M1022 789h0M1015 788h0M785 734h0" stroke="#6a3468" stroke-opacity="0.38" stroke-width="2.3" stroke-linecap="round"/><path d="M794 847h0M886 492h0M996 750h0M822 719h0M1025 685h0M982 503h0M858 504h0M902 503h0M1036 625h0M953 500h0M973 616h0M967 512h0M1043 493h0M920 743h0M972 840h0M795 571h0M849 820h0M828 545h0M820 805h0M1044 555h0M976 593h0M849 847h0M740 652h0M998 650h0M868 740h0M1003 688h0M976 789h0M852 561h0M1033 820h0M995 706h0M904 562h0M858 794h0M917 644h0M791 720h0M749 852h0M1039 828h0M808 773h0M746 675h0M868 672h0M1025 589h0M963 710h0M1028 531h0M800 846h0M1026 640h0M846 688h0M887 491h0M831 674h0M782 550h0M955 539h0M804 704h0M1009 842h0M780 629h0M771 807h0M921 792h0M935 722h0M1030 687h0M988 788h0M1046 749h0M791 636h0M956 769h0M870 854h0M896 617h0M815 772h0M900 828h0M885 854h0M915 516h0M821 767h0M793 666h0M836 806h0M864 607h0M1011 625h0M1010 837h0M893 624h0M1029 544h0M761 781h0M810 834h0M989 844h0M814 514h0M792 504h0M1019 545h0M1003 789h0M788 778h0M750 597h0M900 628h0M929 565h0M827 788h0M897 786h0M798 595h0M840 772h0M980 722h0M825 722h0M872 671h0M879 573h0M1042 603h0M847 736h0M927 497h0M896 735h0M791 831h0M977 845h0M1010 835h0M907 733h0M822 737h0M881 646h0M1046 504h0M946 678h0M886 606h0M830 783h0M855 668h0M767 675h0M887 656h0M841 511h0M896 831h0M754 576h0M1045 800h0M788 664h0M980 665h0M914 854h0M883 845h0M1002 534h0M1024 802h0M985 825h0M817 752h0M1005 672h0M981 538h0M882 857h0M926 854h0M997 490h0M998 738h0M1015 744h0M873 825h0M746 842h0M936 704h0M930 812h0M1020 743h0M940 690h0M1016 761h0M882 564h0M864 524h0M750 550h0M936 823h0M1033 788h0M980 761h0M991 656h0M1021 621h0M833 624h0M806 615h0M1024 646h0M1025 632h0M1005 694h0M857 570h0M864 686h0M900 854h0M1014 605h0M759 748h0M908 653h0M918 661h0M778 542h0M860 673h0M848 549h0M812 860h0M1018 759h0M1007 491h0M1005 507h0M777 717h0M929 505h0M800 642h0M921 585h0M945 565h0M943 513h0M949 624h0M861 692h0M936 812h0M1000 681h0M1015 781h0M788 543h0M1044 755h0M906 846h0M757 757h0M970 784h0M1014 621h0M868 498h0M845 628h0M744 523h0M891 769h0M882 668h0M766 854h0M838 795h0M777 696h0M1041 679h0M898 769h0M844 680h0M773 521h0M981 818h0M895 751h0M868 811h0M883 703h0M1035 764h0M980 685h0M1018 810h0M1026 516h0M758 719h0M1023 508h0M854 722h0M878 856h0M991 644h0M1046 857h0M1044 695h0M761 645h0M1038 490h0M982 697h0M751 719h0M841 669h0M742 695h0M768 821h0M910 639h0M838 745h0M938 797h0M766 715h0M864 502h0M764 597h0M763 604h0M1023 699h0M786 547h0M801 608h0M760 828h0M1007 524h0M817 821h0M827 772h0M877 755h0M962 511h0M752 623h0M890 491h0M807 751h0M853 622h0M892 857h0M784 525h0M802 507h0M1036 787h0M830 811h0M816 821h0M754 854h0M972 799h0M936 558h0M890 507h0M812 730h0M1005 828h0M816 519h0M816 502h0M856 801h0M927 542h0M943 617h0M756 532h0M889 851h0M937 505h0M961 783h0M848 675h0" stroke="#6a3468" stroke-opacity="0.52" stroke-width="2.3" stroke-linecap="round"/><path d="M794 506h0M1041 614h0M951 744h0M917 558h0M851 671h0M802 579h0M808 778h0M767 828h0M773 563h0M858 854h0M826 514h0M849 594h0M735 719h0M864 700h0M744 672h0M1010 584h0M913 622h0M760 633h0M820 746h0M800 860h0M1026 770h0M826 774h0M778 642h0M740 699h0M926 585h0M800 804h0M1043 829h0M886 522h0M789 824h0M964 497h0M994 505h0M879 593h0M911 698h0M890 729h0M809 518h0M924 828h0M751 597h0M764 645h0M1020 838h0M889 858h0M938 692h0M1023 573h0M1030 623h0M992 722h0M1011 686h0M975 783h0M811 562h0M911 572h0M844 543h0M824 493h0M784 520h0M834 775h0M781 688h0M877 708h0M803 555h0M901 752h0M853 766h0M858 836h0M736 750h0M978 610h0M847 806h0M897 628h0M990 523h0M749 565h0M745 810h0M990 617h0M784 694h0M956 812h0M903 563h0M1035 673h0M803 723h0M819 539h0M951 514h0M785 548h0M735 577h0M1038 565h0M848 842h0M978 740h0M1045 709h0M744 515h0M876 776h0M795 645h0M864 521h0M764 811h0M756 684h0M849 516h0M780 725h0M947 663h0M958 600h0M902 856h0M843 498h0M800 695h0M932 827h0M835 589h0M811 496h0M965 810h0M879 857h0M894 741h0M829 802h0M798 760h0M783 611h0M801 504h0M1002 802h0M794 628h0M915 738h0M915 662h0M789 738h0M816 753h0M979 624h0M997 603h0M989 578h0M755 836h0M872 806h0M950 822h0M920 636h0M894 599h0M872 807h0M884 643h0M994 709h0M795 743h0M744 775h0M814 660h0M977 749h0M798 757h0M928 569h0M743 843h0M747 578h0M924 840h0M824 744h0M736 522h0M876 616h0M822 616h0M995 605h0M903 752h0M1019 739h0M1026 752h0M769 511h0M745 715h0M960 760h0M1038 845h0M771 808h0M821 709h0M919 574h0M926 584h0M994 684h0M853 594h0M941 827h0M890 633h0M827 615h0M954 819h0M975 664h0M802 837h0M935 659h0M795 575h0M990 848h0M999 666h0M827 833h0M829 603h0M1011 715h0M972 493h0M819 745h0M953 593h0M861 575h0M805 612h0M859 688h0M963 595h0M738 726h0M983 757h0M925 493h0M810 639h0M1000 604h0M829 539h0M770 659h0M999 747h0M800 509h0M883 840h0M1030 641h0M864 803h0M1034 612h0M956 807h0M885 492h0M839 611h0M1032 716h0M1021 796h0M969 674h0M1019 511h0M1037 709h0M979 525h0M838 509h0M868 655h0M1019 523h0M852 787h0M864 580h0M1030 746h0M901 711h0M894 812h0M963 546h0M800 505h0M880 814h0M871 764h0M1002 753h0M1016 777h0M831 824h0M767 802h0M848 674h0M767 493h0M808 588h0M1019 560h0M962 785h0M1009 679h0M1015 859h0M954 717h0M833 730h0M839 535h0M811 621h0M930 638h0M1037 848h0M925 551h0M837 742h0M1006 719h0M825 698h0M836 519h0M996 675h0M928 494h0M818 534h0M736 551h0M1002 729h0M913 809h0M932 545h0M938 798h0M851 798h0M989 494h0M940 646h0M1004 855h0M981 515h0M1034 561h0M912 664h0M964 643h0M997 599h0M956 522h0M984 646h0M954 494h0M873 577h0M787 599h0M819 717h0M883 513h0M791 680h0M974 773h0M1016 795h0M764 642h0M1004 641h0M931 825h0M880 611h0M848 768h0M955 739h0M797 857h0M919 585h0M797 794h0M897 711h0M756 827h0M874 523h0M1033 518h0M798 656h0M956 751h0M931 585h0M942 656h0M878 519h0M755 771h0M807 662h0M824 726h0M933 676h0M849 572h0M809 797h0M1009 749h0M868 685h0M754 798h0M886 843h0M765 738h0M793 664h0" stroke="#6a3468" stroke-opacity="0.66" stroke-width="2.3" stroke-linecap="round"/><path d="M892 759h0M1010 534h0M1044 599h0M838 624h0M755 619h0M817 802h0M839 853h0M844 637h0M1008 844h0M828 852h0M969 677h0M1042 771h0M898 677h0M902 599h0M1039 759h0M901 742h0M911 540h0M763 742h0M960 494h0M1031 854h0M990 530h0M839 589h0M864 750h0M918 842h0M772 769h0M966 798h0M958 802h0M1026 622h0M787 630h0M1045 647h0M790 822h0M989 520h0M862 696h0M885 693h0M1004 568h0M1041 594h0M851 640h0M755 850h0M896 584h0M746 566h0M897 500h0M1021 798h0M933 832h0M805 592h0M952 854h0M912 859h0M930 841h0M817 668h0M791 534h0M812 611h0M1015 495h0M1010 583h0M1025 793h0M955 832h0M771 763h0M985 550h0M1007 514h0M813 747h0M777 695h0M761 529h0M998 535h0M948 634h0M915 518h0M1029 622h0M752 555h0M849 716h0M935 669h0M950 691h0M783 725h0M998 852h0M785 748h0M761 651h0M998 770h0M983 735h0M890 786h0M966 764h0M863 527h0M1030 553h0M889 622h0M915 542h0M899 590h0M810 628h0M917 617h0M838 603h0M810 707h0M996 574h0M1031 511h0M843 555h0M740 686h0M990 573h0M894 663h0M781 524h0M993 539h0M768 673h0M1014 526h0M874 613h0M918 624h0M975 656h0M830 692h0M813 801h0M892 719h0M772 678h0M884 707h0M933 754h0M906 627h0M736 581h0M1005 653h0M843 800h0M1003 644h0M886 594h0M738 757h0M745 697h0M1033 736h0M749 806h0M755 832h0M799 705h0M814 492h0M879 765h0M746 562h0M968 823h0M789 767h0M856 608h0M897 588h0M829 673h0M1017 839h0M1004 777h0M980 852h0M1032 554h0M920 834h0M853 708h0M856 588h0M751 682h0M914 809h0M1021 560h0M875 595h0M1046 850h0M802 562h0M794 641h0M883 712h0M854 746h0M960 553h0M810 561h0M1001 566h0M870 740h0M868 755h0M845 524h0M947 498h0M808 848h0M1038 541h0M811 838h0M934 698h0M930 766h0M827 501h0M1022 600h0M951 726h0M888 597h0M768 604h0M846 511h0M885 694h0M866 733h0M945 533h0M873 610h0M832 638h0M1017 799h0M877 586h0M770 702h0M1004 631h0M798 568h0M1042 707h0M1022 573h0M1035 568h0M966 737h0M994 704h0M765 691h0M960 684h0M942 828h0M1020 841h0M798 815h0M872 515h0M841 547h0M879 603h0M770 565h0M767 498h0M998 783h0M861 794h0M826 816h0M983 603h0M758 801h0M824 537h0M920 755h0M863 859h0M924 529h0M1030 510h0M869 523h0M739 516h0M813 771h0M1034 619h0M746 695h0M795 829h0M870 675h0M837 829h0M779 623h0M755 724h0M948 532h0M863 830h0M942 586h0M736 582h0M801 502h0M789 525h0M1010 826h0M1011 834h0M838 646h0M923 839h0M971 682h0M972 631h0M826 607h0M739 557h0M747 759h0M993 628h0M824 818h0M817 602h0M908 812h0M1046 735h0M860 522h0M1003 639h0M783 566h0M893 662h0M808 570h0M928 757h0M808 776h0M852 656h0M905 689h0M944 740h0M795 495h0M797 702h0M844 694h0M968 621h0M969 829h0" stroke="#6a3468" stroke-opacity="0.38" stroke-width="2.8" stroke-linecap="round"/><path d="M796 599h0M892 614h0M782 752h0M893 733h0M1045 851h0M800 595h0M943 719h0M755 802h0M1046 705h0M752 667h0M986 630h0M847 711h0M1021 807h0M959 681h0M911 504h0M1006 737h0M1019 667h0M761 715h0M772 492h0M923 670h0M929 780h0M841 809h0M748 504h0M928 691h0M790 544h0M904 773h0M878 665h0M817 551h0M1004 549h0M743 803h0M958 754h0M814 760h0M839 544h0M829 687h0M914 609h0M879 686h0M737 540h0M1043 840h0M801 594h0M1001 559h0M735 515h0M998 536h0M888 578h0M895 640h0M988 749h0M960 535h0M992 667h0M1042 751h0M750 505h0M901 761h0M807 503h0M766 705h0M888 505h0M750 801h0M996 791h0M842 853h0M805 540h0M909 757h0M770 703h0M962 624h0M926 844h0M908 806h0M1022 500h0M976 855h0M738 790h0M847 593h0M802 567h0M791 516h0M774 772h0M852 498h0M988 668h0M753 767h0M800 701h0M962 539h0M963 813h0M808 571h0M822 726h0M846 561h0M998 544h0M827 819h0M1024 623h0M963 724h0M973 849h0M934 497h0M978 627h0M839 504h0M829 675h0M745 524h0M741 622h0M806 718h0M906 666h0M1042 625h0M1016 819h0M908 616h0M825 629h0M1045 493h0M737 537h0M976 491h0M1014 497h0M979 623h0M746 850h0M762 630h0M1036 641h0M943 779h0M881 832h0M918 751h0M946 545h0M822 513h0M961 750h0M806 676h0M975 799h0M928 493h0M763 765h0M813 604h0M965 703h0M1013 802h0M1035 839h0M736 594h0M872 755h0M806 600h0M843 536h0M779 683h0M867 602h0M925 779h0M967 542h0M878 832h0M958 786h0M1038 850h0M746 675h0M957 506h0M974 608h0M867 857h0M788 751h0M764 507h0M796 729h0M992 826h0M940 787h0M939 494h0M994 829h0M872 779h0M966 608h0M807 716h0M1031 684h0M1047 649h0M846 813h0M1032 831h0M1028 807h0M992 648h0M810 785h0M876 608h0M1020 580h0M856 618h0M979 622h0M810 770h0M850 565h0M996 846h0M792 597h0M868 493h0M1014 831h0M799 567h0M856 530h0M769 726h0M794 651h0M780 669h0M752 661h0M877 740h0M744 496h0M910 830h0M1007 772h0M991 740h0M813 527h0M995 577h0M736 732h0M900 701h0M848 775h0M741 830h0M906 718h0M980 725h0M798 557h0M1046 515h0M951 562h0M856 559h0M925 692h0M1007 776h0M749 741h0M999 675h0M739 591h0M822 821h0M1019 709h0M808 812h0M998 668h0M942 795h0M840 711h0M770 655h0M780 742h0M758 506h0M782 693h0M1025 644h0M781 688h0M878 762h0M1005 570h0M976 516h0M940 847h0M846 691h0M1018 549h0M805 563h0M1000 629h0M928 808h0M1000 581h0M802 807h0M945 564h0M968 842h0M783 715h0M965 592h0M832 845h0M839 513h0M842 823h0M823 720h0M975 656h0M872 503h0M957 645h0M878 849h0M1024 823h0M844 500h0M854 692h0M848 850h0M926 580h0M973 580h0M942 508h0M893 539h0M1028 677h0M1011 613h0M889 575h0M802 550h0M958 764h0M1008 743h0M924 685h0M950 848h0M758 714h0M853 503h0M898 627h0M1033 834h0M997 720h0M1032 736h0M782 497h0M1006 607h0M792 794h0M909 638h0M995 573h0M986 651h0M1037 782h0M798 672h0M796 650h0M761 516h0M899 835h0M777 644h0M807 684h0M977 665h0M817 504h0M736 781h0M879 771h0M923 654h0M907 578h0" stroke="#6a3468" stroke-opacity="0.52" stroke-width="2.8" stroke-linecap="round"/><path d="M838 544h0M962 518h0M896 733h0M815 617h0M911 656h0M828 564h0M798 778h0M868 611h0M837 514h0M944 637h0M749 627h0M970 741h0M754 801h0M865 676h0M944 853h0M853 526h0M850 782h0M993 708h0M927 795h0M919 518h0M845 742h0M983 696h0M923 504h0M926 660h0M956 697h0M849 625h0M951 593h0M874 686h0M1010 834h0M980 860h0M891 804h0M849 531h0M822 555h0M849 821h0M936 757h0M781 743h0M978 780h0M841 586h0M932 765h0M935 834h0M806 694h0M969 618h0M994 554h0M778 508h0M805 557h0M796 758h0M740 737h0M844 713h0M982 751h0M1013 565h0M898 752h0M795 745h0M762 757h0M774 592h0M968 771h0M848 773h0M830 804h0M915 599h0M970 619h0M800 816h0M1041 699h0M807 532h0M1021 504h0M813 843h0M775 828h0M848 858h0M817 608h0M861 705h0M774 630h0M936 528h0M842 512h0M1036 649h0M826 509h0M921 843h0M886 852h0M760 702h0M958 551h0M914 533h0M985 508h0M850 776h0M837 507h0M992 505h0M1041 840h0M1003 822h0M1040 669h0M930 603h0M1044 632h0M1025 752h0M809 852h0M989 630h0M747 703h0M829 632h0M749 665h0M972 719h0M753 827h0M975 568h0M845 713h0M790 497h0M766 599h0M758 776h0M894 620h0M879 656h0M856 531h0M859 859h0M1011 595h0M765 807h0M828 528h0M757 792h0M765 589h0M755 681h0M744 758h0M739 721h0M821 653h0M980 497h0M768 763h0M1036 812h0M815 523h0M927 769h0M835 766h0M945 839h0M821 786h0M1037 705h0M771 756h0M865 798h0M1002 503h0M760 698h0M1044 642h0M931 571h0M817 799h0M926 817h0M1002 596h0M929 572h0M830 520h0M770 535h0M1012 536h0M998 615h0M735 853h0M779 584h0M968 816h0M918 546h0M935 665h0M822 580h0M762 800h0M778 847h0M813 785h0M773 623h0M790 583h0M804 765h0M1043 572h0M1044 715h0M800 641h0M932 505h0M956 670h0M851 517h0M1045 719h0M815 500h0M804 713h0M1018 860h0M928 822h0M808 585h0M822 744h0M947 851h0M876 698h0M968 609h0M935 602h0M756 688h0M787 737h0M808 558h0M945 653h0M768 703h0M1028 772h0M998 785h0M1031 557h0M762 595h0M849 743h0M956 681h0M954 821h0M981 583h0M951 712h0M834 786h0M837 728h0M838 856h0M790 858h0M818 798h0M1018 730h0M1032 694h0M946 541h0M742 844h0M918 756h0M1045 679h0M1034 852h0M954 709h0M737 500h0M757 564h0M1040 819h0M800 603h0M957 791h0M885 505h0M904 619h0M890 689h0M936 780h0M813 628h0M795 833h0M1034 726h0M736 770h0M820 772h0M876 536h0M942 572h0M976 803h0M950 725h0M873 622h0M893 594h0M819 528h0M931 849h0M919 604h0M931 747h0M912 677h0M860 565h0M1038 617h0M868 496h0M805 720h0M936 758h0M883 590h0M746 670h0M875 616h0M921 670h0M954 503h0M769 810h0M859 842h0M1034 555h0M873 534h0M960 506h0M959 506h0M895 565h0M901 793h0M759 742h0M800 546h0M782 745h0M775 725h0M925 786h0M885 780h0M1014 643h0M877 548h0M1014 602h0M927 792h0M1006 608h0M993 787h0M758 545h0M754 611h0M931 634h0M948 646h0M917 698h0M963 792h0" stroke="#6a3468" stroke-opacity="0.66" stroke-width="2.8" stroke-linecap="round"/><path d="M740 705h0M921 542h0M819 667h0M846 769h0M847 816h0M994 792h0M1006 834h0M789 515h0M961 801h0M822 785h0M982 713h0M973 508h0M851 567h0M1044 781h0M1002 597h0M992 577h0M823 723h0M951 628h0M929 605h0M887 538h0M825 801h0M832 826h0M919 626h0M949 776h0M906 761h0M1041 813h0M899 619h0M910 651h0M959 692h0M872 652h0M924 647h0M952 725h0M944 552h0M835 549h0M920 853h0M810 709h0M1003 833h0M843 545h0M796 825h0M1009 610h0M818 787h0M1039 796h0M949 695h0M903 850h0M886 738h0M873 582h0M964 804h0M882 561h0M957 674h0M972 793h0M773 635h0M923 517h0M744 665h0M759 644h0M794 662h0M1015 740h0M806 543h0M867 547h0M850 621h0M847 633h0M869 823h0M767 667h0M866 632h0M883 621h0M745 768h0M796 571h0M857 569h0M932 753h0M986 595h0M866 739h0M831 735h0M905 618h0M834 551h0M1037 860h0M897 591h0M1003 508h0M1000 679h0M882 585h0M1035 644h0M861 611h0M920 781h0M844 695h0M902 785h0M1005 769h0M769 777h0M839 503h0M872 743h0M769 813h0M834 580h0M768 556h0M884 551h0M1010 689h0M799 559h0M1021 785h0M767 708h0M1025 858h0M913 573h0M847 855h0M906 580h0M1029 758h0M1016 850h0M925 734h0M798 739h0M1039 540h0M815 816h0M994 503h0M930 503h0M845 625h0M899 573h0M924 633h0M838 656h0M927 790h0M786 852h0M767 642h0M796 833h0M784 774h0M1027 550h0M767 742h0M839 664h0M1002 743h0M811 712h0M990 559h0M963 636h0M882 676h0M797 726h0M807 716h0M919 497h0M1011 628h0M982 846h0M904 554h0M968 634h0M789 710h0M893 741h0M776 629h0M943 830h0M934 565h0M783 574h0M1039 560h0M981 589h0M1026 721h0M744 836h0M1022 836h0M1024 751h0M1033 803h0M937 804h0M975 662h0M852 533h0M1033 839h0M1001 692h0M829 585h0M916 610h0M910 745h0M1044 564h0M858 804h0M852 709h0M1024 791h0M964 494h0M886 582h0M775 657h0M836 707h0M767 783h0M904 495h0M795 626h0M1046 761h0M824 682h0M919 705h0M893 693h0M781 547h0M1003 682h0M938 728h0M920 551h0M1041 840h0M780 664h0M951 500h0M861 519h0M781 755h0M977 599h0M997 678h0M798 672h0M778 559h0M848 527h0M1002 600h0M1031 823h0M785 510h0M782 506h0M781 493h0M897 503h0M820 831h0M800 503h0M917 574h0M832 746h0M842 629h0M988 672h0M1044 818h0M876 757h0M769 658h0M905 753h0M863 496h0M854 618h0M959 738h0M790 661h0M943 624h0M875 757h0M1019 646h0M1044 606h0M984 650h0M867 779h0M901 492h0M803 822h0M988 720h0M918 665h0M872 586h0M843 600h0M1004 549h0M741 634h0M876 690h0M739 842h0M959 809h0M961 794h0M1009 732h0M920 500h0M908 525h0M806 539h0M794 632h0M829 851h0M863 617h0M1021 724h0M840 825h0M884 545h0M826 539h0M763 708h0M940 776h0M1038 525h0M735 605h0M903 507h0M906 699h0M936 614h0M990 559h0M985 574h0M767 752h0M986 612h0M783 849h0M877 615h0M989 714h0M1041 552h0M1001 653h0M877 634h0M874 704h0M913 688h0M905 783h0M899 505h0M786 500h0M804 618h0M985 785h0M783 526h0M954 521h0M995 667h0M823 774h0M959 755h0M832 563h0M736 744h0M884 624h0M1022 493h0M829 819h0M929 624h0M787 778h0M993 694h0" stroke="#6a3468" stroke-opacity="0.38" stroke-width="3.4" stroke-linecap="round"/><path d="M939 766h0M868 771h0M944 499h0M772 567h0M849 518h0M840 579h0M793 580h0M999 661h0M742 822h0M742 547h0M837 732h0M756 543h0M1032 690h0M764 844h0M842 793h0M968 755h0M818 773h0M908 500h0M863 841h0M933 496h0M963 792h0M826 603h0M1011 690h0M1002 711h0M820 532h0M800 583h0M888 582h0M967 716h0M795 597h0M981 738h0M776 724h0M951 733h0M1010 747h0M769 664h0M758 584h0M739 830h0M853 799h0M996 634h0M908 555h0M746 540h0M971 604h0M808 606h0M776 555h0M857 685h0M919 699h0M770 631h0M1011 497h0M957 615h0M810 612h0M756 815h0M876 801h0M746 620h0M870 801h0M835 667h0M944 496h0M919 812h0M790 844h0M1008 735h0M811 761h0M835 571h0M1006 698h0M945 605h0M754 595h0M878 815h0M955 508h0M929 767h0M804 658h0M880 590h0M985 729h0M991 742h0M962 661h0M1034 612h0M876 630h0M809 547h0M925 813h0M1002 659h0M872 525h0M1011 497h0M923 856h0M779 750h0M787 857h0M899 494h0M918 791h0M862 810h0M886 497h0M796 717h0M796 754h0M1031 554h0M1030 548h0M855 749h0M801 699h0M970 843h0M756 844h0M760 590h0M825 567h0M788 736h0M756 696h0M780 605h0M898 578h0M865 515h0M925 507h0M1012 844h0M948 734h0M961 625h0M876 591h0M836 811h0M743 507h0M809 694h0M837 836h0M756 768h0M961 732h0M816 715h0M808 815h0M1026 569h0M795 838h0M862 845h0M1024 645h0M976 526h0M982 734h0M798 716h0M972 537h0M855 815h0M783 797h0M855 717h0M797 499h0M790 498h0M742 537h0M1012 609h0M866 796h0M954 772h0M1004 612h0M1025 609h0M948 501h0M741 681h0M786 718h0M975 593h0M825 645h0M1011 719h0M766 666h0M747 626h0M1006 569h0M1023 664h0M782 493h0M854 814h0M858 647h0M978 812h0M986 502h0M924 639h0M846 578h0M994 757h0M748 630h0M743 622h0M829 776h0M931 611h0M938 540h0M1008 525h0M782 665h0M958 822h0M780 661h0M770 506h0M944 743h0M858 612h0M820 660h0M940 594h0M876 839h0M781 531h0M808 786h0M909 618h0M743 677h0M909 731h0M979 787h0M963 572h0M938 577h0M923 639h0M850 785h0M912 578h0M824 538h0M830 634h0M791 629h0M887 748h0M996 498h0M760 780h0M937 510h0M799 520h0M810 634h0M922 772h0M750 503h0M928 568h0M858 764h0M799 704h0M840 514h0M743 672h0M994 617h0M767 690h0M797 734h0M857 611h0M1025 628h0M957 731h0M851 729h0M907 739h0M870 854h0M849 588h0M1047 740h0M1007 799h0M1024 708h0M976 662h0M915 840h0M849 507h0M982 561h0M815 804h0M753 729h0M1022 656h0M951 702h0M897 767h0M797 605h0M997 744h0M860 702h0M818 764h0M887 720h0M823 848h0M808 654h0M924 762h0M845 831h0M751 596h0M977 776h0M894 809h0M797 798h0M756 548h0M763 566h0M826 541h0M827 696h0M893 627h0M809 756h0M891 710h0M792 502h0M919 684h0M859 505h0M997 727h0M975 841h0M1042 740h0M1044 752h0M810 579h0M1035 519h0M915 666h0M850 672h0M850 808h0M786 571h0M1008 701h0M787 663h0M814 673h0M928 492h0M953 594h0M928 526h0M784 692h0M770 854h0M988 851h0M1042 498h0M968 536h0M999 629h0M849 836h0M983 516h0M811 820h0M750 820h0M906 602h0M860 494h0M938 773h0M1011 633h0M926 683h0M898 620h0M971 851h0M1003 771h0M927 790h0M1041 701h0M878 788h0M898 837h0M761 786h0M1040 724h0M750 793h0M1001 841h0M963 840h0M948 531h0M823 711h0M823 583h0M1039 810h0M859 794h0M850 662h0M1013 728h0M935 772h0M817 726h0M968 700h0M804 740h0M892 769h0" stroke="#6a3468" stroke-opacity="0.52" stroke-width="3.4" stroke-linecap="round"/><path d="M923 631h0M1041 652h0M1026 840h0M884 558h0M964 504h0M952 535h0M832 554h0M846 745h0M975 699h0M768 854h0M760 493h0M852 795h0M1013 859h0M822 845h0M836 782h0M947 719h0M808 492h0M907 502h0M790 549h0M870 713h0M748 542h0M931 498h0M966 582h0M961 533h0M737 582h0M872 491h0M976 542h0M905 517h0M907 509h0M759 657h0M956 508h0M803 723h0M765 621h0M832 590h0M864 742h0M859 719h0M788 521h0M856 636h0M853 507h0M779 634h0M750 712h0M1024 546h0M795 652h0M868 672h0M798 687h0M1031 541h0M1008 817h0M923 719h0M935 700h0M960 495h0M1032 542h0M1040 580h0M983 757h0M795 697h0M942 838h0M818 523h0M1000 736h0M1018 550h0M879 762h0M937 770h0M789 835h0M873 805h0M945 853h0M840 834h0M870 857h0M973 542h0M832 828h0M872 811h0M1013 785h0M1036 623h0M1015 859h0M743 651h0M883 513h0M934 709h0M842 623h0M777 685h0M1039 594h0M978 824h0M966 789h0M967 836h0M838 791h0M802 599h0M805 826h0M745 810h0M800 708h0M800 664h0M743 568h0M997 576h0M926 751h0M762 791h0M936 812h0M957 754h0M739 825h0M771 600h0M958 856h0M870 800h0M897 677h0M801 812h0M814 553h0M963 513h0M992 665h0M910 838h0M822 737h0M874 832h0M981 798h0M758 558h0M844 678h0M771 545h0M982 506h0M795 543h0M839 610h0M870 764h0M874 692h0M809 566h0M925 716h0M809 751h0M949 801h0M985 849h0M782 622h0M849 643h0M891 841h0M913 773h0M897 531h0M908 647h0M1038 795h0M979 573h0M816 784h0M834 769h0M1028 737h0M913 648h0M959 815h0M809 600h0M898 658h0M885 546h0M778 773h0M942 514h0M989 822h0M1047 544h0M767 593h0M773 738h0M787 686h0M758 783h0M740 565h0M975 704h0M771 536h0M941 513h0M916 801h0M761 551h0M849 764h0M755 711h0M1003 751h0M1026 620h0M963 836h0M831 571h0M779 591h0M765 645h0M981 853h0M956 739h0M830 603h0M766 624h0M948 788h0M1012 650h0M830 764h0M906 771h0M785 616h0M977 612h0M964 599h0M770 748h0M859 852h0M809 534h0M794 615h0M739 783h0M810 582h0M959 530h0M988 499h0M768 689h0M828 507h0M920 792h0M783 769h0M741 642h0M779 610h0M770 853h0M972 786h0M1026 658h0M928 545h0M1039 695h0M946 719h0M903 725h0M1001 617h0M980 499h0M918 653h0M809 828h0M978 497h0M1017 490h0M756 568h0M839 784h0M798 799h0M996 822h0M914 621h0M994 664h0M899 528h0M913 708h0M933 741h0M739 788h0M782 548h0M909 742h0M871 579h0M752 540h0M967 794h0M761 508h0M777 561h0M1032 573h0M838 515h0M902 613h0M873 552h0M929 498h0M963 526h0M838 621h0M862 523h0M740 585h0M907 855h0M800 835h0M744 756h0M851 860h0M934 500h0M813 505h0M986 492h0M925 659h0M948 507h0M877 702h0M848 832h0M787 493h0M813 746h0M1010 803h0M896 801h0M975 599h0M841 677h0M792 850h0M928 839h0M871 848h0M1022 495h0M953 813h0M1020 523h0M856 504h0M909 699h0M942 632h0M1042 824h0M863 563h0M971 720h0M824 719h0M852 528h0M970 538h0M1003 679h0M868 724h0M774 579h0M865 766h0M1021 691h0M918 826h0M935 501h0M979 512h0M869 503h0M922 828h0M866 530h0M824 796h0M1005 574h0M837 642h0M886 649h0M898 595h0M850 542h0M911 774h0M835 555h0M784 517h0M778 531h0M817 759h0M844 637h0M809 725h0M812 584h0M850 529h0M815 644h0M842 759h0M854 719h0M754 675h0M762 833h0M861 847h0M839 753h0M904 746h0M932 683h0M981 549h0M998 724h0M1028 833h0M943 628h0M888 507h0M909 727h0M836 854h0" stroke="#6a3468" stroke-opacity="0.66" stroke-width="3.4" stroke-linecap="round"/></g><g filter="url(#soft2)"><path d="M822 734h0M896 723h0M774 691h0M897 761h0M761 774h0M757 667h0M804 677h0M777 761h0M781 638h0M849 742h0M916 765h0M940 790h0M850 755h0M954 782h0M928 755h0M868 690h0M820 737h0M917 706h0M752 641h0M791 679h0M835 764h0M935 790h0M900 718h0M838 713h0M759 642h0M932 820h0M950 799h0M773 632h0M989 817h0M780 740h0M738 692h0M925 781h0M825 740h0M819 678h0M755 685h0M988 713h0M1021 845h0M944 762h0M879 749h0M879 739h0M997 822h0M886 814h0M928 792h0M766 711h0M839 724h0M756 754h0M883 812h0M835 754h0M983 802h0M848 717h0M1000 749h0M911 707h0M808 761h0M757 648h0M957 808h0M928 882h0M774 661h0M981 792h0M771 651h0M851 740h0M896 834h0M768 633h0M996 790h0M957 747h0M867 772h0M908 778h0M801 675h0M777 730h0M876 764h0M938 812h0M918 744h0M842 747h0M942 900h0M962 838h0M798 681h0M955 860h0M764 743h0M754 681h0M948 769h0M783 685h0M766 707h0M755 666h0M998 799h0M893 749h0M984 924h0M971 770h0M852 725h0M759 707h0M924 742h0M868 690h0M947 827h0M940 764h0M944 842h0M860 733h0M931 794h0M961 808h0M1006 866h0M924 789h0M885 753h0M786 670h0M768 731h0M957 730h0M842 768h0M874 784h0M820 649h0M935 822h0M798 739h0M878 749h0M736 755h0M896 778h0M937 788h0M942 777h0M973 762h0M904 806h0M740 646h0M754 607h0M793 675h0M786 711h0M901 742h0M882 660h0M1007 878h0M902 754h0M935 809h0M869 767h0M958 808h0M978 795h0M782 764h0M799 677h0M1036 834h0M760 668h0M782 763h0M971 739h0M764 588h0M806 778h0M740 704h0M798 731h0M756 721h0M907 767h0M830 765h0M922 788h0M924 805h0M906 864h0M819 676h0M870 764h0M936 728h0M904 691h0M783 780h0M963 778h0M773 693h0M955 800h0M757 766h0M743 740h0M854 732h0M755 714h0M764 700h0M923 693h0M853 674h0M942 764h0M975 834h0M789 663h0M878 692h0M791 696h0M1022 787h0M847 758h0M849 743h0M821 701h0M1017 738h0M790 691h0M935 694h0M929 751h0M774 664h0M816 728h0M1020 768h0M905 712h0M977 802h0M896 788h0M754 661h0M836 748h0M889 765h0M925 828h0M895 740h0M771 728h0M768 811h0M833 743h0M975 775h0M777 590h0M766 624h0M928 795h0M884 703h0M975 830h0M792 742h0M989 898h0M985 764h0M891 729h0M762 644h0M877 725h0M909 781h0M836 741h0M893 755h0M960 773h0M911 796h0M803 689h0M933 870h0M805 638h0M799 678h0M876 764h0M782 751h0M802 704h0M741 665h0M748 636h0M801 740h0M995 809h0M817 710h0M806 734h0M796 652h0M792 655h0M873 693h0M995 808h0M916 676h0M773 619h0M846 772h0M894 753h0M748 754h0M793 741h0M967 808h0M934 746h0M1005 824h0M949 790h0M947 784h0M813 725h0M803 761h0M905 727h0M928 818h0M783 676h0M908 745h0M826 712h0M940 845h0M908 830h0M1040 819h0M861 663h0M810 721h0M847 687h0M829 686h0M909 766h0M754 683h0M897 834h0M888 803h0M930 853h0M947 801h0M975 771h0M1015 885h0M784 602h0M967 811h0M892 790h0M905 800h0M868 639h0M964 775h0M892 688h0M965 712h0M876 699h0M747 760h0M931 774h0M969 858h0M978 822h0M833 680h0M945 827h0M1032 818h0M915 790h0M793 699h0M1006 778h0M888 770h0M960 777h0M789 657h0M976 857h0M929 754h0M777 627h0M979 725h0M763 661h0M903 793h0M819 635h0M923 799h0M1041 770h0M867 728h0M799 695h0M890 769h0M875 758h0M983 771h0M974 775h0M792 705h0M767 673h0M992 817h0M848 807h0M736 634h0M880 864h0M980 773h0M841 676h0M957 724h0M780 674h0M765 672h0M877 690h0M889 772h0M755 664h0M796 668h0M896 777h0M865 721h0M760 613h0M821 735h0M963 771h0M789 659h0M904 723h0M973 775h0M942 787h0M975 795h0M996 821h0M748 630h0M895 741h0M845 737h0M914 751h0M878 644h0M865 723h0M773 643h0M960 835h0M779 656h0M946 763h0M790 700h0M813 701h0M877 739h0M977 804h0M737 711h0M884 774h0M947 716h0M1017 651h0M846 722h0M784 669h0M835 684h0M793 675h0M976 753h0M896 754h0M763 720h0M960 769h0M942 806h0M774 703h0M802 654h0M877 732h0M999 740h0M884 737h0M758 646h0M880 745h0M757 761h0M957 794h0M889 881h0M886 695h0M901 692h0M862 800h0M1045 866h0M763 635h0M954 810h0M776 664h0M762 751h0M912 784h0M757 658h0M884 755h0M969 839h0M951 777h0M770 629h0M944 852h0M957 748h0M920 834h0M893 754h0M895 767h0M792 777h0M760 744h0M927 784h0M770 717h0M956 704h0M813 726h0M741 637h0M879 658h0M909 830h0M818 684h0M923 741h0M1001 769h0M980 852h0M823 711h0M832 701h0M745 587h0M889 685h0M778 724h0M967 800h0M768 775h0M784 622h0M869 765h0M951 780h0M768 746h0M818 716h0M816 697h0M951 764h0M973 773h0M1043 773h0M761 757h0M966 809h0M772 719h0M937 831h0M906 803h0M812 789h0M809 689h0M821 698h0M991 702h0M911 805h0M940 787h0M762 742h0M900 775h0M949 793h0M900 728h0M934 800h0M860 701h0M953 747h0" stroke="#fff" stroke-opacity="0.62" stroke-width="2.6" stroke-linecap="round"/><path d="M896 723h0M987 840h0M975 773h0M812 776h0M768 721h0M956 800h0M928 774h0M970 773h0M890 723h0M894 680h0M906 727h0M940 790h0M958 786h0M920 819h0M924 838h0M954 782h0M928 755h0M883 736h0M826 641h0M752 641h0M791 679h0M997 838h0M836 696h0M969 751h0M932 820h0M736 632h0M950 799h0M772 695h0M768 751h0M808 716h0M736 650h0M934 775h0M892 748h0M798 687h0M808 650h0M831 705h0M869 741h0M934 799h0M819 678h0M1018 761h0M750 572h0M811 620h0M783 755h0M747 672h0M949 783h0M832 749h0M944 762h0M879 749h0M966 778h0M886 814h0M775 658h0M927 779h0M839 724h0M971 707h0M996 764h0M1031 746h0M873 814h0M928 882h0M774 661h0M784 750h0M838 674h0M778 653h0M949 757h0M771 651h0M851 740h0M771 693h0M768 633h0M957 747h0M787 666h0M867 772h0M937 782h0M817 659h0M808 727h0M814 757h0M930 729h0M971 819h0M764 619h0M837 745h0M962 838h0M764 743h0M948 769h0M758 707h0M900 769h0M766 707h0M755 666h0M751 680h0M927 785h0M944 748h0M852 725h0M759 707h0M934 821h0M916 757h0M947 827h0M940 764h0M944 842h0M741 651h0M989 824h0M891 690h0M780 651h0M784 809h0M805 703h0M753 696h0M871 833h0M954 720h0M817 727h0M929 796h0M769 617h0M925 857h0M743 758h0M768 731h0M957 730h0M932 877h0M842 768h0M915 712h0M896 778h0M942 777h0M1043 791h0M904 806h0M740 646h0M793 675h0M786 711h0M1034 831h0M1007 878h0M902 754h0M830 742h0M869 767h0M756 686h0M954 776h0M773 689h0M782 764h0M1036 834h0M971 739h0M737 721h0M937 775h0M953 778h0M764 588h0M736 629h0M934 765h0M782 764h0M756 721h0M860 722h0M753 626h0M906 864h0M993 843h0M740 694h0M881 724h0M936 728h0M775 573h0M904 691h0M783 780h0M917 679h0M755 714h0M986 829h0M923 693h0M853 674h0M942 747h0M942 764h0M968 792h0M900 750h0M943 863h0M983 820h0M881 643h0M1022 787h0M964 832h0M819 631h0M847 758h0M743 788h0M849 743h0M772 724h0M935 694h0M875 766h0M841 726h0M761 673h0M900 747h0M989 777h0M896 788h0M754 661h0M836 748h0M889 765h0M886 766h0M895 740h0M833 743h0M930 782h0M801 649h0M999 753h0M915 809h0M783 655h0M884 703h0M884 738h0M954 785h0M863 758h0M985 764h0M793 654h0M856 744h0M891 729h0M877 725h0M934 758h0M916 765h0M997 882h0M911 796h0M803 689h0M799 678h0M749 791h0M786 690h0M828 742h0M741 665h0M968 867h0M745 685h0M742 781h0M904 850h0M963 843h0M916 676h0M931 717h0M752 654h0M748 754h0M793 741h0M889 735h0M1005 824h0M949 790h0M878 755h0M968 817h0M865 705h0M831 708h0M905 727h0M928 818h0M783 676h0M777 654h0M826 712h0M905 767h0M908 830h0M1040 819h0M917 750h0M929 800h0M810 721h0M847 687h0M866 682h0M831 732h0M829 686h0M754 683h0M796 597h0M897 834h0M888 803h0M947 801h0M1015 885h0M784 602h0M774 728h0M967 811h0M972 799h0M751 633h0M1019 869h0M768 759h0M817 668h0M965 712h0M935 799h0M937 829h0M891 754h0M904 650h0M758 729h0M952 794h0M755 768h0M824 703h0M786 769h0M915 790h0M958 775h0M752 678h0M935 808h0M1001 814h0M941 764h0M976 857h0M819 635h0M815 722h0M806 657h0M759 762h0M867 728h0M890 769h0M917 765h0M840 715h0M983 771h0M918 788h0M792 705h0M992 817h0M736 634h0M878 636h0M898 775h0M841 676h0M957 724h0M957 782h0M750 697h0M746 737h0M796 668h0M920 754h0M878 703h0M963 771h0M789 659h0M743 751h0M843 660h0M970 829h0M901 628h0M975 795h0M975 777h0M939 769h0M852 684h0M803 708h0M914 751h0M878 644h0M970 795h0M773 624h0M947 816h0M860 708h0M990 846h0M994 833h0M948 817h0M794 703h0M923 797h0M817 750h0M760 667h0M946 763h0M813 701h0M877 739h0M866 714h0M884 719h0M835 684h0M976 753h0M837 711h0M874 741h0M841 674h0M857 676h0M918 769h0M942 806h0M907 781h0M999 740h0M884 737h0M831 699h0M866 743h0M758 646h0M757 761h0M819 774h0M895 760h0M764 689h0M767 698h0M1045 866h0M943 721h0M754 616h0M902 765h0M776 664h0M776 621h0M923 799h0M954 796h0M908 770h0M969 839h0M744 706h0M770 629h0M883 787h0M944 852h0M797 664h0M916 835h0M736 694h0M1025 838h0M920 834h0M923 793h0M832 669h0M770 717h0M885 677h0M741 637h0M885 627h0M879 658h0M747 627h0M968 796h0M881 798h0M980 852h0M745 587h0M744 702h0M895 759h0M889 685h0M777 798h0M745 660h0M742 761h0M811 711h0M877 688h0M900 788h0M776 609h0M816 697h0M848 777h0M973 773h0M750 740h0M769 704h0M879 722h0M896 754h0M906 803h0M835 687h0M821 698h0M991 702h0M911 805h0M747 636h0M775 694h0M762 742h0M900 775h0M900 728h0M927 815h0M836 770h0" stroke="#fff" stroke-opacity="0.58" stroke-width="3.6" stroke-linecap="round"/><path d="M987 840h0M975 773h0M757 667h0M804 677h0M768 721h0M922 782h0M928 774h0M977 749h0M781 638h0M849 742h0M803 742h0M979 830h0M890 723h0M894 680h0M916 765h0M940 790h0M845 821h0M920 736h0M970 809h0M826 641h0M820 737h0M791 679h0M935 790h0M997 838h0M900 718h0M966 858h0M759 642h0M982 793h0M790 668h0M736 632h0M861 717h0M802 613h0M803 740h0M925 716h0M934 775h0M892 748h0M758 705h0M798 687h0M893 766h0M1013 792h0M934 799h0M743 699h0M755 685h0M956 769h0M959 817h0M747 672h0M1021 845h0M933 810h0M842 732h0M832 749h0M984 793h0M966 778h0M997 822h0M886 814h0M775 658h0M839 724h0M854 790h0M835 754h0M983 802h0M1000 749h0M911 707h0M964 806h0M871 661h0M757 648h0M857 759h0M996 764h0M928 882h0M920 834h0M992 815h0M851 740h0M934 732h0M984 891h0M908 778h0M777 730h0M938 812h0M814 757h0M930 729h0M755 789h0M971 819h0M962 838h0M930 811h0M798 681h0M764 743h0M900 769h0M984 924h0M971 770h0M852 725h0M759 707h0M1010 780h0M870 742h0M944 842h0M800 630h0M938 843h0M860 733h0M989 824h0M874 729h0M753 696h0M961 808h0M742 672h0M893 779h0M743 758h0M874 784h0M754 607h0M793 675h0M786 711h0M958 808h0M951 827h0M773 689h0M858 684h0M899 782h0M791 764h0M760 668h0M782 763h0M911 759h0M953 786h0M787 680h0M764 588h0M934 765h0M879 721h0M902 815h0M905 777h0M823 736h0M754 593h0M922 788h0M993 843h0M987 794h0M904 691h0M982 845h0M917 679h0M890 745h0M923 693h0M942 747h0M968 792h0M887 771h0M789 663h0M923 769h0M1017 738h0M772 724h0M935 694h0M962 782h0M896 694h0M816 728h0M900 747h0M989 777h0M778 762h0M795 701h0M1003 773h0M754 661h0M886 766h0M895 740h0M771 728h0M999 753h0M949 822h0M1015 788h0M766 624h0M783 655h0M792 742h0M989 898h0M911 758h0M781 719h0M793 654h0M856 744h0M891 729h0M791 745h0M916 765h0M894 821h0M876 764h0M782 751h0M786 690h0M752 628h0M858 652h0M885 653h0M741 665h0M748 636h0M817 710h0M742 781h0M952 812h0M806 734h0M904 850h0M772 712h0M963 843h0M792 655h0M773 619h0M752 654h0M748 754h0M863 755h0M793 741h0M934 746h0M949 790h0M878 755h0M947 784h0M813 725h0M754 762h0M971 827h0M827 747h0M928 818h0M783 676h0M908 745h0M943 825h0M905 767h0M861 782h0M993 820h0M1014 795h0M934 851h0M748 719h0M746 679h0M810 721h0M806 617h0M776 665h0M866 682h0M750 651h0M827 724h0M1018 737h0M947 801h0M905 800h0M972 799h0M988 784h0M928 790h0M751 633h0M768 759h0M904 650h0M747 760h0M874 747h0M938 766h0M811 697h0M833 680h0M926 829h0M963 814h0M758 729h0M1032 818h0M755 768h0M887 747h0M786 769h0M968 785h0M958 775h0M986 828h0M888 770h0M960 777h0M935 808h0M907 753h0M846 784h0M789 657h0M929 754h0M979 725h0M882 823h0M867 728h0M875 758h0M965 769h0M964 857h0M900 726h0M983 771h0M818 614h0M792 705h0M767 673h0M736 634h0M957 724h0M957 782h0M743 675h0M780 674h0M765 672h0M827 731h0M877 690h0M889 772h0M796 668h0M896 777h0M920 754h0M883 713h0M918 666h0M931 752h0M817 675h0M806 678h0M843 660h0M946 706h0M890 806h0M942 787h0M867 754h0M901 628h0M857 728h0M914 763h0M914 751h0M865 723h0M773 624h0M860 708h0M794 703h0M740 621h0M971 853h0M823 692h0M946 763h0M876 733h0M877 739h0M977 804h0M1012 817h0M778 703h0M884 774h0M846 722h0M748 756h0M868 775h0M976 753h0M775 798h0M857 676h0M871 702h0M891 852h0M877 732h0M907 781h0M999 740h0M915 798h0M884 737h0M758 646h0M737 683h0M757 761h0M958 794h0M957 794h0M913 775h0M952 779h0M830 733h0M786 685h0M943 721h0M782 659h0M764 830h0M948 768h0M954 810h0M801 701h0M954 796h0M770 629h0M944 852h0M997 830h0M846 796h0M916 790h0M792 777h0M927 784h0M885 627h0M818 684h0M969 876h0M968 796h0M944 819h0M878 797h0M957 903h0M981 871h0M832 701h0M895 759h0M778 724h0M945 818h0M918 790h0M1001 880h0M745 660h0M742 761h0M869 765h0M886 739h0M900 788h0M877 672h0M924 780h0M1043 773h0M769 704h0M879 722h0M767 683h0M937 831h0M835 687h0M793 682h0M991 702h0M911 805h0M948 798h0M775 694h0M785 702h0M762 742h0M900 775h0M949 793h0M934 800h0" stroke="#fff" stroke-opacity="0.5" stroke-width="5" stroke-linecap="round"/><circle cx="940" cy="772" r="5" fill="#fff" opacity="0.9"/><circle cx="932" cy="797" r="3.5" fill="#fff" opacity="0.9"/><circle cx="942" cy="845" r="4" fill="#fff" opacity="0.9"/><circle cx="950" cy="805" r="3" fill="#fff" opacity="0.9"/><circle cx="900" cy="702" r="2.5" fill="#fff" opacity="0.9"/><circle cx="780" cy="700" r="3" fill="#fff" opacity="0.9"/><circle cx="845" cy="775" r="3" fill="#fff" opacity="0.9"/></g><path d="M735,330 L1047,330 L1047,408 L1020,400 L1004,397 L941,393 L878,389 L815,381 L760,374 L735,372 Z" fill="#f3dce3" filter="url(#blur2)"/><path d="M737,350 L790,342 L815,336 L935,336 L975,360 L1010,378 L1047,388 L1047,402 L1020,397 L1004,394 L941,390 L878,386 L815,378 L760,371 L737,369 Z" fill="#ffffff" filter="url(#blur2)"/><path d="M982 345h0M1005 392h0M742 354h0M959 366h0M996 374h0M980 385h0M985 362h0M796 346h0M987 342h0M1043 372h0M984 357h0M818 356h0M950 360h0M860 371h0M888 375h0M787 364h0M758 348h0M816 355h0M1006 350h0M796 344h0M803 342h0M1035 391h0M991 385h0M971 377h0M995 373h0M831 351h0M958 387h0M820 374h0M974 363h0M845 356h0M770 368h0M1033 392h0M981 378h0M996 374h0M963 356h0M779 371h0M997 381h0M776 370h0M972 371h0M994 372h0M982 385h0M786 341h0M880 365h0M942 386h0M917 355h0M776 349h0M1013 390h0M787 358h0M943 367h0M740 361h0M969 378h0M995 367h0M737 359h0" stroke="#5a2c70" stroke-opacity="0.55" stroke-width="2.6" stroke-linecap="round" filter="url(#soft)"/><rect x="732" y="1000" width="100" height="35" fill="url(#hbot)"/></g>
<path d="M753.1,395.3 H772.1 M762.6,395.3 V484.3 M753.1,484.3 H772.1" stroke="#140808" stroke-width="3.8" fill="none"/>
<line x1="681.5" y1="461.3" x2="762.6" y2="461.3" stroke="#140808" stroke-width="3.6"/>
<path d="M812.5,484 H831.5 M822,484 V844.1 M812.5,844.1 H831.5" stroke="#140808" stroke-width="3.8" fill="none"/>
<line x1="655.4" y1="706.9" x2="822" y2="706.9" stroke="#140808" stroke-width="3.6"/>
<path d="M779.5,859.4 H798.5 M789,859.4 V975.8 M779.5,975.8 H798.5" stroke="#140808" stroke-width="3.8" fill="none"/>
<line x1="641.5" y1="957.4" x2="789" y2="957.4" stroke="#140808" stroke-width="3.6"/>
<text x="482.5" y="121.2" font-size="33.4" text-anchor="start">Zona glomerulosa</text>
<text x="482.5" y="172.2" font-size="33.4" text-anchor="start">Zona fasciculata</text>
<text x="482.5" y="223.8" font-size="33.4" text-anchor="start">Zona reticularis</text>
<text x="482.5" y="274.8" font-size="33.4" text-anchor="start">Medulla</text>
<text x="771.5" y="174.6" font-size="33.4" text-anchor="start">Cortex</text>
<path d="M752.6,97.3 H763.4 V230.5 H752.6" fill="none" stroke="#111" stroke-width="2"/>
<text x="482" y="432.7" font-size="33.4" text-anchor="start">Zona</text>
<text x="482" y="470.1" font-size="33.4" text-anchor="start">glomerulosa</text>
<text x="482" y="675" font-size="33.4" text-anchor="start">Zona</text>
<text x="482" y="713.2" font-size="33.4" text-anchor="start">fasciculata</text>
<text x="482" y="926.3" font-size="33.4" text-anchor="start">Zona</text>
<text x="482" y="963.3" font-size="33.4" text-anchor="start">reticularis</text>
<text x="22.6" y="676.3" font-size="33.4" text-anchor="start">ACTH</text>
<text x="128.3" y="1029.4" font-size="42.5" text-anchor="start">A</text>
<text x="678" y="1029.2" font-size="42.5" text-anchor="start">B</text>
</svg></body></html>
